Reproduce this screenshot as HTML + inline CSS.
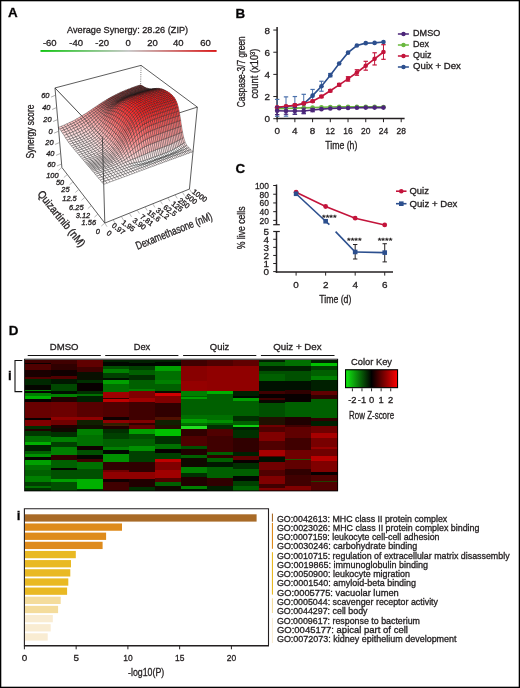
<!DOCTYPE html>
<html><head><meta charset="utf-8"><style>
html,body{margin:0;padding:0;background:#fff;}
svg{display:block;font-family:"Liberation Sans", sans-serif;will-change:transform;}
text{stroke:#231f20;stroke-width:0.32px;}
</style></head><body>
<svg width="520" height="688" viewBox="0 0 520 688" font-family='"Liberation Sans", sans-serif' fill="#231f20">
<rect x="0.65" y="0.65" width="518.7" height="686.7" fill="none" stroke="#000" stroke-width="1.3"/>
<text x="8.00" y="17.40" font-size="13.4" font-weight="bold" fill="#000">A</text>
<text x="235.40" y="17.50" font-size="13.4" font-weight="bold" fill="#000">B</text>
<text x="235.60" y="173.20" font-size="13.4" font-weight="bold" fill="#000">C</text>
<text x="8.80" y="334.50" font-size="13.4" font-weight="bold" fill="#000">D</text>
<text x="67.10" y="33.00" font-size="9.8" textLength="121" lengthAdjust="spacingAndGlyphs">Average Synergy: 28.26 (ZIP)</text>
<text x="49.80" y="46.40" font-size="9.5" text-anchor="middle">-60</text>
<text x="76.10" y="46.40" font-size="9.5" text-anchor="middle">-40</text>
<text x="102.10" y="46.40" font-size="9.5" text-anchor="middle">-20</text>
<text x="128.10" y="46.40" font-size="9.5" text-anchor="middle">0</text>
<text x="152.60" y="46.40" font-size="9.5" text-anchor="middle">20</text>
<text x="178.20" y="46.40" font-size="9.5" text-anchor="middle">40</text>
<text x="205.60" y="46.40" font-size="9.5" text-anchor="middle">60</text>
<defs><linearGradient id="cbar" x1="0" x2="1" y1="0" y2="0"><stop offset="0" stop-color="#12c412"/><stop offset="0.5" stop-color="#c8c8c8"/><stop offset="1" stop-color="#d81818"/></linearGradient><linearGradient id="ckey" x1="0" x2="1" y1="0" y2="0"><stop offset="0" stop-color="#11ee11"/><stop offset="0.5" stop-color="#000"/><stop offset="1" stop-color="#ff0000"/></linearGradient></defs>
<rect x="40.5" y="50" width="176.1" height="1.9" fill="url(#cbar)"/>
<line x1="54.99" y1="87.94" x2="141.06" y2="65.36" stroke="#333" stroke-width="0.8"/>
<line x1="141.06" y1="65.36" x2="197.33" y2="107.09" stroke="#333" stroke-width="0.8"/>
<line x1="141.06" y1="65.36" x2="139.39" y2="141.43" stroke="#444" stroke-width="0.7" stroke-dasharray="1 1.2"/>
<line x1="54.99" y1="87.94" x2="102.40" y2="137.53" stroke="#333" stroke-width="0.8"/>
<line x1="102.40" y1="137.53" x2="197.33" y2="107.09" stroke="#333" stroke-width="0.8"/>
<g stroke="#1a1a1a" stroke-width="0.4" stroke-opacity="0.88" stroke-linejoin="round">
<polygon points="140.9,86.3 142.3,85.8 140.6,84.8 139.2,85.3" fill="#7f2a2a"/>
<polygon points="139.4,86.8 140.9,86.3 139.2,85.3 137.8,85.7" fill="#7f2a2a"/>
<polygon points="137.9,87.3 139.4,86.8 137.8,85.7 136.3,86.2" fill="#7f2a2a"/>
<polygon points="136.5,87.8 137.9,87.3 136.3,86.2 134.8,86.7" fill="#7f2b2b"/>
<polygon points="142.5,87.2 144.0,86.7 142.3,85.8 140.9,86.3" fill="#7f2929"/>
<polygon points="135.0,88.3 136.5,87.8 134.8,86.7 133.3,87.3" fill="#7f2b2b"/>
<polygon points="141.1,87.7 142.5,87.2 140.9,86.3 139.4,86.8" fill="#7f2929"/>
<polygon points="133.4,88.9 135.0,88.3 133.3,87.3 131.8,87.8" fill="#7f2b2b"/>
<polygon points="139.6,88.2 141.1,87.7 139.4,86.8 137.9,87.3" fill="#7f2929"/>
<polygon points="131.9,89.4 133.4,88.9 131.8,87.8 130.3,88.4" fill="#7f2c2c"/>
<polygon points="138.1,88.7 139.6,88.2 137.9,87.3 136.5,87.8" fill="#7f2a2a"/>
<polygon points="130.3,90.0 131.9,89.4 130.3,88.4 128.7,89.0" fill="#7f2c2c"/>
<polygon points="144.2,88.0 145.7,87.6 144.0,86.7 142.5,87.2" fill="#7f2828"/>
<polygon points="136.6,89.2 138.1,88.7 136.5,87.8 135.0,88.3" fill="#7f2a2a"/>
<polygon points="128.8,90.6 130.3,90.0 128.7,89.0 127.2,89.6" fill="#7f2d2d"/>
<polygon points="142.8,88.5 144.2,88.0 142.5,87.2 141.1,87.7" fill="#7f2828"/>
<polygon points="135.1,89.8 136.6,89.2 135.0,88.3 133.4,88.9" fill="#7f2a2a"/>
<polygon points="127.2,91.3 128.8,90.6 127.2,89.6 125.6,90.2" fill="#802d2d"/>
<polygon points="141.3,89.0 142.8,88.5 141.1,87.7 139.6,88.2" fill="#7f2828"/>
<polygon points="133.5,90.3 135.1,89.8 133.4,88.9 131.9,89.4" fill="#7f2b2b"/>
<polygon points="125.6,91.9 127.2,91.3 125.6,90.2 123.9,90.9" fill="#802e2e"/>
<polygon points="139.8,89.5 141.3,89.0 139.6,88.2 138.1,88.7" fill="#7f2828"/>
<polygon points="132.0,90.9 133.5,90.3 131.9,89.4 130.3,90.0" fill="#7f2b2b"/>
<polygon points="123.9,92.6 125.6,91.9 123.9,90.9 122.3,91.6" fill="#802f2f"/>
<polygon points="146.0,88.7 147.4,88.2 145.7,87.6 144.2,88.0" fill="#7f2626"/>
<polygon points="138.3,90.0 139.8,89.5 138.1,88.7 136.6,89.2" fill="#7f2929"/>
<polygon points="130.4,91.5 132.0,90.9 130.3,90.0 128.8,90.6" fill="#802c2c"/>
<polygon points="122.3,93.4 123.9,92.6 122.3,91.6 120.7,92.3" fill="#813030"/>
<polygon points="144.5,89.1 146.0,88.7 144.2,88.0 142.8,88.5" fill="#7f2626"/>
<polygon points="136.8,90.5 138.3,90.0 136.6,89.2 135.1,89.8" fill="#7f2929"/>
<polygon points="128.8,92.2 130.4,91.5 128.8,90.6 127.2,91.3" fill="#802c2c"/>
<polygon points="120.6,94.2 122.3,93.4 120.7,92.3 119.0,93.1" fill="#813131"/>
<polygon points="143.0,89.6 144.5,89.1 142.8,88.5 141.3,89.0" fill="#7f2626"/>
<polygon points="135.2,91.1 136.8,90.5 135.1,89.8 133.5,90.3" fill="#7f2929"/>
<polygon points="118.9,95.0 120.6,94.2 119.0,93.1 117.3,93.9" fill="#823232"/>
<polygon points="127.2,92.8 128.8,92.2 127.2,91.3 125.6,91.9" fill="#802d2d"/>
<polygon points="117.1,95.8 118.9,95.0 117.3,93.9 115.6,94.8" fill="#843434"/>
<polygon points="141.5,90.1 143.0,89.6 141.3,89.0 139.8,89.5" fill="#7f2727"/>
<polygon points="125.5,93.6 127.2,92.8 125.6,91.9 123.9,92.6" fill="#802e2e"/>
<polygon points="133.6,91.7 135.2,91.1 133.5,90.3 132.0,90.9" fill="#7f2a2a"/>
<polygon points="115.4,96.8 117.1,95.8 115.6,94.8 113.8,95.7" fill="#863636"/>
<polygon points="123.9,94.3 125.5,93.6 123.9,92.6 122.3,93.4" fill="#812f2f"/>
<polygon points="132.1,92.3 133.6,91.7 132.0,90.9 130.4,91.5" fill="#802a2a"/>
<polygon points="140.0,90.6 141.5,90.1 139.8,89.5 138.3,90.0" fill="#7f2727"/>
<polygon points="147.7,89.1 149.2,88.7 147.4,88.2 146.0,88.7" fill="#7f2424"/>
<polygon points="113.6,97.7 115.4,96.8 113.8,95.7 112.0,96.6" fill="#893838"/>
<polygon points="122.2,95.1 123.9,94.3 122.3,93.4 120.6,94.2" fill="#823030"/>
<polygon points="130.4,92.9 132.1,92.3 130.4,91.5 128.8,92.2" fill="#802b2b"/>
<polygon points="138.5,91.1 140.0,90.6 138.3,90.0 136.8,90.5" fill="#7f2727"/>
<polygon points="146.2,89.6 147.7,89.1 146.0,88.7 144.5,89.1" fill="#7f2424"/>
<polygon points="111.8,98.7 113.6,97.7 112.0,96.6 110.2,97.6" fill="#8c3b3b"/>
<polygon points="120.5,95.9 122.2,95.1 120.6,94.2 118.9,95.0" fill="#833131"/>
<polygon points="128.8,93.6 130.4,92.9 128.8,92.2 127.2,92.8" fill="#802b2b"/>
<polygon points="136.9,91.6 138.5,91.1 136.8,90.5 135.2,91.1" fill="#802727"/>
<polygon points="144.7,90.0 146.2,89.6 144.5,89.1 143.0,89.6" fill="#802424"/>
<polygon points="110.0,99.8 111.8,98.7 110.2,97.6 108.4,98.6" fill="#913f3f"/>
<polygon points="118.7,96.8 120.5,95.9 118.9,95.0 117.1,95.8" fill="#843232"/>
<polygon points="127.2,94.3 128.8,93.6 127.2,92.8 125.5,93.6" fill="#802c2c"/>
<polygon points="108.1,100.9 110.0,99.8 108.4,98.6 106.6,99.7" fill="#984444"/>
<polygon points="135.3,92.2 136.9,91.6 135.2,91.1 133.6,91.7" fill="#802828"/>
<polygon points="143.2,90.5 144.7,90.0 143.0,89.6 141.5,90.1" fill="#802424"/>
<polygon points="117.0,97.7 118.7,96.8 117.1,95.8 115.4,96.8" fill="#863434"/>
<polygon points="106.2,102.1 108.1,100.9 106.6,99.7 104.7,100.9" fill="#a14a4a"/>
<polygon points="125.5,95.0 127.2,94.3 125.5,93.6 123.9,94.3" fill="#812d2d"/>
<polygon points="133.7,92.8 135.3,92.2 133.6,91.7 132.1,92.3" fill="#802828"/>
<polygon points="141.7,91.0 143.2,90.5 141.5,90.1 140.0,90.6" fill="#802424"/>
<polygon points="115.2,98.7 117.0,97.7 115.4,96.8 113.6,97.7" fill="#893737"/>
<polygon points="149.5,89.3 150.9,88.9 149.2,88.7 147.7,89.1" fill="#802121"/>
<polygon points="104.3,103.3 106.2,102.1 104.7,100.9 102.8,102.1" fill="#ab5151"/>
<polygon points="123.8,95.8 125.5,95.0 123.9,94.3 122.2,95.1" fill="#822e2e"/>
<polygon points="132.1,93.4 133.7,92.8 132.1,92.3 130.4,92.9" fill="#802929"/>
<polygon points="102.4,104.6 104.3,103.3 102.8,102.1 100.9,103.3" fill="#b75a5a"/>
<polygon points="113.4,99.7 115.2,98.7 113.6,97.7 111.8,98.7" fill="#8c3a3a"/>
<polygon points="140.2,91.5 141.7,91.0 140.0,90.6 138.5,91.1" fill="#802525"/>
<polygon points="148.0,89.7 149.5,89.3 147.7,89.1 146.2,89.6" fill="#802121"/>
<polygon points="122.1,96.6 123.8,95.8 122.2,95.1 120.5,95.9" fill="#832f2f"/>
<polygon points="100.4,105.9 102.4,104.6 100.9,103.3 98.9,104.6" fill="#c36464"/>
<polygon points="111.5,100.8 113.4,99.7 111.8,98.7 110.0,99.8" fill="#913e3e"/>
<polygon points="130.5,94.0 132.1,93.4 130.4,92.9 128.8,93.6" fill="#802929"/>
<polygon points="138.6,92.0 140.2,91.5 138.5,91.1 136.9,91.6" fill="#802525"/>
<polygon points="98.4,107.3 100.4,105.9 98.9,104.6 96.9,106.0" fill="#d06e6e"/>
<polygon points="146.5,90.2 148.0,89.7 146.2,89.6 144.7,90.0" fill="#802121"/>
<polygon points="120.3,97.5 122.1,96.6 120.5,95.9 118.7,96.8" fill="#843131"/>
<polygon points="109.7,102.0 111.5,100.8 110.0,99.8 108.1,100.9" fill="#984343"/>
<polygon points="128.8,94.7 130.5,94.0 128.8,93.6 127.2,94.3" fill="#812a2a"/>
<polygon points="96.4,108.7 98.4,107.3 96.9,106.0 94.9,107.3" fill="#db7878"/>
<polygon points="137.0,92.5 138.6,92.0 136.9,91.6 135.3,92.2" fill="#802525"/>
<polygon points="107.8,103.2 109.7,102.0 108.1,100.9 106.2,102.1" fill="#a14949"/>
<polygon points="118.6,98.4 120.3,97.5 118.7,96.8 117.0,97.7" fill="#863333"/>
<polygon points="145.0,90.6 146.5,90.2 144.7,90.0 143.2,90.5" fill="#802121"/>
<polygon points="94.3,110.1 96.4,108.7 94.9,107.3 92.8,108.7" fill="#e58282"/>
<polygon points="127.1,95.4 128.8,94.7 127.2,94.3 125.5,95.0" fill="#812b2b"/>
<polygon points="105.9,104.4 107.8,103.2 106.2,102.1 104.3,103.3" fill="#ab5050"/>
<polygon points="116.8,99.4 118.6,98.4 117.0,97.7 115.2,98.7" fill="#893535"/>
<polygon points="135.4,93.1 137.0,92.5 135.3,92.2 133.7,92.8" fill="#802525"/>
<polygon points="92.2,111.6 94.3,110.1 92.8,108.7 90.7,110.1" fill="#ec8b8b"/>
<polygon points="143.5,91.1 145.0,90.6 143.2,90.5 141.7,91.0" fill="#802222"/>
<polygon points="103.9,105.8 105.9,104.4 104.3,103.3 102.4,104.6" fill="#b75959"/>
<polygon points="125.4,96.2 127.1,95.4 125.5,95.0 123.8,95.8" fill="#822c2c"/>
<polygon points="151.3,89.3 152.8,88.8 150.9,88.9 149.5,89.3" fill="#811e1e"/>
<polygon points="114.9,100.5 116.8,99.4 115.2,98.7 113.4,99.7" fill="#8d3838"/>
<polygon points="90.0,113.1 92.2,111.6 90.7,110.1 88.6,111.6" fill="#f29494"/>
<polygon points="101.9,107.2 103.9,105.8 102.4,104.6 100.4,105.9" fill="#c36363"/>
<polygon points="133.8,93.6 135.4,93.1 133.7,92.8 132.1,93.4" fill="#812626"/>
<polygon points="141.9,91.6 143.5,91.1 141.7,91.0 140.2,91.5" fill="#812222"/>
<polygon points="113.1,101.6 114.9,100.5 113.4,99.7 111.5,100.8" fill="#923c3c"/>
<polygon points="123.7,97.0 125.4,96.2 123.8,95.8 122.1,96.6" fill="#832d2d"/>
<polygon points="87.8,114.5 90.0,113.1 88.6,111.6 86.4,113.0" fill="#f69b9b"/>
<polygon points="99.9,108.6 101.9,107.2 100.4,105.9 98.4,107.3" fill="#d06d6d"/>
<polygon points="149.8,89.7 151.3,89.3 149.5,89.3 148.0,89.7" fill="#811e1e"/>
<polygon points="132.2,94.2 133.8,93.6 132.1,93.4 130.5,94.0" fill="#812626"/>
<polygon points="111.2,102.8 113.1,101.6 111.5,100.8 109.7,102.0" fill="#984141"/>
<polygon points="97.9,110.1 99.9,108.6 98.4,107.3 96.4,108.7" fill="#db7777"/>
<polygon points="85.6,116.0 87.8,114.5 86.4,113.0 84.1,114.4" fill="#f9a3a3"/>
<polygon points="140.3,92.1 141.9,91.6 140.2,91.5 138.6,92.0" fill="#812222"/>
<polygon points="121.9,97.9 123.7,97.0 122.1,96.6 120.3,97.5" fill="#852e2e"/>
<polygon points="148.3,90.1 149.8,89.7 148.0,89.7 146.5,90.2" fill="#821e1e"/>
<polygon points="109.3,104.1 111.2,102.8 109.7,102.0 107.8,103.2" fill="#a14747"/>
<polygon points="95.8,111.6 97.9,110.1 96.4,108.7 94.3,110.1" fill="#e58282"/>
<polygon points="130.5,94.9 132.2,94.2 130.5,94.0 128.8,94.7" fill="#812727"/>
<polygon points="83.3,117.5 85.6,116.0 84.1,114.4 81.9,115.8" fill="#fba9a9"/>
<polygon points="120.2,98.8 121.9,97.9 120.3,97.5 118.6,98.4" fill="#873030"/>
<polygon points="138.8,92.6 140.3,92.1 138.6,92.0 137.0,92.5" fill="#812222"/>
<polygon points="107.4,105.4 109.3,104.1 107.8,103.2 105.9,104.4" fill="#ab4f4f"/>
<polygon points="93.7,113.1 95.8,111.6 94.3,110.1 92.2,111.6" fill="#ec8b8b"/>
<polygon points="146.8,90.6 148.3,90.1 146.5,90.2 145.0,90.6" fill="#821e1e"/>
<polygon points="81.0,118.9 83.3,117.5 81.9,115.8 79.5,117.2" fill="#fcafaf"/>
<polygon points="128.8,95.6 130.5,94.9 128.8,94.7 127.1,95.4" fill="#822828"/>
<polygon points="118.4,99.8 120.2,98.8 118.6,98.4 116.8,99.4" fill="#893333"/>
<polygon points="105.4,106.9 107.4,105.4 105.9,104.4 103.9,105.8" fill="#b75858"/>
<polygon points="91.5,114.7 93.7,113.1 92.2,111.6 90.0,113.1" fill="#f29494"/>
<polygon points="137.1,93.1 138.8,92.6 137.0,92.5 135.4,93.1" fill="#822222"/>
<polygon points="103.5,108.3 105.4,106.9 103.9,105.8 101.9,107.2" fill="#c46161"/>
<polygon points="116.5,100.9 118.4,99.8 116.8,99.4 114.9,100.5" fill="#8d3636"/>
<polygon points="89.3,116.2 91.5,114.7 90.0,113.1 87.8,114.5" fill="#f69c9c"/>
<polygon points="145.2,91.0 146.8,90.6 145.0,90.6 143.5,91.1" fill="#821e1e"/>
<polygon points="78.6,120.3 81.0,118.9 79.5,117.2 77.1,118.6" fill="#fdb5b5"/>
<polygon points="127.1,96.3 128.8,95.6 127.1,95.4 125.4,96.2" fill="#832929"/>
<polygon points="101.4,109.9 103.5,108.3 101.9,107.2 99.9,108.6" fill="#d06c6c"/>
<polygon points="153.1,89.1 154.6,88.6 152.8,88.8 151.3,89.3" fill="#841a1a"/>
<polygon points="135.5,93.7 137.1,93.1 135.4,93.1 133.8,93.6" fill="#822323"/>
<polygon points="114.7,102.1 116.5,100.9 114.9,100.5 113.1,101.6" fill="#923a3a"/>
<polygon points="87.1,117.7 89.3,116.2 87.8,114.5 85.6,116.0" fill="#f9a3a3"/>
<polygon points="99.4,111.5 101.4,109.9 99.9,108.6 97.9,110.1" fill="#db7777"/>
<polygon points="143.7,91.5 145.2,91.0 143.5,91.1 141.9,91.6" fill="#831f1f"/>
<polygon points="125.3,97.1 127.1,96.3 125.4,96.2 123.7,97.0" fill="#842a2a"/>
<polygon points="76.1,121.6 78.6,120.3 77.1,118.6 74.7,120.0" fill="#febaba"/>
<polygon points="112.8,103.3 114.7,102.1 113.1,101.6 111.2,102.8" fill="#993f3f"/>
<polygon points="97.3,113.1 99.4,111.5 97.9,110.1 95.8,111.6" fill="#e58181"/>
<polygon points="84.8,119.2 87.1,117.7 85.6,116.0 83.3,117.5" fill="#fbaaaa"/>
<polygon points="151.6,89.5 153.1,89.1 151.3,89.3 149.8,89.7" fill="#851b1b"/>
<polygon points="133.9,94.3 135.5,93.7 133.8,93.6 132.2,94.2" fill="#822323"/>
<polygon points="95.2,114.7 97.3,113.1 95.8,111.6 93.7,113.1" fill="#ec8b8b"/>
<polygon points="123.6,97.9 125.3,97.1 123.7,97.0 121.9,97.9" fill="#862b2b"/>
<polygon points="110.9,104.7 112.8,103.3 111.2,102.8 109.3,104.1" fill="#a24545"/>
<polygon points="142.1,92.0 143.7,91.5 141.9,91.6 140.3,92.1" fill="#831f1f"/>
<polygon points="73.6,123.0 76.1,121.6 74.7,120.0 72.2,121.3" fill="#febebe"/>
<polygon points="82.4,120.7 84.8,119.2 83.3,117.5 81.0,118.9" fill="#fcb0b0"/>
<polygon points="93.0,116.4 95.2,114.7 93.7,113.1 91.5,114.7" fill="#f29595"/>
<polygon points="109.0,106.2 110.9,104.7 109.3,104.1 107.4,105.4" fill="#ac4c4c"/>
<polygon points="150.1,89.9 151.6,89.5 149.8,89.7 148.3,90.1" fill="#851b1b"/>
<polygon points="132.2,94.9 133.9,94.3 132.2,94.2 130.5,94.9" fill="#832424"/>
<polygon points="121.8,98.9 123.6,97.9 121.9,97.9 120.2,98.8" fill="#882d2d"/>
<polygon points="107.0,107.7 109.0,106.2 107.4,105.4 105.4,106.9" fill="#b85555"/>
<polygon points="90.8,118.0 93.0,116.4 91.5,114.7 89.3,116.2" fill="#f69d9d"/>
<polygon points="140.5,92.5 142.1,92.0 140.3,92.1 138.8,92.6" fill="#841f1f"/>
<polygon points="80.0,122.1 82.4,120.7 81.0,118.9 78.6,120.3" fill="#fdb6b6"/>
<polygon points="71.0,124.3 73.6,123.0 72.2,121.3 69.6,122.5" fill="#fec3c3"/>
<polygon points="105.0,109.3 107.0,107.7 105.4,106.9 103.5,108.3" fill="#c46060"/>
<polygon points="120.0,99.9 121.8,98.9 120.2,98.8 118.4,99.8" fill="#8b2f2f"/>
<polygon points="148.6,90.4 150.1,89.9 148.3,90.1 146.8,90.6" fill="#861b1b"/>
<polygon points="130.5,95.5 132.2,94.9 130.5,94.9 128.8,95.6" fill="#842424"/>
<polygon points="88.6,119.6 90.8,118.0 89.3,116.2 87.1,117.7" fill="#f9a5a5"/>
<polygon points="103.0,111.0 105.0,109.3 103.5,108.3 101.4,109.9" fill="#d16b6b"/>
<polygon points="77.6,123.5 80.0,122.1 78.6,120.3 76.1,121.6" fill="#febbbb"/>
<polygon points="138.9,93.0 140.5,92.5 138.8,92.6 137.1,93.1" fill="#841f1f"/>
<polygon points="100.9,112.8 103.0,111.0 101.4,109.9 99.4,111.5" fill="#dc7676"/>
<polygon points="118.1,101.0 120.0,99.9 118.4,99.8 116.5,100.9" fill="#8f3232"/>
<polygon points="86.3,121.2 88.6,119.6 87.1,117.7 84.8,119.2" fill="#fbacac"/>
<polygon points="68.3,125.5 71.0,124.3 69.6,122.5 66.9,123.8" fill="#fec7c7"/>
<polygon points="147.0,90.8 148.6,90.4 146.8,90.6 145.2,91.0" fill="#861b1b"/>
<polygon points="128.8,96.2 130.5,95.5 128.8,95.6 127.1,96.3" fill="#852525"/>
<polygon points="98.8,114.6 100.9,112.8 99.4,111.5 97.3,113.1" fill="#e58181"/>
<polygon points="116.3,102.2 118.1,101.0 116.5,100.9 114.7,102.1" fill="#943636"/>
<polygon points="96.7,116.4 98.8,114.6 97.3,113.1 95.2,114.7" fill="#ed8c8c"/>
<polygon points="155.0,88.9 156.5,88.4 154.6,88.6 153.1,89.1" fill="#8a1717"/>
<polygon points="83.9,122.7 86.3,121.2 84.8,119.2 82.4,120.7" fill="#fcb3b3"/>
<polygon points="75.0,124.9 77.6,123.5 76.1,121.6 73.6,123.0" fill="#fec0c0"/>
<polygon points="137.3,93.5 138.9,93.0 137.1,93.1 135.5,93.7" fill="#852020"/>
<polygon points="94.5,118.2 96.7,116.4 95.2,114.7 93.0,116.4" fill="#f29696"/>
<polygon points="127.0,96.9 128.8,96.2 127.1,96.3 125.3,97.1" fill="#862626"/>
<polygon points="114.4,103.5 116.3,102.2 114.7,102.1 112.8,103.3" fill="#9b3b3b"/>
<polygon points="145.5,91.3 147.0,90.8 145.2,91.0 143.7,91.5" fill="#871b1b"/>
<polygon points="65.6,126.8 68.3,125.5 66.9,123.8 64.2,125.0" fill="#fecaca"/>
<polygon points="92.3,120.0 94.5,118.2 93.0,116.4 90.8,118.0" fill="#f69f9f"/>
<polygon points="81.5,124.2 83.9,122.7 82.4,120.7 80.0,122.1" fill="#fdb9b9"/>
<polygon points="112.5,104.9 114.4,103.5 112.8,103.3 110.9,104.7" fill="#a34242"/>
<polygon points="153.5,89.3 155.0,88.9 153.1,89.1 151.6,89.5" fill="#8b1717"/>
<polygon points="135.6,94.1 137.3,93.5 135.5,93.7 133.9,94.3" fill="#862020"/>
<polygon points="72.4,126.2 75.0,124.9 73.6,123.0 71.0,124.3" fill="#fec5c5"/>
<polygon points="125.2,97.7 127.0,96.9 125.3,97.1 123.6,97.9" fill="#882828"/>
<polygon points="90.1,121.8 92.3,120.0 90.8,118.0 88.6,119.6" fill="#f9a8a8"/>
<polygon points="110.5,106.5 112.5,104.9 110.9,104.7 109.0,106.2" fill="#ae4949"/>
<polygon points="143.9,91.8 145.5,91.3 143.7,91.5 142.1,92.0" fill="#881b1b"/>
<polygon points="79.0,125.6 81.5,124.2 80.0,122.1 77.6,123.5" fill="#febfbf"/>
<polygon points="108.6,108.2 110.5,106.5 109.0,106.2 107.0,107.7" fill="#b95252"/>
<polygon points="87.8,123.4 90.1,121.8 88.6,119.6 86.3,121.2" fill="#fbb0b0"/>
<polygon points="152.0,89.7 153.5,89.3 151.6,89.5 150.1,89.9" fill="#8d1818"/>
<polygon points="133.9,94.7 135.6,94.1 133.9,94.3 132.2,94.9" fill="#872020"/>
<polygon points="62.7,128.0 65.6,126.8 64.2,125.0 61.3,126.2" fill="#fecdcd"/>
<polygon points="106.6,110.1 108.6,108.2 107.0,107.7 105.0,109.3" fill="#c65d5d"/>
<polygon points="123.5,98.6 125.2,97.7 123.6,97.9 121.8,98.9" fill="#8b2929"/>
<polygon points="69.7,127.5 72.4,126.2 71.0,124.3 68.3,125.5" fill="#fec9c9"/>
<polygon points="104.5,112.0 106.6,110.1 105.0,109.3 103.0,111.0" fill="#d26969"/>
<polygon points="142.3,92.3 143.9,91.8 142.1,92.0 140.5,92.5" fill="#891c1c"/>
<polygon points="102.5,114.0 104.5,112.0 103.0,111.0 100.9,112.8" fill="#dd7575"/>
<polygon points="85.4,125.1 87.8,123.4 86.3,121.2 83.9,122.7" fill="#fcb7b7"/>
<polygon points="76.5,127.0 79.0,125.6 77.6,123.5 75.0,124.9" fill="#fec4c4"/>
<polygon points="100.4,116.1 102.5,114.0 100.9,112.8 98.8,114.6" fill="#e68181"/>
<polygon points="121.6,99.6 123.5,98.6 121.8,98.9 120.0,99.9" fill="#8e2c2c"/>
<polygon points="150.4,90.2 152.0,89.7 150.1,89.9 148.6,90.4" fill="#8e1818"/>
<polygon points="98.3,118.2 100.4,116.1 98.8,114.6 96.7,116.4" fill="#ee8d8d"/>
<polygon points="132.2,95.3 133.9,94.7 132.2,94.9 130.5,95.5" fill="#882121"/>
<polygon points="96.1,120.2 98.3,118.2 96.7,116.4 94.5,118.2" fill="#f39898"/>
<polygon points="83.0,126.6 85.4,125.1 83.9,122.7 81.5,124.2" fill="#fdbebe"/>
<polygon points="140.7,92.8 142.3,92.3 140.5,92.5 138.9,93.0" fill="#8a1c1c"/>
<polygon points="93.9,122.2 96.1,120.2 94.5,118.2 92.3,120.0" fill="#f7a3a3"/>
<polygon points="59.8,129.2 62.7,128.0 61.3,126.2 58.4,127.4" fill="#fed0d0"/>
<polygon points="67.0,128.7 69.7,127.5 68.3,125.5 65.6,126.8" fill="#fecccc"/>
<polygon points="119.8,100.7 121.6,99.6 120.0,99.9 118.1,101.0" fill="#922f2f"/>
<polygon points="73.9,128.3 76.5,127.0 75.0,124.9 72.4,126.2" fill="#fec8c8"/>
<polygon points="91.6,124.1 93.9,122.2 92.3,120.0 90.1,121.8" fill="#faadad"/>
<polygon points="148.9,90.7 150.4,90.2 148.6,90.4 147.0,90.8" fill="#8f1818"/>
<polygon points="130.5,95.9 132.2,95.3 130.5,95.5 128.8,96.2" fill="#892222"/>
<polygon points="80.5,128.0 83.0,126.6 81.5,124.2 79.0,125.6" fill="#fec4c4"/>
<polygon points="117.9,101.9 119.8,100.7 118.1,101.0 116.3,102.2" fill="#973232"/>
<polygon points="156.9,88.8 158.3,88.4 156.5,88.4 155.0,88.9" fill="#971515"/>
<polygon points="89.3,125.9 91.6,124.1 90.1,121.8 87.8,123.4" fill="#fbb6b6"/>
<polygon points="139.0,93.3 140.7,92.8 138.9,93.0 137.3,93.5" fill="#8c1d1d"/>
<polygon points="116.0,103.3 117.9,101.9 116.3,102.2 114.4,103.5" fill="#9e3737"/>
<polygon points="128.7,96.6 130.5,95.9 128.8,96.2 127.0,96.9" fill="#8b2323"/>
<polygon points="147.3,91.1 148.9,90.7 147.0,90.8 145.5,91.3" fill="#911818"/>
<polygon points="64.1,129.9 67.0,128.7 65.6,126.8 62.7,128.0" fill="#fed0d0"/>
<polygon points="87.0,127.6 89.3,125.9 87.8,123.4 85.4,125.1" fill="#fdbebe"/>
<polygon points="71.2,129.6 73.9,128.3 72.4,126.2 69.7,127.5" fill="#fecccc"/>
<polygon points="78.0,129.4 80.5,128.0 79.0,125.6 76.5,127.0" fill="#fec9c9"/>
<polygon points="114.1,104.8 116.0,103.3 114.4,103.5 112.5,104.9" fill="#a73e3e"/>
<polygon points="155.3,89.3 156.9,88.8 155.0,88.9 153.5,89.3" fill="#991515"/>
<polygon points="137.4,93.8 139.0,93.3 137.3,93.5 135.6,94.1" fill="#8d1d1d"/>
<polygon points="112.1,106.5 114.1,104.8 112.5,104.9 110.5,106.5" fill="#b14545"/>
<polygon points="84.6,129.2 87.0,127.6 85.4,125.1 83.0,126.6" fill="#fdc5c5"/>
<polygon points="126.9,97.4 128.7,96.6 127.0,96.9 125.2,97.7" fill="#8e2424"/>
<polygon points="145.7,91.6 147.3,91.1 145.5,91.3 143.9,91.8" fill="#931919"/>
<polygon points="110.1,108.4 112.1,106.5 110.5,106.5 108.6,108.2" fill="#bd4f4f"/>
<polygon points="99.8,119.8 101.9,117.4 100.4,116.1 98.3,118.2" fill="#ef8e8e"/>
<polygon points="97.6,122.2 99.8,119.8 98.3,118.2 96.1,120.2" fill="#f49b9b"/>
<polygon points="108.1,110.5 110.1,108.4 108.6,108.2 106.6,110.1" fill="#c95a5a"/>
<polygon points="101.9,117.4 104.0,115.0 102.5,114.0 100.4,116.1" fill="#e88181"/>
<polygon points="104.0,115.0 106.1,112.7 104.5,112.0 102.5,114.0" fill="#df7373"/>
<polygon points="106.1,112.7 108.1,110.5 106.6,110.1 104.5,112.0" fill="#d56666"/>
<polygon points="95.4,124.4 97.6,122.2 96.1,120.2 93.9,122.2" fill="#f8a7a7"/>
<polygon points="68.4,130.8 71.2,129.6 69.7,127.5 67.0,128.7" fill="#fed0d0"/>
<polygon points="153.8,89.7 155.3,89.3 153.5,89.3 152.0,89.7" fill="#9b1515"/>
<polygon points="75.4,130.7 78.0,129.4 76.5,127.0 73.9,128.3" fill="#fecece"/>
<polygon points="93.2,126.5 95.4,124.4 93.9,122.2 91.6,124.1" fill="#fab2b2"/>
<polygon points="61.2,131.1 64.1,129.9 62.7,128.0 59.8,129.2" fill="#fed2d2"/>
<polygon points="135.7,94.4 137.4,93.8 135.6,94.1 133.9,94.7" fill="#8f1e1e"/>
<polygon points="82.1,130.6 84.6,129.2 83.0,126.6 80.5,128.0" fill="#fecbcb"/>
<polygon points="125.1,98.3 126.9,97.4 125.2,97.7 123.5,98.6" fill="#902626"/>
<polygon points="90.9,128.4 93.2,126.5 91.6,124.1 89.3,125.9" fill="#fcbcbc"/>
<polygon points="144.1,92.1 145.7,91.6 143.9,91.8 142.3,92.3" fill="#941919"/>
<polygon points="88.5,130.1 90.9,128.4 89.3,125.9 87.0,127.6" fill="#fdc5c5"/>
<polygon points="152.3,90.2 153.8,89.7 152.0,89.7 150.4,90.2" fill="#9d1616"/>
<polygon points="123.3,99.2 125.1,98.3 123.5,98.6 121.6,99.6" fill="#942828"/>
<polygon points="133.9,95.0 135.7,94.4 133.9,94.7 132.2,95.3" fill="#911e1e"/>
<polygon points="72.7,132.0 75.4,130.7 73.9,128.3 71.2,129.6" fill="#fed2d2"/>
<polygon points="79.5,132.0 82.1,130.6 80.5,128.0 78.0,129.4" fill="#fed1d1"/>
<polygon points="65.6,132.1 68.4,130.8 67.0,128.7 64.1,129.9" fill="#fed3d3"/>
<polygon points="142.5,92.6 144.1,92.1 142.3,92.3 140.7,92.8" fill="#971a1a"/>
<polygon points="86.1,131.7 88.5,130.1 87.0,127.6 84.6,129.2" fill="#fecdcd"/>
<polygon points="121.4,100.3 123.3,99.2 121.6,99.6 119.8,100.7" fill="#992b2b"/>
<polygon points="150.7,90.6 152.3,90.2 150.4,90.2 148.9,90.7" fill="#a01616"/>
<polygon points="132.2,95.6 133.9,95.0 132.2,95.3 130.5,95.9" fill="#931f1f"/>
<polygon points="158.7,89.0 160.2,88.6 158.3,88.4 156.9,88.8" fill="#ac1313"/>
<polygon points="76.9,133.3 79.5,132.0 78.0,129.4 75.4,130.7" fill="#fed6d6"/>
<polygon points="69.9,133.2 72.7,132.0 71.2,129.6 68.4,130.8" fill="#fed6d6"/>
<polygon points="83.6,133.2 86.1,131.7 84.6,129.2 82.1,130.6" fill="#fed3d3"/>
<polygon points="119.5,101.5 121.4,100.3 119.8,100.7 117.9,101.9" fill="#9f2f2f"/>
<polygon points="97.0,126.4 99.2,124.0 97.6,122.2 95.4,124.4" fill="#f9abab"/>
<polygon points="94.7,128.7 97.0,126.4 95.4,124.4 93.2,126.5" fill="#fbb7b7"/>
<polygon points="140.8,93.1 142.5,92.6 140.7,92.8 139.0,93.3" fill="#991a1a"/>
<polygon points="99.2,124.0 101.4,121.3 99.8,119.8 97.6,122.2" fill="#f69d9d"/>
<polygon points="62.6,133.2 65.6,132.1 64.1,129.9 61.2,131.1" fill="#fed6d6"/>
<polygon points="92.4,130.7 94.7,128.7 93.2,126.5 90.9,128.4" fill="#fdc2c2"/>
<polygon points="101.4,121.3 103.5,118.6 101.9,117.4 99.8,119.8" fill="#f28f8f"/>
<polygon points="149.1,91.1 150.7,90.6 148.9,90.7 147.3,91.1" fill="#a21717"/>
<polygon points="117.6,102.9 119.5,101.5 117.9,101.9 116.0,103.3" fill="#a63434"/>
<polygon points="130.4,96.3 132.2,95.6 130.5,95.9 128.7,96.6" fill="#962020"/>
<polygon points="157.2,89.5 158.7,89.0 156.9,88.8 155.3,89.3" fill="#af1414"/>
<polygon points="103.5,118.6 105.6,115.9 104.0,115.0 101.9,117.4" fill="#ec8080"/>
<polygon points="90.1,132.5 92.4,130.7 90.9,128.4 88.5,130.1" fill="#fdcccc"/>
<polygon points="81.0,134.5 83.6,133.2 82.1,130.6 79.5,132.0" fill="#fed9d9"/>
<polygon points="115.7,104.5 117.6,102.9 116.0,103.3 114.1,104.8" fill="#af3a3a"/>
<polygon points="74.2,134.5 76.9,133.3 75.4,130.7 72.7,132.0" fill="#fedada"/>
<polygon points="105.6,115.9 107.7,113.2 106.1,112.7 104.0,115.0" fill="#e47171"/>
<polygon points="139.1,93.6 140.8,93.1 139.0,93.3 137.4,93.8" fill="#9b1b1b"/>
<polygon points="107.7,113.2 109.7,110.7 108.1,110.5 106.1,112.7" fill="#db6363"/>
<polygon points="113.7,106.3 115.7,104.5 114.1,104.8 112.1,106.5" fill="#b94141"/>
<polygon points="67.0,134.4 69.9,133.2 68.4,130.8 65.6,132.1" fill="#fed9d9"/>
<polygon points="147.5,91.6 149.1,91.1 147.3,91.1 145.7,91.6" fill="#a51717"/>
<polygon points="109.7,110.7 111.7,108.4 110.1,108.4 108.1,110.5" fill="#d05656"/>
<polygon points="111.7,108.4 113.7,106.3 112.1,106.5 110.1,108.4" fill="#c44b4b"/>
<polygon points="87.6,134.0 90.1,132.5 88.5,130.1 86.1,131.7" fill="#fed4d4"/>
<polygon points="128.6,97.1 130.4,96.3 128.7,96.6 126.9,97.4" fill="#992222"/>
<polygon points="155.7,89.9 157.2,89.5 155.3,89.3 153.8,89.7" fill="#b21414"/>
<polygon points="78.4,135.7 81.0,134.5 79.5,132.0 76.9,133.3" fill="#fedede"/>
<polygon points="137.4,94.2 139.1,93.6 137.4,93.8 135.7,94.4" fill="#9e1b1b"/>
<polygon points="71.4,135.7 74.2,134.5 72.7,132.0 69.9,133.2" fill="#fedddd"/>
<polygon points="85.1,135.4 87.6,134.0 86.1,131.7 83.6,133.2" fill="#fedbdb"/>
<polygon points="126.8,97.9 128.6,97.1 126.9,97.4 125.1,98.3" fill="#9d2323"/>
<polygon points="145.9,92.1 147.5,91.6 145.7,91.6 144.1,92.1" fill="#a81717"/>
<polygon points="154.2,90.4 155.7,89.9 153.8,89.7 152.3,90.2" fill="#b51414"/>
<polygon points="96.3,130.6 98.6,128.2 97.0,126.4 94.7,128.7" fill="#fcbbbb"/>
<polygon points="64.1,135.5 67.0,134.4 65.6,132.1 62.6,133.2" fill="#fedbdb"/>
<polygon points="98.6,128.2 100.8,125.6 99.2,124.0 97.0,126.4" fill="#fbaeae"/>
<polygon points="94.0,132.7 96.3,130.6 94.7,128.7 92.4,130.7" fill="#fdc7c7"/>
<polygon points="135.7,94.8 137.4,94.2 135.7,94.4 133.9,95.0" fill="#a11c1c"/>
<polygon points="100.8,125.6 103.0,122.7 101.4,121.3 99.2,124.0" fill="#f99f9f"/>
<polygon points="125.0,98.8 126.8,97.9 125.1,98.3 123.3,99.2" fill="#a12525"/>
<polygon points="75.7,136.9 78.4,135.7 76.9,133.3 74.2,134.5" fill="#fee1e1"/>
<polygon points="82.6,136.7 85.1,135.4 83.6,133.2 81.0,134.5" fill="#fee0e0"/>
<polygon points="91.6,134.5 94.0,132.7 92.4,130.7 90.1,132.5" fill="#fed1d1"/>
<polygon points="144.3,92.6 145.9,92.1 144.1,92.1 142.5,92.6" fill="#ab1818"/>
<polygon points="152.6,90.8 154.2,90.4 152.3,90.2 150.7,90.6" fill="#b91515"/>
<polygon points="160.6,89.5 162.1,89.0 160.2,88.6 158.7,89.0" fill="#c71212"/>
<polygon points="103.0,122.7 105.1,119.7 103.5,118.6 101.4,121.3" fill="#f68f8f"/>
<polygon points="68.5,136.8 71.4,135.7 69.9,133.2 67.0,134.4" fill="#fee0e0"/>
<polygon points="123.1,99.9 125.0,98.8 123.3,99.2 121.4,100.3" fill="#a62828"/>
<polygon points="89.2,136.1 91.6,134.5 90.1,132.5 87.6,134.0" fill="#fed9d9"/>
<polygon points="134.0,95.4 135.7,94.8 133.9,95.0 132.2,95.6" fill="#a41d1d"/>
<polygon points="105.1,119.7 107.2,116.6 105.6,115.9 103.5,118.6" fill="#f17f7f"/>
<polygon points="142.6,93.1 144.3,92.6 142.5,92.6 140.8,93.1" fill="#af1919"/>
<polygon points="79.9,137.9 82.6,136.7 81.0,134.5 78.4,135.7" fill="#fee5e5"/>
<polygon points="151.0,91.3 152.6,90.8 150.7,90.6 149.1,91.1" fill="#bc1515"/>
<polygon points="159.1,89.9 160.6,89.5 158.7,89.0 157.2,89.5" fill="#ca1212"/>
<polygon points="121.2,101.1 123.1,99.9 121.4,100.3 119.5,101.5" fill="#ad2c2c"/>
<polygon points="72.9,138.0 75.7,136.9 74.2,134.5 71.4,135.7" fill="#fee4e4"/>
<polygon points="107.2,116.6 109.3,113.6 107.7,113.2 105.6,115.9" fill="#eb7070"/>
<polygon points="86.7,137.5 89.2,136.1 87.6,134.0 85.1,135.4" fill="#fee0e0"/>
<polygon points="132.2,96.1 134.0,95.4 132.2,95.6 130.4,96.3" fill="#a81e1e"/>
<polygon points="119.3,102.5 121.2,101.1 119.5,101.5 117.6,102.9" fill="#b43131"/>
<polygon points="65.5,137.9 68.5,136.8 67.0,134.4 64.1,135.5" fill="#fee2e2"/>
<polygon points="109.3,113.6 111.3,110.8 109.7,110.7 107.7,113.2" fill="#e36161"/>
<polygon points="140.9,93.6 142.6,93.1 140.8,93.1 139.1,93.6" fill="#b21919"/>
<polygon points="149.4,91.8 151.0,91.3 149.1,91.1 147.5,91.6" fill="#bf1616"/>
<polygon points="117.3,104.2 119.3,102.5 117.6,102.9 115.7,104.5" fill="#bd3737"/>
<polygon points="157.6,90.4 159.1,89.9 157.2,89.5 155.7,89.9" fill="#cd1313"/>
<polygon points="111.3,110.8 113.3,108.3 111.7,108.4 109.7,110.7" fill="#da5454"/>
<polygon points="97.9,132.4 100.1,129.9 98.6,128.2 96.3,130.6" fill="#fdbdbd"/>
<polygon points="95.5,134.5 97.9,132.4 96.3,130.6 94.0,132.7" fill="#fec9c9"/>
<polygon points="115.3,106.1 117.3,104.2 115.7,104.5 113.7,106.3" fill="#c63f3f"/>
<polygon points="113.3,108.3 115.3,106.1 113.7,106.3 111.7,108.4" fill="#d04848"/>
<polygon points="77.2,139.0 79.9,137.9 78.4,135.7 75.7,136.9" fill="#fee8e8"/>
<polygon points="100.1,129.9 102.4,127.1 100.8,125.6 98.6,128.2" fill="#fdafaf"/>
<polygon points="130.4,96.8 132.2,96.1 130.4,96.3 128.6,97.1" fill="#ac2020"/>
<polygon points="84.1,138.7 86.7,137.5 85.1,135.4 82.6,136.7" fill="#fee5e5"/>
<polygon points="93.2,136.4 95.5,134.5 94.0,132.7 91.6,134.5" fill="#fed4d4"/>
<polygon points="70.0,139.1 72.9,138.0 71.4,135.7 68.5,136.8" fill="#fee7e7"/>
<polygon points="102.4,127.1 104.5,123.9 103.0,122.7 100.8,125.6" fill="#fb9f9f"/>
<polygon points="139.2,94.2 140.9,93.6 139.1,93.6 137.4,94.2" fill="#b61a1a"/>
<polygon points="156.0,90.8 157.6,90.4 155.7,89.9 154.2,90.4" fill="#d01313"/>
<polygon points="147.8,92.3 149.4,91.8 147.5,91.6 145.9,92.1" fill="#c31616"/>
<polygon points="90.7,138.0 93.2,136.4 91.6,134.5 89.2,136.1" fill="#fedcdc"/>
<polygon points="128.5,97.7 130.4,96.8 128.6,97.1 126.8,97.9" fill="#b12222"/>
<polygon points="104.5,123.9 106.7,120.6 105.1,119.7 103.0,122.7" fill="#f98f8f"/>
<polygon points="81.4,139.9 84.1,138.7 82.6,136.7 79.9,137.9" fill="#fee9e9"/>
<polygon points="74.4,140.1 77.2,139.0 75.7,136.9 72.9,138.0" fill="#feebeb"/>
<polygon points="162.6,90.2 164.1,89.8 162.1,89.0 160.6,89.5" fill="#df1111"/>
<polygon points="137.5,94.8 139.2,94.2 137.4,94.2 135.7,94.8" fill="#ba1b1b"/>
<polygon points="154.5,91.3 156.0,90.8 154.2,90.4 152.6,90.8" fill="#d31313"/>
<polygon points="146.1,92.8 147.8,92.3 145.9,92.1 144.3,92.6" fill="#c61717"/>
<polygon points="126.7,98.6 128.5,97.7 126.8,97.9 125.0,98.8" fill="#b62424"/>
<polygon points="88.2,139.3 90.7,138.0 89.2,136.1 86.7,137.5" fill="#fee3e3"/>
<polygon points="67.0,140.1 70.0,139.1 68.5,136.8 65.5,137.9" fill="#fee9e9"/>
<polygon points="106.7,120.6 108.8,117.3 107.2,116.6 105.1,119.7" fill="#f67e7e"/>
<polygon points="161.0,90.6 162.6,90.2 160.6,89.5 159.1,89.9" fill="#e11111"/>
<polygon points="135.7,95.4 137.5,94.8 135.7,94.8 134.0,95.4" fill="#be1c1c"/>
<polygon points="124.8,99.6 126.7,98.6 125.0,98.8 123.1,99.9" fill="#bb2727"/>
<polygon points="152.9,91.8 154.5,91.3 152.6,90.8 151.0,91.3" fill="#d61414"/>
<polygon points="78.7,141.0 81.4,139.9 79.9,137.9 77.2,139.0" fill="#feecec"/>
<polygon points="144.4,93.3 146.1,92.8 144.3,92.6 142.6,93.1" fill="#ca1717"/>
<polygon points="108.8,117.3 110.9,114.1 109.3,113.6 107.2,116.6" fill="#f26e6e"/>
<polygon points="99.4,134.0 101.7,131.4 100.1,129.9 97.9,132.4" fill="#febebe"/>
<polygon points="97.1,136.2 99.4,134.0 97.9,132.4 95.5,134.5" fill="#fecaca"/>
<polygon points="71.4,141.1 74.4,140.1 72.9,138.0 70.0,139.1" fill="#feeded"/>
<polygon points="85.6,140.6 88.2,139.3 86.7,137.5 84.1,138.7" fill="#fee8e8"/>
<polygon points="101.7,131.4 104.0,128.5 102.4,127.1 100.1,129.9" fill="#feafaf"/>
<polygon points="94.7,138.1 97.1,136.2 95.5,134.5 93.2,136.4" fill="#fed5d5"/>
<polygon points="122.9,100.9 124.8,99.6 123.1,99.9 121.2,101.1" fill="#c22a2a"/>
<polygon points="159.5,91.1 161.0,90.6 159.1,89.9 157.6,90.4" fill="#e41111"/>
<polygon points="133.9,96.1 135.7,95.4 134.0,95.4 132.2,96.1" fill="#c21d1d"/>
<polygon points="110.9,114.1 112.9,111.1 111.3,110.8 109.3,113.6" fill="#ed5f5f"/>
<polygon points="151.3,92.3 152.9,91.8 151.0,91.3 149.4,91.8" fill="#d91414"/>
<polygon points="142.8,93.8 144.4,93.3 142.6,93.1 140.9,93.6" fill="#cd1818"/>
<polygon points="104.0,128.5 106.1,125.2 104.5,123.9 102.4,127.1" fill="#fd9e9e"/>
<polygon points="121.0,102.3 122.9,100.9 121.2,101.1 119.3,102.5" fill="#c82f2f"/>
<polygon points="92.3,139.7 94.7,138.1 93.2,136.4 90.7,138.0" fill="#fedddd"/>
<polygon points="112.9,111.1 115.0,108.4 113.3,108.3 111.3,110.8" fill="#e75151"/>
<polygon points="75.8,142.0 78.7,141.0 77.2,139.0 74.4,140.1" fill="#feefef"/>
<polygon points="82.9,141.7 85.6,140.6 84.1,138.7 81.4,139.9" fill="#feecec"/>
<polygon points="119.0,104.0 121.0,102.3 119.3,102.5 117.3,104.2" fill="#d03535"/>
<polygon points="115.0,108.4 117.0,106.0 115.3,106.1 113.3,108.3" fill="#df4646"/>
<polygon points="117.0,106.0 119.0,104.0 117.3,104.2 115.3,106.1" fill="#d83c3c"/>
<polygon points="157.9,91.6 159.5,91.1 157.6,90.4 156.0,90.8" fill="#e61111"/>
<polygon points="132.1,96.8 133.9,96.1 132.2,96.1 130.4,96.8" fill="#c61e1e"/>
<polygon points="68.4,142.2 71.4,141.1 70.0,139.1 67.0,140.1" fill="#feeeee"/>
<polygon points="149.6,92.8 151.3,92.3 149.4,91.8 147.8,92.3" fill="#dc1414"/>
<polygon points="106.1,125.2 108.3,121.7 106.7,120.6 104.5,123.9" fill="#fc8d8d"/>
<polygon points="141.0,94.4 142.8,93.8 140.9,93.6 139.2,94.2" fill="#d11818"/>
<polygon points="89.7,141.1 92.3,139.7 90.7,138.0 88.2,139.3" fill="#fee4e4"/>
<polygon points="164.5,91.1 166.0,90.7 164.1,89.8 162.6,90.2" fill="#ef1010"/>
<polygon points="130.3,97.6 132.1,96.8 130.4,96.8 128.5,97.7" fill="#ca2020"/>
<polygon points="156.4,92.0 157.9,91.6 156.0,90.8 154.5,91.3" fill="#e81111"/>
<polygon points="80.2,142.8 82.9,141.7 81.4,139.9 78.7,141.0" fill="#feefef"/>
<polygon points="148.0,93.3 149.6,92.8 147.8,92.3 146.1,92.8" fill="#df1515"/>
<polygon points="108.3,121.7 110.4,118.1 108.8,117.3 106.7,120.6" fill="#fa7c7c"/>
<polygon points="72.9,143.0 75.8,142.0 74.4,140.1 71.4,141.1" fill="#fef1f1"/>
<polygon points="139.3,95.0 141.0,94.4 139.2,94.2 137.5,94.8" fill="#d41919"/>
<polygon points="87.1,142.4 89.7,141.1 88.2,139.3 85.6,140.6" fill="#feeaea"/>
<polygon points="98.7,137.9 101.0,135.6 99.4,134.0 97.1,136.2" fill="#fecaca"/>
<polygon points="101.0,135.6 103.3,132.9 101.7,131.4 99.4,134.0" fill="#febdbd"/>
<polygon points="162.9,91.6 164.5,91.1 162.6,90.2 161.0,90.6" fill="#f01111"/>
<polygon points="128.4,98.6 130.3,97.6 128.5,97.7 126.7,98.6" fill="#cf2222"/>
<polygon points="96.3,139.8 98.7,137.9 97.1,136.2 94.7,138.1" fill="#fed5d5"/>
<polygon points="154.8,92.5 156.4,92.0 154.5,91.3 152.9,91.8" fill="#ea1212"/>
<polygon points="103.3,132.9 105.6,129.9 104.0,128.5 101.7,131.4" fill="#feaeae"/>
<polygon points="146.3,93.8 148.0,93.3 146.1,92.8 144.4,93.3" fill="#e11515"/>
<polygon points="110.4,118.1 112.5,114.7 110.9,114.1 108.8,117.3" fill="#f86b6b"/>
<polygon points="137.5,95.6 139.3,95.0 137.5,94.8 135.7,95.4" fill="#d71a1a"/>
<polygon points="93.8,141.4 96.3,139.8 94.7,138.1 92.3,139.7" fill="#fedede"/>
<polygon points="161.4,92.1 162.9,91.6 161.0,90.6 159.5,91.1" fill="#f21111"/>
<polygon points="126.5,99.6 128.4,98.6 126.7,98.6 124.8,99.6" fill="#d42525"/>
<polygon points="77.3,143.9 80.2,142.8 78.7,141.0 75.8,142.0" fill="#fef1f1"/>
<polygon points="84.4,143.5 87.1,142.4 85.6,140.6 82.9,141.7" fill="#feeeee"/>
<polygon points="105.6,129.9 107.8,126.4 106.1,125.2 104.0,128.5" fill="#fe9d9d"/>
<polygon points="69.9,144.1 72.9,143.0 71.4,141.1 68.4,142.2" fill="#fef2f2"/>
<polygon points="153.1,93.0 154.8,92.5 152.9,91.8 151.3,92.3" fill="#ec1212"/>
<polygon points="112.5,114.7 114.6,111.5 112.9,111.1 110.9,114.1" fill="#f55c5c"/>
<polygon points="144.6,94.3 146.3,93.8 144.4,93.3 142.8,93.8" fill="#e41515"/>
<polygon points="124.6,100.9 126.5,99.6 124.8,99.6 122.9,100.9" fill="#d92828"/>
<polygon points="135.7,96.3 137.5,95.6 135.7,95.4 133.9,96.1" fill="#db1b1b"/>
<polygon points="91.3,142.9 93.8,141.4 92.3,139.7 89.7,141.1" fill="#fee5e5"/>
<polygon points="159.8,92.5 161.4,92.1 159.5,91.1 157.9,91.6" fill="#f31111"/>
<polygon points="107.8,126.4 109.9,122.8 108.3,121.7 106.1,125.2" fill="#fd8b8b"/>
<polygon points="114.6,111.5 116.6,108.6 115.0,108.4 112.9,111.1" fill="#f14e4e"/>
<polygon points="122.7,102.4 124.6,100.9 122.9,100.9 121.0,102.3" fill="#de2d2d"/>
<polygon points="151.5,93.5 153.1,93.0 151.3,92.3 149.6,92.8" fill="#ed1212"/>
<polygon points="166.4,92.3 167.9,91.8 166.0,90.7 164.5,91.1" fill="#f71111"/>
<polygon points="81.7,144.6 84.4,143.5 82.9,141.7 80.2,142.8" fill="#fef1f1"/>
<polygon points="120.7,104.1 122.7,102.4 121.0,102.3 119.0,104.0" fill="#e33232"/>
<polygon points="116.6,108.6 118.7,106.2 117.0,106.0 115.0,108.4" fill="#ed4343"/>
<polygon points="74.4,144.9 77.3,143.9 75.8,142.0 72.9,143.0" fill="#fef3f3"/>
<polygon points="133.9,97.1 135.7,96.3 133.9,96.1 132.1,96.8" fill="#de1c1c"/>
<polygon points="142.9,94.9 144.6,94.3 142.8,93.8 141.0,94.4" fill="#e61616"/>
<polygon points="118.7,106.2 120.7,104.1 119.0,104.0 117.0,106.0" fill="#e83a3a"/>
<polygon points="88.7,144.1 91.3,142.9 89.7,141.1 87.1,142.4" fill="#feeaea"/>
<polygon points="158.2,93.0 159.8,92.5 157.9,91.6 156.4,92.0" fill="#f41111"/>
<polygon points="100.3,139.5 102.6,137.2 101.0,135.6 98.7,137.9" fill="#fecaca"/>
<polygon points="102.6,137.2 104.9,134.5 103.3,132.9 101.0,135.6" fill="#febcbc"/>
<polygon points="109.9,122.8 112.1,119.1 110.4,118.1 108.3,121.7" fill="#fd7979"/>
<polygon points="97.9,141.5 100.3,139.5 98.7,137.9 96.3,139.8" fill="#fed5d5"/>
<polygon points="149.8,94.0 151.5,93.5 149.6,92.8 148.0,93.3" fill="#ef1212"/>
<polygon points="164.9,92.7 166.4,92.3 164.5,91.1 162.9,91.6" fill="#f81111"/>
<polygon points="132.1,97.9 133.9,97.1 132.1,96.8 130.3,97.6" fill="#e11e1e"/>
<polygon points="104.9,134.5 107.2,131.3 105.6,129.9 103.3,132.9" fill="#feadad"/>
<polygon points="141.1,95.5 142.9,94.9 141.0,94.4 139.3,95.0" fill="#e81616"/>
<polygon points="156.6,93.5 158.2,93.0 156.4,92.0 154.8,92.5" fill="#f51111"/>
<polygon points="95.4,143.1 97.9,141.5 96.3,139.8 93.8,141.4" fill="#fedede"/>
<polygon points="78.8,145.6 81.7,144.6 80.2,142.8 77.3,143.9" fill="#fef3f3"/>
<polygon points="86.0,145.3 88.7,144.1 87.1,142.4 84.4,143.5" fill="#feeeee"/>
<polygon points="71.4,145.9 74.4,144.9 72.9,143.0 69.9,144.1" fill="#fef4f4"/>
<polygon points="163.3,93.2 164.9,92.7 162.9,91.6 161.4,92.1" fill="#f91111"/>
<polygon points="148.1,94.6 149.8,94.0 148.0,93.3 146.3,93.8" fill="#f01313"/>
<polygon points="130.2,98.8 132.1,97.9 130.3,97.6 128.4,98.6" fill="#e42020"/>
<polygon points="112.1,119.1 114.2,115.5 112.5,114.7 110.4,118.1" fill="#fc6868"/>
<polygon points="107.2,131.3 109.4,127.8 107.8,126.4 105.6,129.9" fill="#fe9b9b"/>
<polygon points="139.3,96.1 141.1,95.5 139.3,95.0 137.5,95.6" fill="#ea1717"/>
<polygon points="92.8,144.6 95.4,143.1 93.8,141.4 91.3,142.9" fill="#fee5e5"/>
<polygon points="155.0,94.0 156.6,93.5 154.8,92.5 153.1,93.0" fill="#f61111"/>
<polygon points="128.3,99.9 130.2,98.8 128.4,98.6 126.5,99.6" fill="#e72222"/>
<polygon points="161.7,93.7 163.3,93.2 161.4,92.1 159.8,92.5" fill="#f91111"/>
<polygon points="146.4,95.1 148.1,94.6 146.3,93.8 144.6,94.3" fill="#f21313"/>
<polygon points="114.2,115.5 116.3,112.1 114.6,111.5 112.5,114.7" fill="#fa5858"/>
<polygon points="109.4,127.8 111.6,124.0 109.9,122.8 107.8,126.4" fill="#fe8989"/>
<polygon points="83.2,146.4 86.0,145.3 84.4,143.5 81.7,144.6" fill="#fef1f1"/>
<polygon points="168.2,93.6 169.8,93.1 167.9,91.8 166.4,92.3" fill="#fb1111"/>
<polygon points="75.9,146.7 78.8,145.6 77.3,143.9 74.4,144.9" fill="#fef4f4"/>
<polygon points="137.5,96.8 139.3,96.1 137.5,95.6 135.7,96.3" fill="#ec1818"/>
<polygon points="183.7,143.3 185.2,142.4 183.7,137.6 182.2,138.4" fill="#fecfcf"/>
<polygon points="126.3,101.2 128.3,99.9 126.5,99.6 124.6,100.9" fill="#eb2525"/>
<polygon points="153.4,94.5 155.0,94.0 153.1,93.0 151.5,93.5" fill="#f71111"/>
<polygon points="90.2,145.9 92.8,144.6 91.3,142.9 88.7,144.1" fill="#feeaea"/>
<polygon points="116.3,112.1 118.3,109.2 116.6,108.6 114.6,111.5" fill="#f84b4b"/>
<polygon points="101.9,141.2 104.3,138.8 102.6,137.2 100.3,139.5" fill="#fec9c9"/>
<polygon points="104.3,138.8 106.6,136.0 104.9,134.5 102.6,137.2" fill="#febcbc"/>
<polygon points="160.1,94.1 161.7,93.7 159.8,92.5 158.2,93.0" fill="#fa1111"/>
<polygon points="124.4,102.7 126.3,101.2 124.6,100.9 122.7,102.4" fill="#ee2a2a"/>
<polygon points="144.7,95.7 146.4,95.1 144.6,94.3 142.9,94.9" fill="#f31313"/>
<polygon points="99.5,143.2 101.9,141.2 100.3,139.5 97.9,141.5" fill="#fed5d5"/>
<polygon points="182.1,144.2 183.7,143.3 182.2,138.4 180.6,139.2" fill="#fed2d2"/>
<polygon points="166.7,94.0 168.2,93.6 166.4,92.3 164.9,92.7" fill="#fc1111"/>
<polygon points="185.4,146.3 187.0,145.5 185.2,142.4 183.7,143.3" fill="#fee5e5"/>
<polygon points="182.2,138.4 183.7,137.6 182.5,132.0 181.0,132.5" fill="#feb2b2"/>
<polygon points="135.7,97.6 137.5,96.8 135.7,96.3 133.9,97.1" fill="#ee1919"/>
<polygon points="118.3,109.2 120.4,106.6 118.7,106.2 116.6,108.6" fill="#f63f3f"/>
<polygon points="122.4,104.5 124.4,102.7 122.7,102.4 120.7,104.1" fill="#f12f2f"/>
<polygon points="111.6,124.0 113.7,120.2 112.1,119.1 109.9,122.8" fill="#fe7777"/>
<polygon points="120.4,106.6 122.4,104.5 120.7,104.1 118.7,106.2" fill="#f33636"/>
<polygon points="106.6,136.0 108.8,132.8 107.2,131.3 104.9,134.5" fill="#feacac"/>
<polygon points="151.7,95.0 153.4,94.5 151.5,93.5 149.8,94.0" fill="#f71111"/>
<polygon points="80.3,147.4 83.2,146.4 81.7,144.6 78.8,145.6" fill="#fef3f3"/>
<polygon points="97.0,144.9 99.5,143.2 97.9,141.5 95.4,143.1" fill="#fedede"/>
<polygon points="180.5,145.2 182.1,144.2 180.6,139.2 179.1,140.0" fill="#fed5d5"/>
<polygon points="87.5,147.0 90.2,145.9 88.7,144.1 86.0,145.3" fill="#feeeee"/>
<polygon points="183.9,147.2 185.4,146.3 183.7,143.3 182.1,144.2" fill="#fee9e9"/>
<polygon points="72.9,147.7 75.9,146.7 74.4,144.9 71.4,145.9" fill="#fef5f5"/>
<polygon points="158.5,94.6 160.1,94.1 158.2,93.0 156.6,93.5" fill="#fa1111"/>
<polygon points="180.6,139.2 182.2,138.4 181.0,132.5 179.5,133.2" fill="#feb3b3"/>
<polygon points="142.9,96.3 144.7,95.7 142.9,94.9 141.1,95.5" fill="#f41414"/>
<polygon points="165.1,94.5 166.7,94.0 164.9,92.7 163.3,93.2" fill="#fc1111"/>
<polygon points="133.8,98.4 135.7,97.6 133.9,97.1 132.1,97.9" fill="#f01a1a"/>
<polygon points="108.8,132.8 111.1,129.2 109.4,127.8 107.2,131.3" fill="#fe9a9a"/>
<polygon points="179.0,146.2 180.5,145.2 179.1,140.0 177.5,140.8" fill="#fed8d8"/>
<polygon points="182.3,148.1 183.9,147.2 182.1,144.2 180.5,145.2" fill="#feeded"/>
<polygon points="94.4,146.3 97.0,144.9 95.4,143.1 92.8,144.6" fill="#fee5e5"/>
<polygon points="150.0,95.5 151.7,95.0 149.8,94.0 148.1,94.6" fill="#f81111"/>
<polygon points="113.7,120.2 115.9,116.4 114.2,115.5 112.1,119.1" fill="#fd6565"/>
<polygon points="179.1,140.0 180.6,139.2 179.5,133.2 177.9,133.8" fill="#feb4b4"/>
<polygon points="181.0,132.5 182.5,132.0 181.5,126.0 180.0,126.6" fill="#fe9393"/>
<polygon points="156.9,95.1 158.5,94.6 156.6,93.5 155.0,94.0" fill="#fb1111"/>
<polygon points="132.0,99.4 133.8,98.4 132.1,97.9 130.2,98.8" fill="#f21c1c"/>
<polygon points="170.0,95.0 171.5,94.5 169.8,93.1 168.2,93.6" fill="#fd1111"/>
<polygon points="141.2,96.9 142.9,96.3 141.1,95.5 139.3,96.1" fill="#f51414"/>
<polygon points="180.8,149.0 182.3,148.1 180.5,145.2 179.0,146.2" fill="#fef2f2"/>
<polygon points="163.6,95.0 165.1,94.5 163.3,93.2 161.7,93.7" fill="#fc1111"/>
<polygon points="177.4,147.2 179.0,146.2 177.5,140.8 175.9,141.6" fill="#fedcdc"/>
<polygon points="84.7,148.1 87.5,147.0 86.0,145.3 83.2,146.4" fill="#fef2f2"/>
<polygon points="77.4,148.5 80.3,147.4 78.8,145.6 75.9,146.7" fill="#fef5f5"/>
<polygon points="187.4,148.3 188.9,147.7 187.0,145.5 185.4,146.3" fill="#feefef"/>
<polygon points="111.1,129.2 113.3,125.3 111.6,124.0 109.4,127.8" fill="#fe8787"/>
<polygon points="148.3,96.1 150.0,95.5 148.1,94.6 146.4,95.1" fill="#f91111"/>
<polygon points="91.8,147.6 94.4,146.3 92.8,144.6 90.2,145.9" fill="#feeaea"/>
<polygon points="177.5,140.8 179.1,140.0 177.9,133.8 176.3,134.4" fill="#feb6b6"/>
<polygon points="115.9,116.4 118.0,113.0 116.3,112.1 114.2,115.5" fill="#fd5555"/>
<polygon points="179.2,149.9 180.8,149.0 179.0,146.2 177.4,147.2" fill="#fef9f9"/>
<polygon points="130.0,100.5 132.0,99.4 130.2,98.8 128.3,99.9" fill="#f41f1f"/>
<polygon points="175.7,148.2 177.4,147.2 175.9,141.6 174.3,142.4" fill="#fedfdf"/>
<polygon points="179.5,133.2 181.0,132.5 180.0,126.6 178.5,127.1" fill="#fe9393"/>
<polygon points="155.2,95.6 156.9,95.1 155.0,94.0 153.4,94.5" fill="#fb1111"/>
<polygon points="103.5,142.9 105.9,140.5 104.3,138.8 101.9,141.2" fill="#fec9c9"/>
<polygon points="168.4,95.4 170.0,95.0 168.2,93.6 166.7,94.0" fill="#fd1111"/>
<polygon points="139.4,97.6 141.2,96.9 139.3,96.1 137.5,96.8" fill="#f61515"/>
<polygon points="105.9,140.5 108.2,137.6 106.6,136.0 104.3,138.8" fill="#febbbb"/>
<polygon points="162.0,95.4 163.6,95.0 161.7,93.7 160.1,94.1" fill="#fc1111"/>
<polygon points="185.9,148.9 187.4,148.3 185.4,146.3 183.9,147.2" fill="#fef2f2"/>
<polygon points="101.1,144.9 103.5,142.9 101.9,141.2 99.5,143.2" fill="#fed4d4"/>
<polygon points="177.6,150.8 179.2,149.9 177.4,147.2 175.7,148.2" fill="#f9f9f9"/>
<polygon points="128.1,101.8 130.0,100.5 128.3,99.9 126.3,101.2" fill="#f52222"/>
<polygon points="175.9,141.6 177.5,140.8 176.3,134.4 174.8,135.1" fill="#feb7b7"/>
<polygon points="174.1,149.1 175.7,148.2 174.3,142.4 172.7,143.2" fill="#fee2e2"/>
<polygon points="118.0,113.0 120.0,110.0 118.3,109.2 116.3,112.1" fill="#fc4747"/>
<polygon points="146.6,96.7 148.3,96.1 146.4,95.1 144.7,95.7" fill="#f91111"/>
<polygon points="108.2,137.6 110.5,134.4 108.8,132.8 106.6,136.0" fill="#feabab"/>
<polygon points="81.9,149.2 84.7,148.1 83.2,146.4 80.3,147.4" fill="#fef4f4"/>
<polygon points="177.9,133.8 179.5,133.2 178.5,127.1 176.9,127.6" fill="#fe9494"/>
<polygon points="98.6,146.6 101.1,144.9 99.5,143.2 97.0,144.9" fill="#fedede"/>
<polygon points="113.3,125.3 115.4,121.4 113.7,120.2 111.6,124.0" fill="#fe7474"/>
<polygon points="89.1,148.8 91.8,147.6 90.2,145.9 87.5,147.0" fill="#feefef"/>
<polygon points="74.3,149.5 77.4,148.5 75.9,146.7 72.9,147.7" fill="#fef6f6"/>
<polygon points="126.1,103.3 128.1,101.8 126.3,101.2 124.4,102.7" fill="#f72626"/>
<polygon points="180.0,126.6 181.5,126.0 180.7,120.4 179.1,120.9" fill="#fe7676"/>
<polygon points="184.4,149.6 185.9,148.9 183.9,147.2 182.3,148.1" fill="#fef5f5"/>
<polygon points="153.6,96.2 155.2,95.6 153.4,94.5 151.7,95.0" fill="#fb1111"/>
<polygon points="166.9,95.9 168.4,95.4 166.7,94.0 165.1,94.5" fill="#fd1111"/>
<polygon points="137.5,98.4 139.4,97.6 137.5,96.8 135.7,97.6" fill="#f71616"/>
<polygon points="160.4,95.9 162.0,95.4 160.1,94.1 158.5,94.6" fill="#fd1111"/>
<polygon points="120.0,110.0 122.1,107.3 120.4,106.6 118.3,109.2" fill="#fb3c3c"/>
<polygon points="175.9,151.6 177.6,150.8 175.7,148.2 174.1,149.1" fill="#f9f9f9"/>
<polygon points="124.1,105.1 126.1,103.3 124.4,102.7 122.4,104.5" fill="#f82b2b"/>
<polygon points="122.1,107.3 124.1,105.1 122.4,104.5 120.4,106.6" fill="#f93333"/>
<polygon points="174.3,142.4 175.9,141.6 174.8,135.1 173.2,135.7" fill="#feb8b8"/>
<polygon points="172.5,150.0 174.1,149.1 172.7,143.2 171.1,144.0" fill="#fee5e5"/>
<polygon points="171.5,96.4 173.0,96.0 171.5,94.5 170.0,95.0" fill="#fe1111"/>
<polygon points="110.5,134.4 112.7,130.7 111.1,129.2 108.8,132.8" fill="#fe9999"/>
<polygon points="144.8,97.3 146.6,96.7 144.7,95.7 142.9,96.3" fill="#fa1111"/>
<polygon points="96.0,148.1 98.6,146.6 97.0,144.9 94.4,146.3" fill="#fee5e5"/>
<polygon points="176.3,134.4 177.9,133.8 176.9,127.6 175.4,128.2" fill="#fe9494"/>
<polygon points="182.8,150.2 184.4,149.6 182.3,148.1 180.8,149.0" fill="#fef9f9"/>
<polygon points="178.5,127.1 180.0,126.6 179.1,120.9 177.6,121.4" fill="#fe7676"/>
<polygon points="135.7,99.2 137.5,98.4 135.7,97.6 133.8,98.4" fill="#f81717"/>
<polygon points="174.3,152.4 175.9,151.6 174.1,149.1 172.5,150.0" fill="#f9f9f9"/>
<polygon points="165.3,96.4 166.9,95.9 165.1,94.5 163.6,95.0" fill="#fd1111"/>
<polygon points="151.9,96.7 153.6,96.2 151.7,95.0 150.0,95.5" fill="#fc1111"/>
<polygon points="158.7,96.4 160.4,95.9 158.5,94.6 156.9,95.1" fill="#fd1111"/>
<polygon points="115.4,121.4 117.6,117.6 115.9,116.4 113.7,120.2" fill="#fe6363"/>
<polygon points="189.5,150.2 191.0,149.6 188.9,147.7 187.4,148.3" fill="#fef3f3"/>
<polygon points="170.8,150.8 172.5,150.0 171.1,144.0 169.4,144.7" fill="#fee7e7"/>
<polygon points="172.7,143.2 174.3,142.4 173.2,135.7 171.5,136.3" fill="#febaba"/>
<polygon points="86.3,149.9 89.1,148.8 87.5,147.0 84.7,148.1" fill="#fef2f2"/>
<polygon points="78.9,150.2 81.9,149.2 80.3,147.4 77.4,148.5" fill="#fef5f5"/>
<polygon points="169.9,96.9 171.5,96.4 170.0,95.0 168.4,95.4" fill="#fe1111"/>
<polygon points="181.2,150.9 182.8,150.2 180.8,149.0 179.2,149.9" fill="#f9f9f9"/>
<polygon points="143.0,97.9 144.8,97.3 142.9,96.3 141.2,96.9" fill="#fa1212"/>
<polygon points="174.8,135.1 176.3,134.4 175.4,128.2 173.8,128.8" fill="#fe9595"/>
<polygon points="93.4,149.4 96.0,148.1 94.4,146.3 91.8,147.6" fill="#feeaea"/>
<polygon points="133.8,100.2 135.7,99.2 133.8,98.4 132.0,99.4" fill="#f91919"/>
<polygon points="172.6,153.2 174.3,152.4 172.5,150.0 170.8,150.8" fill="#f9f9f9"/>
<polygon points="112.7,130.7 114.9,126.8 113.3,125.3 111.1,129.2" fill="#fe8686"/>
<polygon points="176.9,127.6 178.5,127.1 177.6,121.4 176.1,121.9" fill="#fe7676"/>
<polygon points="179.1,120.9 180.7,120.4 179.9,115.3 178.4,115.8" fill="#fe5d5d"/>
<polygon points="163.7,96.9 165.3,96.4 163.6,95.0 162.0,95.4" fill="#fe1111"/>
<polygon points="150.1,97.3 151.9,96.7 150.0,95.5 148.3,96.1" fill="#fc1111"/>
<polygon points="105.1,144.6 107.5,142.1 105.9,140.5 103.5,142.9" fill="#fec9c9"/>
<polygon points="157.1,97.0 158.7,96.4 156.9,95.1 155.2,95.6" fill="#fd1111"/>
<polygon points="187.9,150.8 189.5,150.2 187.4,148.3 185.9,148.9" fill="#fef3f3"/>
<polygon points="169.1,151.6 170.8,150.8 169.4,144.7 167.7,145.3" fill="#fee8e8"/>
<polygon points="171.1,144.0 172.7,143.2 171.5,136.3 169.9,136.9" fill="#febbbb"/>
<polygon points="107.5,142.1 109.9,139.3 108.2,137.6 105.9,140.5" fill="#febbbb"/>
<polygon points="102.7,146.6 105.1,144.6 103.5,142.9 101.1,144.9" fill="#fed4d4"/>
<polygon points="117.6,117.6 119.7,114.1 118.0,113.0 115.9,116.4" fill="#fe5252"/>
<polygon points="179.6,151.6 181.2,150.9 179.2,149.9 177.6,150.8" fill="#f9f9f9"/>
<polygon points="172.8,98.1 174.3,97.6 173.0,96.0 171.5,96.4" fill="#fe1111"/>
<polygon points="168.4,97.4 169.9,96.9 168.4,95.4 166.9,95.9" fill="#fe1111"/>
<polygon points="131.8,101.3 133.8,100.2 132.0,99.4 130.0,100.5" fill="#fa1b1b"/>
<polygon points="173.2,135.7 174.8,135.1 173.8,128.8 172.2,129.3" fill="#fe9595"/>
<polygon points="141.2,98.6 143.0,97.9 141.2,96.9 139.4,97.6" fill="#fb1313"/>
<polygon points="171.0,153.9 172.6,153.2 170.8,150.8 169.1,151.6" fill="#f9f9f9"/>
<polygon points="109.9,139.3 112.2,136.0 110.5,134.4 108.2,137.6" fill="#feaaaa"/>
<polygon points="83.4,151.0 86.3,149.9 84.7,148.1 81.9,149.2" fill="#fef4f4"/>
<polygon points="175.4,128.2 176.9,127.6 176.1,121.9 174.5,122.4" fill="#fe7676"/>
<polygon points="177.6,121.4 179.1,120.9 178.4,115.8 176.8,116.3" fill="#fe5d5d"/>
<polygon points="100.2,148.3 102.7,146.6 101.1,144.9 98.6,146.6" fill="#fedede"/>
<polygon points="162.1,97.4 163.7,96.9 162.0,95.4 160.4,95.9" fill="#fe1111"/>
<polygon points="90.7,150.6 93.4,149.4 91.8,147.6 89.1,148.8" fill="#feefef"/>
<polygon points="148.4,97.9 150.1,97.3 148.3,96.1 146.6,96.7" fill="#fc1111"/>
<polygon points="75.8,151.3 78.9,150.2 77.4,148.5 74.3,149.5" fill="#fef6f6"/>
<polygon points="186.4,151.3 187.9,150.8 185.9,148.9 184.4,149.6" fill="#fef4f4"/>
<polygon points="169.4,144.7 171.1,144.0 169.9,136.9 168.2,137.6" fill="#febbbb"/>
<polygon points="167.5,152.3 169.1,151.6 167.7,145.3 166.0,146.0" fill="#fee9e9"/>
<polygon points="155.4,97.5 157.1,97.0 155.2,95.6 153.6,96.2" fill="#fd1111"/>
<polygon points="114.9,126.8 117.1,122.8 115.4,121.4 113.3,125.3" fill="#fe7373"/>
<polygon points="129.9,102.6 131.8,101.3 130.0,100.5 128.1,101.8" fill="#fa1f1f"/>
<polygon points="119.7,114.1 121.8,111.0 120.0,110.0 118.0,113.0" fill="#fd4444"/>
<polygon points="178.0,152.2 179.6,151.6 177.6,150.8 175.9,151.6" fill="#f9f9f9"/>
<polygon points="171.3,98.6 172.8,98.1 171.5,96.4 169.9,96.9" fill="#fe1111"/>
<polygon points="166.8,97.9 168.4,97.4 166.9,95.9 165.3,96.4" fill="#fe1111"/>
<polygon points="178.4,115.8 179.9,115.3 179.1,110.9 177.6,111.4" fill="#fe4848"/>
<polygon points="171.5,136.3 173.2,135.7 172.2,129.3 170.5,129.9" fill="#fe9595"/>
<polygon points="139.3,99.4 141.2,98.6 139.4,97.6 137.5,98.4" fill="#fb1313"/>
<polygon points="169.3,154.6 171.0,153.9 169.1,151.6 167.5,152.3" fill="#f9f9f9"/>
<polygon points="127.9,104.2 129.9,102.6 128.1,101.8 126.1,103.3" fill="#fb2323"/>
<polygon points="112.2,136.0 114.4,132.3 112.7,130.7 110.5,134.4" fill="#fe9898"/>
<polygon points="97.6,149.8 100.2,148.3 98.6,146.6 96.0,148.1" fill="#fee5e5"/>
<polygon points="174.0,99.9 175.5,99.5 174.3,97.6 172.8,98.1" fill="#fe1414"/>
<polygon points="121.8,111.0 123.8,108.3 122.1,107.3 120.0,110.0" fill="#fd3939"/>
<polygon points="173.8,128.8 175.4,128.2 174.5,122.4 172.9,123.0" fill="#fe7777"/>
<polygon points="176.1,121.9 177.6,121.4 176.8,116.3 175.3,116.8" fill="#fe5d5d"/>
<polygon points="160.4,97.9 162.1,97.4 160.4,95.9 158.7,96.4" fill="#fe1111"/>
<polygon points="184.8,151.9 186.4,151.3 184.4,149.6 182.8,150.2" fill="#fef5f5"/>
<polygon points="125.9,106.0 127.9,104.2 126.1,103.3 124.1,105.1" fill="#fc2828"/>
<polygon points="146.6,98.5 148.4,97.9 146.6,96.7 144.8,97.3" fill="#fd1111"/>
<polygon points="123.8,108.3 125.9,106.0 124.1,105.1 122.1,107.3" fill="#fc2f2f"/>
<polygon points="167.7,145.3 169.4,144.7 168.2,137.6 166.6,138.2" fill="#febcbc"/>
<polygon points="176.4,152.9 178.0,152.2 175.9,151.6 174.3,152.4" fill="#f9f9f9"/>
<polygon points="165.7,152.9 167.5,152.3 166.0,146.0 164.3,146.6" fill="#feeaea"/>
<polygon points="191.5,152.1 193.0,151.6 191.0,149.6 189.5,150.2" fill="#fef5f5"/>
<polygon points="153.7,98.0 155.4,97.5 153.6,96.2 151.9,96.7" fill="#fd1111"/>
<polygon points="169.7,99.0 171.3,98.6 169.9,96.9 168.4,97.4" fill="#fe1111"/>
<polygon points="165.2,98.4 166.8,97.9 165.3,96.4 163.7,96.9" fill="#fe1111"/>
<polygon points="87.9,151.7 90.7,150.6 89.1,148.8 86.3,149.9" fill="#fef2f2"/>
<polygon points="80.4,152.0 83.4,151.0 81.9,149.2 78.9,150.2" fill="#fef5f5"/>
<polygon points="176.8,116.3 178.4,115.8 177.6,111.4 176.0,111.9" fill="#fe4848"/>
<polygon points="137.5,100.3 139.3,99.4 137.5,98.4 135.7,99.2" fill="#fc1515"/>
<polygon points="117.1,122.8 119.3,118.9 117.6,117.6 115.4,121.4" fill="#fe6161"/>
<polygon points="177.6,111.4 179.1,110.9 178.3,107.2 176.8,107.7" fill="#fe3737"/>
<polygon points="169.9,136.9 171.5,136.3 170.5,129.9 168.9,130.5" fill="#fe9696"/>
<polygon points="167.6,155.2 169.3,154.6 167.5,152.3 165.7,152.9" fill="#f9f9f9"/>
<polygon points="175.0,102.1 176.5,101.6 175.5,99.5 174.0,99.9" fill="#fe1919"/>
<polygon points="172.4,100.4 174.0,99.9 172.8,98.1 171.3,98.6" fill="#fe1414"/>
<polygon points="95.0,151.1 97.6,149.8 96.0,148.1 93.4,149.4" fill="#feeaea"/>
<polygon points="174.5,122.4 176.1,121.9 175.3,116.8 173.7,117.3" fill="#fe5d5d"/>
<polygon points="172.2,129.3 173.8,128.8 172.9,123.0 171.3,123.5" fill="#fe7777"/>
<polygon points="183.3,152.5 184.8,151.9 182.8,150.2 181.2,150.9" fill="#fef6f6"/>
<polygon points="114.4,132.3 116.6,128.3 114.9,126.8 112.7,130.7" fill="#fe8585"/>
<polygon points="158.7,98.4 160.4,97.9 158.7,96.4 157.1,97.0" fill="#fe1111"/>
<polygon points="174.7,153.5 176.4,152.9 174.3,152.4 172.6,153.2" fill="#f9f9f9"/>
<polygon points="144.8,99.1 146.6,98.5 144.8,97.3 143.0,97.9" fill="#fd1111"/>
<polygon points="106.7,146.2 109.1,143.8 107.5,142.1 105.1,144.6" fill="#fec9c9"/>
<polygon points="176.8,107.7 178.3,107.2 177.4,104.1 175.9,104.6" fill="#fe2a2a"/>
<polygon points="166.0,146.0 167.7,145.3 166.6,138.2 164.9,138.8" fill="#febcbc"/>
<polygon points="190.0,152.7 191.5,152.1 189.5,150.2 187.9,150.8" fill="#fef5f5"/>
<polygon points="175.9,104.6 177.4,104.1 176.5,101.6 175.0,102.1" fill="#fe2020"/>
<polygon points="164.0,153.6 165.7,152.9 164.3,146.6 162.6,147.3" fill="#feebeb"/>
<polygon points="151.9,98.6 153.7,98.0 151.9,96.7 150.1,97.3" fill="#fd1111"/>
<polygon points="109.1,143.8 111.5,140.9 109.9,139.3 107.5,142.1" fill="#febaba"/>
<polygon points="168.1,99.5 169.7,99.0 168.4,97.4 166.8,97.9" fill="#fe1111"/>
<polygon points="104.3,148.3 106.7,146.2 105.1,144.6 102.7,146.6" fill="#fed4d4"/>
<polygon points="135.6,101.2 137.5,100.3 135.7,99.2 133.8,100.2" fill="#fc1717"/>
<polygon points="163.6,98.9 165.2,98.4 163.7,96.9 162.1,97.4" fill="#fe1111"/>
<polygon points="175.3,116.8 176.8,116.3 176.0,111.9 174.5,112.4" fill="#fe4848"/>
<polygon points="176.0,111.9 177.6,111.4 176.8,107.7 175.2,108.2" fill="#fe3737"/>
<polygon points="168.2,137.6 169.9,136.9 168.9,130.5 167.2,131.0" fill="#fe9696"/>
<polygon points="173.4,102.5 175.0,102.1 174.0,99.9 172.4,100.4" fill="#fe1919"/>
<polygon points="165.8,155.9 167.6,155.2 165.7,152.9 164.0,153.6" fill="#f9f9f9"/>
<polygon points="170.8,100.9 172.4,100.4 171.3,98.6 169.7,99.0" fill="#fe1414"/>
<polygon points="119.3,118.9 121.4,115.3 119.7,114.1 117.6,117.6" fill="#fe5050"/>
<polygon points="172.9,123.0 174.5,122.4 173.7,117.3 172.1,117.8" fill="#fe5d5d"/>
<polygon points="111.5,140.9 113.8,137.6 112.2,136.0 109.9,139.3" fill="#feaaaa"/>
<polygon points="170.5,129.9 172.2,129.3 171.3,123.5 169.7,124.0" fill="#fe7777"/>
<polygon points="101.8,150.0 104.3,148.3 102.7,146.6 100.2,148.3" fill="#fedddd"/>
<polygon points="181.7,153.1 183.3,152.5 181.2,150.9 179.6,151.6" fill="#fef7f7"/>
<polygon points="85.0,152.8 87.9,151.7 86.3,149.9 83.4,151.0" fill="#fef4f4"/>
<polygon points="157.1,98.9 158.7,98.4 157.1,97.0 155.4,97.5" fill="#fe1111"/>
<polygon points="173.0,154.2 174.7,153.5 172.6,153.2 171.0,153.9" fill="#f9f9f9"/>
<polygon points="143.0,99.8 144.8,99.1 143.0,97.9 141.2,98.6" fill="#fd1111"/>
<polygon points="175.2,108.2 176.8,107.7 175.9,104.6 174.4,105.1" fill="#fe2a2a"/>
<polygon points="92.2,152.3 95.0,151.1 93.4,149.4 90.7,150.6" fill="#feefef"/>
<polygon points="188.5,153.3 190.0,152.7 187.9,150.8 186.4,151.3" fill="#fef5f5"/>
<polygon points="174.4,105.1 175.9,104.6 175.0,102.1 173.4,102.5" fill="#fe2020"/>
<polygon points="77.4,153.1 80.4,152.0 78.9,150.2 75.8,151.3" fill="#fef7f7"/>
<polygon points="164.3,146.6 166.0,146.0 164.9,138.8 163.1,139.4" fill="#febdbd"/>
<polygon points="133.6,102.4 135.6,101.2 133.8,100.2 131.8,101.3" fill="#fc1919"/>
<polygon points="150.2,99.2 151.9,98.6 150.1,97.3 148.4,97.9" fill="#fe1111"/>
<polygon points="162.2,154.2 164.0,153.6 162.6,147.3 160.8,147.9" fill="#feebeb"/>
<polygon points="166.5,100.0 168.1,99.5 166.8,97.9 165.2,98.4" fill="#fe1111"/>
<polygon points="161.9,99.4 163.6,98.9 162.1,97.4 160.4,97.9" fill="#fe1111"/>
<polygon points="116.6,128.3 118.8,124.2 117.1,122.8 114.9,126.8" fill="#fe7272"/>
<polygon points="173.7,117.3 175.3,116.8 174.5,112.4 172.9,112.9" fill="#fe4848"/>
<polygon points="174.5,112.4 176.0,111.9 175.2,108.2 173.7,108.7" fill="#fe3737"/>
<polygon points="166.6,138.2 168.2,137.6 167.2,131.0 165.5,131.6" fill="#fe9696"/>
<polygon points="171.9,103.0 173.4,102.5 172.4,100.4 170.8,100.9" fill="#fe1919"/>
<polygon points="121.4,115.3 123.5,112.2 121.8,111.0 119.7,114.1" fill="#fe4242"/>
<polygon points="169.3,101.4 170.8,100.9 169.7,99.0 168.1,99.5" fill="#fe1414"/>
<polygon points="99.2,151.5 101.8,150.0 100.2,148.3 97.6,149.8" fill="#fee5e5"/>
<polygon points="164.1,156.5 165.8,155.9 164.0,153.6 162.2,154.2" fill="#f9f9f9"/>
<polygon points="131.7,103.7 133.6,102.4 131.8,101.3 129.9,102.6" fill="#fd1c1c"/>
<polygon points="113.8,137.6 116.0,133.8 114.4,132.3 112.2,136.0" fill="#fe9898"/>
<polygon points="171.3,123.5 172.9,123.0 172.1,117.8 170.5,118.3" fill="#fe5d5d"/>
<polygon points="168.9,130.5 170.5,129.9 169.7,124.0 168.0,124.6" fill="#fe7777"/>
<polygon points="180.1,153.7 181.7,153.1 179.6,151.6 178.0,152.2" fill="#fef8f8"/>
<polygon points="141.2,100.6 143.0,99.8 141.2,98.6 139.3,99.4" fill="#fd1212"/>
<polygon points="171.3,154.8 173.0,154.2 171.0,153.9 169.3,154.6" fill="#f9f9f9"/>
<polygon points="155.4,99.5 157.1,98.9 155.4,97.5 153.7,98.0" fill="#fe1111"/>
<polygon points="173.7,108.7 175.2,108.2 174.4,105.1 172.8,105.6" fill="#fe2a2a"/>
<polygon points="186.9,153.8 188.5,153.3 186.4,151.3 184.8,151.9" fill="#fef5f5"/>
<polygon points="172.8,105.6 174.4,105.1 173.4,102.5 171.9,103.0" fill="#fe2020"/>
<polygon points="162.6,147.3 164.3,146.6 163.1,139.4 161.4,140.0" fill="#febdbd"/>
<polygon points="148.4,99.8 150.2,99.2 148.4,97.9 146.6,98.5" fill="#fe1111"/>
<polygon points="129.7,105.3 131.7,103.7 129.9,102.6 127.9,104.2" fill="#fd2020"/>
<polygon points="123.5,112.2 125.6,109.4 123.8,108.3 121.8,111.0" fill="#fe3636"/>
<polygon points="164.9,100.5 166.5,100.0 165.2,98.4 163.6,98.9" fill="#fe1111"/>
<polygon points="160.5,154.9 162.2,154.2 160.8,147.9 159.0,148.6" fill="#feebeb"/>
<polygon points="172.1,117.8 173.7,117.3 172.9,112.9 171.3,113.4" fill="#fe4848"/>
<polygon points="160.3,99.9 161.9,99.4 160.4,97.9 158.7,98.4" fill="#fe1111"/>
<polygon points="172.9,112.9 174.5,112.4 173.7,108.7 172.1,109.2" fill="#fe3737"/>
<polygon points="89.4,153.5 92.2,152.3 90.7,150.6 87.9,151.7" fill="#fef2f2"/>
<polygon points="82.0,153.8 85.0,152.8 83.4,151.0 80.4,152.0" fill="#fef6f6"/>
<polygon points="127.6,107.2 129.7,105.3 127.9,104.2 125.9,106.0" fill="#fd2626"/>
<polygon points="125.6,109.4 127.6,107.2 125.9,106.0 123.8,108.3" fill="#fe2d2d"/>
<polygon points="164.9,138.8 166.6,138.2 165.5,131.6 163.8,132.2" fill="#fe9696"/>
<polygon points="170.3,103.5 171.9,103.0 170.8,100.9 169.3,101.4" fill="#fe1919"/>
<polygon points="167.6,101.9 169.3,101.4 168.1,99.5 166.5,100.0" fill="#fe1414"/>
<polygon points="118.8,124.2 121.0,120.3 119.3,118.9 117.1,122.8" fill="#fe5f5f"/>
<polygon points="169.7,124.0 171.3,123.5 170.5,118.3 168.8,118.9" fill="#fe5d5d"/>
<polygon points="96.5,152.8 99.2,151.5 97.6,149.8 95.0,151.1" fill="#feeaea"/>
<polygon points="162.3,157.2 164.1,156.5 162.2,154.2 160.5,154.9" fill="#f9f9f9"/>
<polygon points="167.2,131.0 168.9,130.5 168.0,124.6 166.3,125.2" fill="#fe7777"/>
<polygon points="178.4,154.3 180.1,153.7 178.0,152.2 176.4,152.9" fill="#fef9f9"/>
<polygon points="139.3,101.5 141.2,100.6 139.3,99.4 137.5,100.3" fill="#fd1313"/>
<polygon points="108.2,147.8 110.6,145.4 109.1,143.8 106.7,146.2" fill="#fec9c9"/>
<polygon points="172.1,109.2 173.7,108.7 172.8,105.6 171.2,106.1" fill="#fe2a2a"/>
<polygon points="169.6,155.5 171.3,154.8 169.3,154.6 167.6,155.2" fill="#f9f9f9"/>
<polygon points="153.6,100.0 155.4,99.5 153.7,98.0 151.9,98.6" fill="#fe1111"/>
<polygon points="116.0,133.8 118.3,129.8 116.6,128.3 114.4,132.3" fill="#fe8585"/>
<polygon points="171.2,106.1 172.8,105.6 171.9,103.0 170.3,103.5" fill="#fe2020"/>
<polygon points="185.3,154.4 186.9,153.8 184.8,151.9 183.3,152.5" fill="#fef5f5"/>
<polygon points="110.6,145.4 113.0,142.5 111.5,140.9 109.1,143.8" fill="#febaba"/>
<polygon points="105.7,149.9 108.2,147.8 106.7,146.2 104.3,148.3" fill="#fed4d4"/>
<polygon points="146.6,100.5 148.4,99.8 146.6,98.5 144.8,99.1" fill="#fe1111"/>
<polygon points="160.8,147.9 162.6,147.3 161.4,140.0 159.6,140.7" fill="#febdbd"/>
<polygon points="163.2,101.0 164.9,100.5 163.6,98.9 161.9,99.4" fill="#fe1111"/>
<polygon points="170.5,118.3 172.1,117.8 171.3,113.4 169.7,113.9" fill="#fe4848"/>
<polygon points="158.6,155.6 160.5,154.9 159.0,148.6 157.2,149.3" fill="#feebeb"/>
<polygon points="158.6,100.4 160.3,99.9 158.7,98.4 157.1,98.9" fill="#fe1111"/>
<polygon points="171.3,113.4 172.9,112.9 172.1,109.2 170.5,109.7" fill="#fe3737"/>
<polygon points="168.7,104.0 170.3,103.5 169.3,101.4 167.6,101.9" fill="#fe1919"/>
<polygon points="163.1,139.4 164.9,138.8 163.8,132.2 162.1,132.8" fill="#fe9797"/>
<polygon points="113.0,142.5 115.3,139.1 113.8,137.6 111.5,140.9" fill="#feaaaa"/>
<polygon points="166.0,102.4 167.6,101.9 166.5,100.0 164.9,100.5" fill="#fe1414"/>
<polygon points="103.2,151.6 105.7,149.9 104.3,148.3 101.8,150.0" fill="#fedddd"/>
<polygon points="137.4,102.4 139.3,101.5 137.5,100.3 135.6,101.2" fill="#fd1515"/>
<polygon points="168.0,124.6 169.7,124.0 168.8,118.9 167.2,119.4" fill="#fe5d5d"/>
<polygon points="176.8,154.9 178.4,154.3 176.4,152.9 174.7,153.5" fill="#f9f9f9"/>
<polygon points="165.5,131.6 167.2,131.0 166.3,125.2 164.6,125.8" fill="#fe7777"/>
<polygon points="160.5,157.9 162.3,157.2 160.5,154.9 158.6,155.6" fill="#f9f9f9"/>
<polygon points="86.5,154.5 89.4,153.5 87.9,151.7 85.0,152.8" fill="#fef4f4"/>
<polygon points="170.5,109.7 172.1,109.2 171.2,106.1 169.6,106.6" fill="#fe2a2a"/>
<polygon points="121.0,120.3 123.1,116.7 121.4,115.3 119.3,118.9" fill="#fe4f4f"/>
<polygon points="169.6,106.6 171.2,106.1 170.3,103.5 168.7,104.0" fill="#fe2121"/>
<polygon points="183.7,155.0 185.3,154.4 183.3,152.5 181.7,153.1" fill="#fef6f6"/>
<polygon points="151.9,100.6 153.6,100.0 151.9,98.6 150.2,99.2" fill="#fe1111"/>
<polygon points="93.8,154.0 96.5,152.8 95.0,151.1 92.2,152.3" fill="#feefef"/>
<polygon points="167.9,156.1 169.6,155.5 167.6,155.2 165.8,155.9" fill="#f9f9f9"/>
<polygon points="78.9,154.9 82.0,153.8 80.4,152.0 77.4,153.1" fill="#fef7f7"/>
<polygon points="144.8,101.2 146.6,100.5 144.8,99.1 143.0,99.8" fill="#fe1111"/>
<polygon points="159.0,148.6 160.8,147.9 159.6,140.7 157.8,141.4" fill="#febebe"/>
<polygon points="161.6,101.6 163.2,101.0 161.9,99.4 160.3,99.9" fill="#fe1111"/>
<polygon points="168.8,118.9 170.5,118.3 169.7,113.9 168.0,114.4" fill="#fe4848"/>
<polygon points="156.9,101.0 158.6,100.4 157.1,98.9 155.4,99.5" fill="#fe1111"/>
<polygon points="169.7,113.9 171.3,113.4 170.5,109.7 168.8,110.2" fill="#fe3737"/>
<polygon points="118.3,129.8 120.5,125.8 118.8,124.2 116.6,128.3" fill="#fe7171"/>
<polygon points="135.4,103.6 137.4,102.4 135.6,101.2 133.6,102.4" fill="#fe1717"/>
<polygon points="156.8,156.2 158.6,155.6 157.2,149.3 155.3,150.0" fill="#feecec"/>
<polygon points="100.6,153.1 103.2,151.6 101.8,150.0 99.2,151.5" fill="#fee5e5"/>
<polygon points="167.0,104.5 168.7,104.0 167.6,101.9 166.0,102.4" fill="#fe1919"/>
<polygon points="115.3,139.1 117.6,135.4 116.0,133.8 113.8,137.6" fill="#fe9898"/>
<polygon points="164.4,102.9 166.0,102.4 164.9,100.5 163.2,101.0" fill="#fe1414"/>
<polygon points="161.4,140.0 163.1,139.4 162.1,132.8 160.3,133.5" fill="#fe9797"/>
<polygon points="166.3,125.2 168.0,124.6 167.2,119.4 165.5,120.0" fill="#fe5d5d"/>
<polygon points="175.1,155.5 176.8,154.9 174.7,153.5 173.0,154.2" fill="#f9f9f9"/>
<polygon points="163.8,132.2 165.5,131.6 164.6,125.8 162.9,126.3" fill="#fe7777"/>
<polygon points="123.1,116.7 125.3,113.5 123.5,112.2 121.4,115.3" fill="#fe4141"/>
<polygon points="168.8,110.2 170.5,109.7 169.6,106.6 168.0,107.1" fill="#fe2a2a"/>
<polygon points="168.0,107.1 169.6,106.6 168.7,104.0 167.0,104.5" fill="#fe2121"/>
<polygon points="158.6,158.5 160.5,157.9 158.6,155.6 156.8,156.2" fill="#f9f9f9"/>
<polygon points="182.1,155.6 183.7,155.0 181.7,153.1 180.1,153.7" fill="#fef6f6"/>
<polygon points="150.1,101.3 151.9,100.6 150.2,99.2 148.4,99.8" fill="#fe1111"/>
<polygon points="133.5,104.9 135.4,103.6 133.6,102.4 131.7,103.7" fill="#fe1a1a"/>
<polygon points="142.9,102.0 144.8,101.2 143.0,99.8 141.2,100.6" fill="#fe1111"/>
<polygon points="166.1,156.7 167.9,156.1 165.8,155.9 164.1,156.5" fill="#f9f9f9"/>
<polygon points="159.9,102.1 161.6,101.6 160.3,99.9 158.6,100.4" fill="#fe1111"/>
<polygon points="157.2,149.3 159.0,148.6 157.8,141.4 156.0,142.0" fill="#febebe"/>
<polygon points="167.2,119.4 168.8,118.9 168.0,114.4 166.4,115.0" fill="#fe4848"/>
<polygon points="155.1,101.6 156.9,101.0 155.4,99.5 153.6,100.0" fill="#fe1111"/>
<polygon points="168.0,114.4 169.7,113.9 168.8,110.2 167.2,110.7" fill="#fe3737"/>
<polygon points="109.5,149.2 112.0,146.8 110.6,145.4 108.2,147.8" fill="#fec9c9"/>
<polygon points="90.9,155.2 93.8,154.0 92.2,152.3 89.4,153.5" fill="#fef2f2"/>
<polygon points="83.5,155.6 86.5,154.5 85.0,152.8 82.0,153.8" fill="#fef6f6"/>
<polygon points="165.4,105.1 167.0,104.5 166.0,102.4 164.4,102.9" fill="#fe1919"/>
<polygon points="154.9,156.9 156.8,156.2 155.3,150.0 153.5,150.7" fill="#feecec"/>
<polygon points="112.0,146.8 114.3,143.9 113.0,142.5 110.6,145.4" fill="#febbbb"/>
<polygon points="125.3,113.5 127.4,110.8 125.6,109.4 123.5,112.2" fill="#fe3535"/>
<polygon points="131.5,106.5 133.5,104.9 131.7,103.7 129.7,105.3" fill="#fe1e1e"/>
<polygon points="97.9,154.4 100.6,153.1 99.2,151.5 96.5,152.8" fill="#feeaea"/>
<polygon points="162.7,103.4 164.4,102.9 163.2,101.0 161.6,101.6" fill="#fe1414"/>
<polygon points="107.1,151.3 109.5,149.2 108.2,147.8 105.7,149.9" fill="#fed4d4"/>
<polygon points="159.6,140.7 161.4,140.0 160.3,133.5 158.6,134.1" fill="#fe9797"/>
<polygon points="164.6,125.8 166.3,125.2 165.5,120.0 163.8,120.6" fill="#fe5d5d"/>
<polygon points="117.6,135.4 119.8,131.4 118.3,129.8 116.0,133.8" fill="#fe8585"/>
<polygon points="120.5,125.8 122.7,121.8 121.0,120.3 118.8,124.2" fill="#fe5f5f"/>
<polygon points="129.4,108.4 131.5,106.5 129.7,105.3 127.6,107.2" fill="#fe2424"/>
<polygon points="127.4,110.8 129.4,108.4 127.6,107.2 125.6,109.4" fill="#fe2b2b"/>
<polygon points="173.4,156.1 175.1,155.5 173.0,154.2 171.3,154.8" fill="#f9f9f9"/>
<polygon points="162.1,132.8 163.8,132.2 162.9,126.3 161.2,127.0" fill="#fe7777"/>
<polygon points="167.2,110.7 168.8,110.2 168.0,107.1 166.3,107.6" fill="#fe2a2a"/>
<polygon points="166.3,107.6 168.0,107.1 167.0,104.5 165.4,105.1" fill="#fe2121"/>
<polygon points="141.0,102.8 142.9,102.0 141.2,100.6 139.3,101.5" fill="#fe1212"/>
<polygon points="148.3,101.9 150.1,101.3 148.4,99.8 146.6,100.5" fill="#fe1111"/>
<polygon points="180.5,156.2 182.1,155.6 180.1,153.7 178.4,154.3" fill="#fef6f6"/>
<polygon points="156.7,159.2 158.6,158.5 156.8,156.2 154.9,156.9" fill="#f9f9f9"/>
<polygon points="114.3,143.9 116.6,140.6 115.3,139.1 113.0,142.5" fill="#feaaaa"/>
<polygon points="164.3,157.4 166.1,156.7 164.1,156.5 162.3,157.2" fill="#f9f9f9"/>
<polygon points="104.5,153.0 107.1,151.3 105.7,149.9 103.2,151.6" fill="#fedede"/>
<polygon points="158.2,102.7 159.9,102.1 158.6,100.4 156.9,101.0" fill="#fe1111"/>
<polygon points="165.5,120.0 167.2,119.4 166.4,115.0 164.7,115.5" fill="#fe4848"/>
<polygon points="155.3,150.0 157.2,149.3 156.0,142.0 154.1,142.8" fill="#febebe"/>
<polygon points="153.4,102.2 155.1,101.6 153.6,100.0 151.9,100.6" fill="#fe1111"/>
<polygon points="166.4,115.0 168.0,114.4 167.2,110.7 165.5,111.3" fill="#fe3838"/>
<polygon points="163.7,105.6 165.4,105.1 164.4,102.9 162.7,103.4" fill="#fe1919"/>
<polygon points="161.0,104.0 162.7,103.4 161.6,101.6 159.9,102.1" fill="#fe1414"/>
<polygon points="153.0,157.6 154.9,156.9 153.5,150.7 151.6,151.4" fill="#feeded"/>
<polygon points="157.8,141.4 159.6,140.7 158.6,134.1 156.7,134.8" fill="#fe9797"/>
<polygon points="162.9,126.3 164.6,125.8 163.8,120.6 162.1,121.2" fill="#fe5e5e"/>
<polygon points="95.2,155.7 97.9,154.4 96.5,152.8 93.8,154.0" fill="#feefef"/>
<polygon points="139.1,103.8 141.0,102.8 139.3,101.5 137.4,102.4" fill="#fe1414"/>
<polygon points="88.0,156.3 90.9,155.2 89.4,153.5 86.5,154.5" fill="#fef4f4"/>
<polygon points="171.6,156.7 173.4,156.1 171.3,154.8 169.6,155.5" fill="#f9f9f9"/>
<polygon points="160.3,133.5 162.1,132.8 161.2,127.0 159.4,127.6" fill="#fe7878"/>
<polygon points="165.5,111.3 167.2,110.7 166.3,107.6 164.7,108.2" fill="#fe2b2b"/>
<polygon points="146.4,102.6 148.3,101.9 146.6,100.5 144.8,101.2" fill="#fe1111"/>
<polygon points="164.7,108.2 166.3,107.6 165.4,105.1 163.7,105.6" fill="#fe2121"/>
<polygon points="178.8,156.8 180.5,156.2 178.4,154.3 176.8,154.9" fill="#fef6f6"/>
<polygon points="101.9,154.5 104.5,153.0 103.2,151.6 100.6,153.1" fill="#fee5e5"/>
<polygon points="116.6,140.6 118.9,136.9 117.6,135.4 115.3,139.1" fill="#fe9898"/>
<polygon points="122.7,121.8 124.8,118.2 123.1,116.7 121.0,120.3" fill="#fe4e4e"/>
<polygon points="80.4,156.7 83.5,155.6 82.0,153.8 78.9,154.9" fill="#fef7f7"/>
<polygon points="154.8,159.9 156.7,159.2 154.9,156.9 153.0,157.6" fill="#f9f9f9"/>
<polygon points="119.8,131.4 122.0,127.3 120.5,125.8 118.3,129.8" fill="#fe7171"/>
<polygon points="156.4,103.2 158.2,102.7 156.9,101.0 155.1,101.6" fill="#fe1111"/>
<polygon points="162.5,158.1 164.3,157.4 162.3,157.2 160.5,157.9" fill="#f9f9f9"/>
<polygon points="163.8,120.6 165.5,120.0 164.7,115.5 163.0,116.1" fill="#fe4848"/>
<polygon points="151.6,102.8 153.4,102.2 151.9,100.6 150.1,101.3" fill="#fe1111"/>
<polygon points="164.7,115.5 166.4,115.0 165.5,111.3 163.8,111.8" fill="#fe3838"/>
<polygon points="153.5,150.7 155.3,150.0 154.1,142.8 152.2,143.5" fill="#febfbf"/>
<polygon points="162.0,106.1 163.7,105.6 162.7,103.4 161.0,104.0" fill="#fe1919"/>
<polygon points="137.2,105.0 139.1,103.8 137.4,102.4 135.4,103.6" fill="#fe1616"/>
<polygon points="110.7,150.5 113.1,148.1 112.0,146.8 109.5,149.2" fill="#fec9c9"/>
<polygon points="159.3,104.5 161.0,104.0 159.9,102.1 158.2,102.7" fill="#fe1414"/>
<polygon points="113.1,148.1 115.5,145.3 114.3,143.9 112.0,146.8" fill="#febbbb"/>
<polygon points="151.1,158.4 153.0,157.6 151.6,151.4 149.6,152.2" fill="#feeeee"/>
<polygon points="156.0,142.0 157.8,141.4 156.7,134.8 154.9,135.5" fill="#fe9898"/>
<polygon points="108.2,152.6 110.7,150.5 109.5,149.2 107.1,151.3" fill="#fed5d5"/>
<polygon points="161.2,127.0 162.9,126.3 162.1,121.2 160.3,121.8" fill="#fe5e5e"/>
<polygon points="144.6,103.4 146.4,102.6 144.8,101.2 142.9,102.0" fill="#fe1111"/>
<polygon points="163.8,111.8 165.5,111.3 164.7,108.2 163.0,108.7" fill="#fe2b2b"/>
<polygon points="158.6,134.1 160.3,133.5 159.4,127.6 157.6,128.2" fill="#fe7878"/>
<polygon points="169.9,157.4 171.6,156.7 169.6,155.5 167.9,156.1" fill="#f9f9f9"/>
<polygon points="163.0,108.7 164.7,108.2 163.7,105.6 162.0,106.1" fill="#fe2121"/>
<polygon points="124.8,118.2 127.0,114.9 125.3,113.5 123.1,116.7" fill="#fe4040"/>
<polygon points="177.1,157.4 178.8,156.8 176.8,154.9 175.1,155.5" fill="#fef6f6"/>
<polygon points="99.2,155.9 101.9,154.5 100.6,153.1 97.9,154.4" fill="#feeaea"/>
<polygon points="92.4,156.8 95.2,155.7 93.8,154.0 90.9,155.2" fill="#fef2f2"/>
<polygon points="135.2,106.3 137.2,105.0 135.4,103.6 133.5,104.9" fill="#fe1919"/>
<polygon points="115.5,145.3 117.8,142.0 116.6,140.6 114.3,143.9" fill="#feabab"/>
<polygon points="154.7,103.8 156.4,103.2 155.1,101.6 153.4,102.2" fill="#fe1111"/>
<polygon points="118.9,136.9 121.2,132.9 119.8,131.4 117.6,135.4" fill="#fe8585"/>
<polygon points="152.9,160.6 154.8,159.9 153.0,157.6 151.1,158.4" fill="#f9f9f9"/>
<polygon points="162.1,121.2 163.8,120.6 163.0,116.1 161.2,116.7" fill="#fe4949"/>
<polygon points="149.8,103.5 151.6,102.8 150.1,101.3 148.3,101.9" fill="#fe1111"/>
<polygon points="160.6,158.7 162.5,158.1 160.5,157.9 158.6,158.5" fill="#f9f9f9"/>
<polygon points="163.0,116.1 164.7,115.5 163.8,111.8 162.1,112.4" fill="#fe3838"/>
<polygon points="105.7,154.3 108.2,152.6 107.1,151.3 104.5,153.0" fill="#fedede"/>
<polygon points="85.0,157.4 88.0,156.3 86.5,154.5 83.5,155.6" fill="#fef6f6"/>
<polygon points="151.6,151.4 153.5,150.7 152.2,143.5 150.3,144.3" fill="#fec0c0"/>
<polygon points="160.3,106.7 162.0,106.1 161.0,104.0 159.3,104.5" fill="#fe1a1a"/>
<polygon points="122.0,127.3 124.2,123.3 122.7,121.8 120.5,125.8" fill="#fe5f5f"/>
<polygon points="157.6,105.1 159.3,104.5 158.2,102.7 156.4,103.2" fill="#fe1515"/>
<polygon points="127.0,114.9 129.1,112.2 127.4,110.8 125.3,113.5" fill="#fe3434"/>
<polygon points="133.2,107.9 135.2,106.3 133.5,104.9 131.5,106.5" fill="#fe1d1d"/>
<polygon points="154.1,142.8 156.0,142.0 154.9,135.5 153.0,136.2" fill="#fe9898"/>
<polygon points="142.7,104.3 144.6,103.4 142.9,102.0 141.0,102.8" fill="#fe1212"/>
<polygon points="149.1,159.1 151.1,158.4 149.6,152.2 147.6,153.0" fill="#feeeee"/>
<polygon points="159.4,127.6 161.2,127.0 160.3,121.8 158.5,122.4" fill="#fe5e5e"/>
<polygon points="162.1,112.4 163.8,111.8 163.0,108.7 161.3,109.3" fill="#fe2b2b"/>
<polygon points="131.1,109.9 133.2,107.9 131.5,106.5 129.4,108.4" fill="#fe2323"/>
<polygon points="129.1,112.2 131.1,109.9 129.4,108.4 127.4,110.8" fill="#fe2a2a"/>
<polygon points="161.3,109.3 163.0,108.7 162.0,106.1 160.3,106.7" fill="#fe2121"/>
<polygon points="156.7,134.8 158.6,134.1 157.6,128.2 155.8,128.9" fill="#fe7878"/>
<polygon points="168.1,158.0 169.9,157.4 167.9,156.1 166.1,156.7" fill="#f9f9f9"/>
<polygon points="175.4,158.0 177.1,157.4 175.1,155.5 173.4,156.1" fill="#fef6f6"/>
<polygon points="117.8,142.0 120.1,138.3 118.9,136.9 116.6,140.6" fill="#fe9999"/>
<polygon points="152.9,104.5 154.7,103.8 153.4,102.2 151.6,102.8" fill="#fe1212"/>
<polygon points="103.1,155.8 105.7,154.3 104.5,153.0 101.9,154.5" fill="#fee5e5"/>
<polygon points="147.9,104.2 149.8,103.5 148.3,101.9 146.4,102.6" fill="#fe1111"/>
<polygon points="96.5,157.1 99.2,155.9 97.9,154.4 95.2,155.7" fill="#feefef"/>
<polygon points="160.3,121.8 162.1,121.2 161.2,116.7 159.5,117.3" fill="#fe4949"/>
<polygon points="161.2,116.7 163.0,116.1 162.1,112.4 160.4,113.0" fill="#fe3838"/>
<polygon points="111.7,151.7 114.2,149.3 113.1,148.1 110.7,150.5" fill="#fecaca"/>
<polygon points="158.7,159.4 160.6,158.7 158.6,158.5 156.7,159.2" fill="#f9f9f9"/>
<polygon points="150.9,161.3 152.9,160.6 151.1,158.4 149.1,159.1" fill="#f9f9f9"/>
<polygon points="149.6,152.2 151.6,151.4 150.3,144.3 148.3,145.2" fill="#fec1c1"/>
<polygon points="158.6,107.3 160.3,106.7 159.3,104.5 157.6,105.1" fill="#fe1a1a"/>
<polygon points="114.2,149.3 116.6,146.5 115.5,145.3 113.1,148.1" fill="#febcbc"/>
<polygon points="140.8,105.3 142.7,104.3 141.0,102.8 139.1,103.8" fill="#fe1414"/>
<polygon points="155.8,105.7 157.6,105.1 156.4,103.2 154.7,103.8" fill="#fe1515"/>
<polygon points="89.4,157.9 92.4,156.8 90.9,155.2 88.0,156.3" fill="#fef4f4"/>
<polygon points="121.2,132.9 123.4,128.8 122.0,127.3 119.8,131.4" fill="#fe7272"/>
<polygon points="109.3,153.8 111.7,151.7 110.7,150.5 108.2,152.6" fill="#fed5d5"/>
<polygon points="152.2,143.5 154.1,142.8 153.0,136.2 151.1,137.0" fill="#fe9999"/>
<polygon points="124.2,123.3 126.4,119.7 124.8,118.2 122.7,121.8" fill="#fe4e4e"/>
<polygon points="157.6,128.2 159.4,127.6 158.5,122.4 156.7,123.1" fill="#fe5e5e"/>
<polygon points="160.4,113.0 162.1,112.4 161.3,109.3 159.5,109.9" fill="#fe2b2b"/>
<polygon points="147.1,159.8 149.1,159.1 147.6,153.0 145.6,153.9" fill="#feefef"/>
<polygon points="159.5,109.9 161.3,109.3 160.3,106.7 158.6,107.3" fill="#fe2121"/>
<polygon points="154.9,135.5 156.7,134.8 155.8,128.9 153.9,129.6" fill="#fe7979"/>
<polygon points="116.6,146.5 118.9,143.3 117.8,142.0 115.5,145.3" fill="#feacac"/>
<polygon points="166.3,158.7 168.1,158.0 166.1,156.7 164.3,157.4" fill="#f9f9f9"/>
<polygon points="81.9,158.5 85.0,157.4 83.5,155.6 80.4,156.7" fill="#fef7f7"/>
<polygon points="173.7,158.7 175.4,158.0 173.4,156.1 171.6,156.7" fill="#fef6f6"/>
<polygon points="151.1,105.1 152.9,104.5 151.6,102.8 149.8,103.5" fill="#fe1212"/>
<polygon points="146.1,105.0 147.9,104.2 146.4,102.6 144.6,103.4" fill="#fe1212"/>
<polygon points="100.4,157.2 103.1,155.8 101.9,154.5 99.2,155.9" fill="#feebeb"/>
<polygon points="106.7,155.5 109.3,153.8 108.2,152.6 105.7,154.3" fill="#fedede"/>
<polygon points="120.1,138.3 122.4,134.3 121.2,132.9 118.9,136.9" fill="#fe8686"/>
<polygon points="138.8,106.4 140.8,105.3 139.1,103.8 137.2,105.0" fill="#fe1616"/>
<polygon points="158.5,122.4 160.3,121.8 159.5,117.3 157.7,117.9" fill="#fe4949"/>
<polygon points="159.5,117.3 161.2,116.7 160.4,113.0 158.6,113.6" fill="#fe3838"/>
<polygon points="147.6,153.0 149.6,152.2 148.3,145.2 146.4,146.1" fill="#fec2c2"/>
<polygon points="156.8,107.9 158.6,107.3 157.6,105.1 155.8,105.7" fill="#fe1a1a"/>
<polygon points="156.8,160.1 158.7,159.4 156.7,159.2 154.8,159.9" fill="#f9f9f9"/>
<polygon points="154.0,106.4 155.8,105.7 154.7,103.8 152.9,104.5" fill="#fe1515"/>
<polygon points="148.9,162.0 150.9,161.3 149.1,159.1 147.1,159.8" fill="#f9f9f9"/>
<polygon points="93.6,158.3 96.5,157.1 95.2,155.7 92.4,156.8" fill="#fef2f2"/>
<polygon points="150.3,144.3 152.2,143.5 151.1,137.0 149.2,137.9" fill="#fe9a9a"/>
<polygon points="126.4,119.7 128.5,116.5 127.0,114.9 124.8,118.2" fill="#fe4040"/>
<polygon points="155.8,128.9 157.6,128.2 156.7,123.1 154.9,123.7" fill="#fe5f5f"/>
<polygon points="118.9,143.3 121.2,139.7 120.1,138.3 117.8,142.0" fill="#fe9b9b"/>
<polygon points="158.6,113.6 160.4,113.0 159.5,109.9 157.8,110.5" fill="#fe2b2b"/>
<polygon points="157.8,110.5 159.5,109.9 158.6,107.3 156.8,107.9" fill="#fe2121"/>
<polygon points="153.0,136.2 154.9,135.5 153.9,129.6 152.1,130.4" fill="#fe7a7a"/>
<polygon points="136.8,107.8 138.8,106.4 137.2,105.0 135.2,106.3" fill="#fe1919"/>
<polygon points="123.4,128.8 125.6,124.9 124.2,123.3 122.0,127.3" fill="#fe5f5f"/>
<polygon points="145.1,160.5 147.1,159.8 145.6,153.9 143.6,154.7" fill="#fef0f0"/>
<polygon points="112.7,152.9 115.1,150.5 114.2,149.3 111.7,151.7" fill="#fecbcb"/>
<polygon points="144.2,105.9 146.1,105.0 144.6,103.4 142.7,104.3" fill="#fe1313"/>
<polygon points="115.1,150.5 117.5,147.8 116.6,146.5 114.2,149.3" fill="#febebe"/>
<polygon points="171.9,159.3 173.7,158.7 171.6,156.7 169.9,157.4" fill="#fef6f6"/>
<polygon points="164.5,159.4 166.3,158.7 164.3,157.4 162.5,158.1" fill="#f9f9f9"/>
<polygon points="104.1,157.0 106.7,155.5 105.7,154.3 103.1,155.8" fill="#fee5e5"/>
<polygon points="149.2,105.9 151.1,105.1 149.8,103.5 147.9,104.2" fill="#fe1313"/>
<polygon points="86.4,159.0 89.4,157.9 88.0,156.3 85.0,157.4" fill="#fef6f6"/>
<polygon points="156.7,123.1 158.5,122.4 157.7,117.9 155.9,118.6" fill="#fe4a4a"/>
<polygon points="110.2,154.9 112.7,152.9 111.7,151.7 109.3,153.8" fill="#fed6d6"/>
<polygon points="157.7,117.9 159.5,117.3 158.6,113.6 156.8,114.2" fill="#fe3838"/>
<polygon points="128.5,116.5 130.7,113.7 129.1,112.2 127.0,114.9" fill="#fe3434"/>
<polygon points="134.8,109.4 136.8,107.8 135.2,106.3 133.2,107.9" fill="#fe1d1d"/>
<polygon points="145.6,153.9 147.6,153.0 146.4,146.1 144.3,147.1" fill="#fec3c3"/>
<polygon points="155.0,108.5 156.8,107.9 155.8,105.7 154.0,106.4" fill="#fe1a1a"/>
<polygon points="97.6,158.4 100.4,157.2 99.2,155.9 96.5,157.1" fill="#feefef"/>
<polygon points="152.2,107.0 154.0,106.4 152.9,104.5 151.1,105.1" fill="#fe1616"/>
<polygon points="117.5,147.8 119.9,144.6 118.9,143.3 116.6,146.5" fill="#feaeae"/>
<polygon points="122.4,134.3 124.7,130.3 123.4,128.8 121.2,132.9" fill="#fe7373"/>
<polygon points="132.7,111.4 134.8,109.4 133.2,107.9 131.1,109.9" fill="#fe2323"/>
<polygon points="154.9,160.8 156.8,160.1 154.8,159.9 152.9,160.6" fill="#f9f9f9"/>
<polygon points="130.7,113.7 132.7,111.4 131.1,109.9 129.1,112.2" fill="#fe2a2a"/>
<polygon points="148.3,145.2 150.3,144.3 149.2,137.9 147.2,138.9" fill="#fe9b9b"/>
<polygon points="153.9,129.6 155.8,128.9 154.9,123.7 153.1,124.5" fill="#fe5f5f"/>
<polygon points="146.9,162.6 148.9,162.0 147.1,159.8 145.1,160.5" fill="#f9f9f9"/>
<polygon points="156.8,114.2 158.6,113.6 157.8,110.5 156.0,111.1" fill="#fe2c2c"/>
<polygon points="156.0,111.1 157.8,110.5 156.8,107.9 155.0,108.5" fill="#fe2222"/>
<polygon points="151.1,137.0 153.0,136.2 152.1,130.4 150.2,131.3" fill="#fe7b7b"/>
<polygon points="142.2,106.9 144.2,105.9 142.7,104.3 140.8,105.3" fill="#fe1515"/>
<polygon points="107.6,156.6 110.2,154.9 109.3,153.8 106.7,155.5" fill="#fedfdf"/>
<polygon points="121.2,139.7 123.5,135.8 122.4,134.3 120.1,138.3" fill="#fe8888"/>
<polygon points="147.3,106.7 149.2,105.9 147.9,104.2 146.1,105.0" fill="#fe1414"/>
<polygon points="90.7,159.4 93.6,158.3 92.4,156.8 89.4,157.9" fill="#fef4f4"/>
<polygon points="170.1,160.0 171.9,159.3 169.9,157.4 168.1,158.0" fill="#fef6f6"/>
<polygon points="143.1,161.1 145.1,160.5 143.6,154.7 141.5,155.6" fill="#fef0f0"/>
<polygon points="125.6,124.9 127.8,121.2 126.4,119.7 124.2,123.3" fill="#fe4f4f"/>
<polygon points="101.4,158.3 104.1,157.0 103.1,155.8 100.4,157.2" fill="#feebeb"/>
<polygon points="162.6,160.0 164.5,159.4 162.5,158.1 160.6,158.7" fill="#f9f9f9"/>
<polygon points="154.9,123.7 156.7,123.1 155.9,118.6 154.1,119.3" fill="#fe4a4a"/>
<polygon points="119.9,144.6 122.2,141.1 121.2,139.7 118.9,143.3" fill="#fe9d9d"/>
<polygon points="155.9,118.6 157.7,117.9 156.8,114.2 155.0,114.9" fill="#fe3939"/>
<polygon points="143.6,154.7 145.6,153.9 144.3,147.1 142.3,148.3" fill="#fec5c5"/>
<polygon points="153.2,109.2 155.0,108.5 154.0,106.4 152.2,107.0" fill="#fe1b1b"/>
<polygon points="116.1,151.7 118.5,149.1 117.5,147.8 115.1,150.5" fill="#fec0c0"/>
<polygon points="113.6,154.0 116.1,151.7 115.1,150.5 112.7,152.9" fill="#fecdcd"/>
<polygon points="150.3,107.8 152.2,107.0 151.1,105.1 149.2,105.9" fill="#fe1616"/>
<polygon points="146.4,146.1 148.3,145.2 147.2,138.9 145.2,139.9" fill="#fe9d9d"/>
<polygon points="140.3,108.0 142.2,106.9 140.8,105.3 138.8,106.4" fill="#fe1717"/>
<polygon points="152.1,130.4 153.9,129.6 153.1,124.5 151.2,125.3" fill="#fe6060"/>
<polygon points="83.3,160.1 86.4,159.0 85.0,157.4 81.9,158.5" fill="#fef7f7"/>
<polygon points="152.9,161.5 154.9,160.8 152.9,160.6 150.9,161.3" fill="#f9f9f9"/>
<polygon points="105.0,158.0 107.6,156.6 106.7,155.5 104.1,157.0" fill="#fee6e6"/>
<polygon points="149.2,137.9 151.1,137.0 150.2,131.3 148.2,132.2" fill="#fe7c7c"/>
<polygon points="111.1,156.0 113.6,154.0 112.7,152.9 110.2,154.9" fill="#fed7d7"/>
<polygon points="155.0,114.9 156.8,114.2 156.0,111.1 154.2,111.8" fill="#fe2c2c"/>
<polygon points="94.8,159.6 97.6,158.4 96.5,157.1 93.6,158.3" fill="#fef2f2"/>
<polygon points="118.5,149.1 120.8,146.0 119.9,144.6 117.5,147.8" fill="#feb1b1"/>
<polygon points="154.2,111.8 156.0,111.1 155.0,108.5 153.2,109.2" fill="#fe2222"/>
<polygon points="145.4,107.5 147.3,106.7 146.1,105.0 144.2,105.9" fill="#fe1515"/>
<polygon points="124.7,130.3 126.9,126.4 125.6,124.9 123.4,128.8" fill="#fe6161"/>
<polygon points="144.8,163.2 146.9,162.6 145.1,160.5 143.1,161.1" fill="#f9f9f9"/>
<polygon points="127.8,121.2 130.0,118.0 128.5,116.5 126.4,119.7" fill="#fe4040"/>
<polygon points="168.3,160.6 170.1,160.0 168.1,158.0 166.3,158.7" fill="#fef6f6"/>
<polygon points="138.3,109.4 140.3,108.0 138.8,106.4 136.8,107.8" fill="#fe1a1a"/>
<polygon points="153.1,124.5 154.9,123.7 154.1,119.3 152.2,120.1" fill="#fe4b4b"/>
<polygon points="123.5,135.8 125.7,131.8 124.7,130.3 122.4,134.3" fill="#fe7575"/>
<polygon points="160.7,160.7 162.6,160.0 160.6,158.7 158.7,159.4" fill="#f9f9f9"/>
<polygon points="154.1,119.3 155.9,118.6 155.0,114.9 153.2,115.6" fill="#fe3939"/>
<polygon points="141.5,155.6 143.6,154.7 142.3,148.3 140.2,149.5" fill="#fec8c8"/>
<polygon points="141.0,161.6 143.1,161.1 141.5,155.6 139.4,156.5" fill="#fef0f0"/>
<polygon points="151.4,109.9 153.2,109.2 152.2,107.0 150.3,107.8" fill="#fe1c1c"/>
<polygon points="122.2,141.1 124.5,137.3 123.5,135.8 121.2,139.7" fill="#fe8b8b"/>
<polygon points="98.6,159.5 101.4,158.3 100.4,157.2 97.6,158.4" fill="#feefef"/>
<polygon points="148.5,108.5 150.3,107.8 149.2,105.9 147.3,106.7" fill="#fe1717"/>
<polygon points="144.3,147.1 146.4,146.1 145.2,139.9 143.2,141.1" fill="#fea0a0"/>
<polygon points="108.5,157.6 111.1,156.0 110.2,154.9 107.6,156.6" fill="#fee0e0"/>
<polygon points="120.8,146.0 123.1,142.6 122.2,141.1 119.9,144.6" fill="#fea0a0"/>
<polygon points="87.7,160.5 90.7,159.4 89.4,157.9 86.4,159.0" fill="#fef6f6"/>
<polygon points="150.2,131.3 152.1,130.4 151.2,125.3 149.2,126.2" fill="#fe6161"/>
<polygon points="147.2,138.9 149.2,137.9 148.2,132.2 146.2,133.2" fill="#fe7e7e"/>
<polygon points="116.9,153.0 119.3,150.5 118.5,149.1 116.1,151.7" fill="#fec2c2"/>
<polygon points="130.0,118.0 132.1,115.2 130.7,113.7 128.5,116.5" fill="#fe3535"/>
<polygon points="136.2,111.0 138.3,109.4 136.8,107.8 134.8,109.4" fill="#fe1e1e"/>
<polygon points="143.5,108.5 145.4,107.5 144.2,105.9 142.2,106.9" fill="#fe1717"/>
<polygon points="114.5,155.2 116.9,153.0 116.1,151.7 113.6,154.0" fill="#fecfcf"/>
<polygon points="153.2,115.6 155.0,114.9 154.2,111.8 152.3,112.5" fill="#fe2d2d"/>
<polygon points="152.3,112.5 154.2,111.8 153.2,109.2 151.4,109.9" fill="#fe2323"/>
<polygon points="102.3,159.4 105.0,158.0 104.1,157.0 101.4,158.3" fill="#feebeb"/>
<polygon points="150.9,162.3 152.9,161.5 150.9,161.3 148.9,162.0" fill="#f9f9f9"/>
<polygon points="119.3,150.5 121.7,147.6 120.8,146.0 118.5,149.1" fill="#feb4b4"/>
<polygon points="134.2,112.9 136.2,111.0 134.8,109.4 132.7,111.4" fill="#fe2424"/>
<polygon points="132.1,115.2 134.2,112.9 132.7,111.4 130.7,113.7" fill="#fe2b2b"/>
<polygon points="126.9,126.4 129.1,122.8 127.8,121.2 125.6,124.9" fill="#fe5050"/>
<polygon points="112.0,157.1 114.5,155.2 113.6,154.0 111.1,156.0" fill="#fed9d9"/>
<polygon points="151.2,125.3 153.1,124.5 152.2,120.1 150.3,120.9" fill="#fe4c4c"/>
<polygon points="142.3,148.3 144.3,147.1 143.2,141.1 141.1,142.5" fill="#fea3a3"/>
<polygon points="139.4,156.5 141.5,155.6 140.2,149.5 138.1,150.8" fill="#fecbcb"/>
<polygon points="152.2,120.1 154.1,119.3 153.2,115.6 151.3,116.4" fill="#fe3a3a"/>
<polygon points="166.5,161.3 168.3,160.6 166.3,158.7 164.5,159.4" fill="#fef6f6"/>
<polygon points="91.8,160.7 94.8,159.6 93.6,158.3 90.7,159.4" fill="#fef4f4"/>
<polygon points="146.6,109.4 148.5,108.5 147.3,106.7 145.4,107.5" fill="#fe1919"/>
<polygon points="149.5,110.7 151.4,109.9 150.3,107.8 148.5,108.5" fill="#fe1c1c"/>
<polygon points="105.9,159.1 108.5,157.6 107.6,156.6 105.0,158.0" fill="#fee6e6"/>
<polygon points="158.8,161.4 160.7,160.7 158.7,159.4 156.8,160.1" fill="#f9f9f9"/>
<polygon points="142.7,163.8 144.8,163.2 143.1,161.1 141.0,161.6" fill="#f9f9f9"/>
<polygon points="141.5,109.7 143.5,108.5 142.2,106.9 140.3,108.0" fill="#fe1919"/>
<polygon points="123.1,142.6 125.4,139.0 124.5,137.3 122.2,141.1" fill="#fe8e8e"/>
<polygon points="145.2,139.9 147.2,138.9 146.2,133.2 144.2,134.4" fill="#fe8080"/>
<polygon points="125.7,131.8 128.0,128.0 126.9,126.4 124.7,130.3" fill="#fe6363"/>
<polygon points="121.7,147.6 124.0,144.3 123.1,142.6 120.8,146.0" fill="#fea4a4"/>
<polygon points="148.2,132.2 150.2,131.3 149.2,126.2 147.3,127.2" fill="#fe6363"/>
<polygon points="124.5,137.3 126.7,133.5 125.7,131.8 123.5,135.8" fill="#fe7878"/>
<polygon points="138.8,162.1 141.0,161.6 139.4,156.5 137.3,157.4" fill="#fef0f0"/>
<polygon points="151.3,116.4 153.2,115.6 152.3,112.5 150.4,113.3" fill="#fe2d2d"/>
<polygon points="150.4,113.3 152.3,112.5 151.4,109.9 149.5,110.7" fill="#fe2424"/>
<polygon points="95.8,160.7 98.6,159.5 97.6,158.4 94.8,159.6" fill="#fef2f2"/>
<polygon points="117.8,154.4 120.2,152.0 119.3,150.5 116.9,153.0" fill="#fec6c6"/>
<polygon points="109.4,158.7 112.0,157.1 111.1,156.0 108.5,157.6" fill="#fee1e1"/>
<polygon points="140.2,149.5 142.3,148.3 141.1,142.5 139.0,144.0" fill="#fea7a7"/>
<polygon points="120.2,152.0 122.6,149.3 121.7,147.6 119.3,150.5" fill="#feb8b8"/>
<polygon points="115.4,156.4 117.8,154.4 116.9,153.0 114.5,155.2" fill="#fed1d1"/>
<polygon points="129.1,122.8 131.2,119.6 130.0,118.0 127.8,121.2" fill="#fe4242"/>
<polygon points="149.2,126.2 151.2,125.3 150.3,120.9 148.4,121.8" fill="#fe4d4d"/>
<polygon points="99.5,160.6 102.3,159.4 101.4,158.3 98.6,159.5" fill="#feefef"/>
<polygon points="144.6,110.4 146.6,109.4 145.4,107.5 143.5,108.5" fill="#fe1a1a"/>
<polygon points="139.5,111.0 141.5,109.7 140.3,108.0 138.3,109.4" fill="#fe1c1c"/>
<polygon points="137.3,157.4 139.4,156.5 138.1,150.8 135.9,152.3" fill="#fecece"/>
<polygon points="148.8,163.0 150.9,162.3 148.9,162.0 146.9,162.6" fill="#f9f9f9"/>
<polygon points="150.3,120.9 152.2,120.1 151.3,116.4 149.4,117.2" fill="#fe3b3b"/>
<polygon points="147.6,111.6 149.5,110.7 148.5,108.5 146.6,109.4" fill="#fe1e1e"/>
<polygon points="143.2,141.1 145.2,139.9 144.2,134.4 142.2,135.8" fill="#fe8383"/>
<polygon points="84.6,161.6 87.7,160.5 86.4,159.0 83.3,160.1" fill="#fef7f7"/>
<polygon points="164.6,162.0 166.5,161.3 164.5,159.4 162.6,160.0" fill="#fef6f6"/>
<polygon points="124.0,144.3 126.3,140.9 125.4,139.0 123.1,142.6" fill="#fe9393"/>
<polygon points="122.6,149.3 124.9,146.3 124.0,144.3 121.7,147.6" fill="#fea9a9"/>
<polygon points="146.2,133.2 148.2,132.2 147.3,127.2 145.3,128.3" fill="#fe6565"/>
<polygon points="103.2,160.4 105.9,159.1 105.0,158.0 102.3,159.4" fill="#feecec"/>
<polygon points="156.9,162.1 158.8,161.4 156.8,160.1 154.9,160.8" fill="#f9f9f9"/>
<polygon points="112.9,158.2 115.4,156.4 114.5,155.2 112.0,157.1" fill="#fedbdb"/>
<polygon points="138.1,150.8 140.2,149.5 139.0,144.0 136.9,145.7" fill="#feacac"/>
<polygon points="137.5,112.6 139.5,111.0 138.3,109.4 136.2,111.0" fill="#fe2020"/>
<polygon points="125.4,139.0 127.7,135.3 126.7,133.5 124.5,137.3" fill="#fe7c7c"/>
<polygon points="131.2,119.6 133.4,116.9 132.1,115.2 130.0,118.0" fill="#fe3636"/>
<polygon points="148.5,114.1 150.4,113.3 149.5,110.7 147.6,111.6" fill="#fe2525"/>
<polygon points="149.4,117.2 151.3,116.4 150.4,113.3 148.5,114.1" fill="#fe2f2f"/>
<polygon points="128.0,128.0 130.2,124.5 129.1,122.8 126.9,126.4" fill="#fe5353"/>
<polygon points="126.7,133.5 129.0,129.7 128.0,128.0 125.7,131.8" fill="#fe6767"/>
<polygon points="106.8,160.1 109.4,158.7 108.5,157.6 105.9,159.1" fill="#fee7e7"/>
<polygon points="88.8,161.8 91.8,160.7 90.7,159.4 87.7,160.5" fill="#fef6f6"/>
<polygon points="140.6,164.3 142.7,163.8 141.0,161.6 138.8,162.1" fill="#f9f9f9"/>
<polygon points="121.2,153.7 123.5,151.2 122.6,149.3 120.2,152.0" fill="#febebe"/>
<polygon points="135.5,114.6 137.5,112.6 136.2,111.0 134.2,112.9" fill="#fe2626"/>
<polygon points="142.7,111.5 144.6,110.4 143.5,108.5 141.5,109.7" fill="#fe1c1c"/>
<polygon points="141.1,142.5 143.2,141.1 142.2,135.8 140.1,137.3" fill="#fe8787"/>
<polygon points="118.7,155.9 121.2,153.7 120.2,152.0 117.8,154.4" fill="#fecaca"/>
<polygon points="133.4,116.9 135.5,114.6 134.2,112.9 132.1,115.2" fill="#fe2d2d"/>
<polygon points="136.6,162.5 138.8,162.1 137.3,157.4 135.1,158.4" fill="#feefef"/>
<polygon points="147.3,127.2 149.2,126.2 148.4,121.8 146.4,122.9" fill="#fe4f4f"/>
<polygon points="135.1,158.4 137.3,157.4 135.9,152.3 133.7,153.8" fill="#fed1d1"/>
<polygon points="145.7,112.6 147.6,111.6 146.6,109.4 144.6,110.4" fill="#fe1f1f"/>
<polygon points="148.4,121.8 150.3,120.9 149.4,117.2 147.5,118.2" fill="#fe3d3d"/>
<polygon points="124.9,146.3 127.2,143.1 126.3,140.9 124.0,144.3" fill="#fe9999"/>
<polygon points="135.9,152.3 138.1,150.8 136.9,145.7 134.7,147.6" fill="#feb2b2"/>
<polygon points="123.5,151.2 125.9,148.5 124.9,146.3 122.6,149.3" fill="#feb0b0"/>
<polygon points="144.2,134.4 146.2,133.2 145.3,128.3 143.3,129.6" fill="#fe6868"/>
<polygon points="116.3,157.8 118.7,155.9 117.8,154.4 115.4,156.4" fill="#fed5d5"/>
<polygon points="92.8,161.8 95.8,160.7 94.8,159.6 91.8,160.7" fill="#fef4f4"/>
<polygon points="110.3,159.8 112.9,158.2 112.0,157.1 109.4,158.7" fill="#fee3e3"/>
<polygon points="126.3,140.9 128.6,137.4 127.7,135.3 125.4,139.0" fill="#fe8282"/>
<polygon points="139.0,144.0 141.1,142.5 140.1,137.3 138.0,139.1" fill="#fe8c8c"/>
<polygon points="146.8,163.7 148.8,163.0 146.9,162.6 144.8,163.2" fill="#f9f9f9"/>
<polygon points="162.7,162.7 164.6,162.0 162.6,160.0 160.7,160.7" fill="#fef6f6"/>
<polygon points="96.7,161.8 99.5,160.6 98.6,159.5 95.8,160.7" fill="#fef2f2"/>
<polygon points="146.6,115.1 148.5,114.1 147.6,111.6 145.7,112.6" fill="#fe2626"/>
<polygon points="140.7,112.9 142.7,111.5 141.5,109.7 139.5,111.0" fill="#fe2020"/>
<polygon points="147.5,118.2 149.4,117.2 148.5,114.1 146.6,115.1" fill="#fe3030"/>
<polygon points="133.7,153.8 135.9,152.3 134.7,147.6 132.5,149.6" fill="#feb8b8"/>
<polygon points="130.2,124.5 132.3,121.3 131.2,119.6 129.1,122.8" fill="#fe4545"/>
<polygon points="125.9,148.5 128.2,145.6 127.2,143.1 124.9,146.3" fill="#fea2a2"/>
<polygon points="154.9,162.9 156.9,162.1 154.9,160.8 152.9,161.5" fill="#f9f9f9"/>
<polygon points="122.1,155.6 124.5,153.4 123.5,151.2 121.2,153.7" fill="#fec5c5"/>
<polygon points="100.4,161.6 103.2,160.4 102.3,159.4 99.5,160.6" fill="#feefef"/>
<polygon points="124.5,153.4 126.8,151.0 125.9,148.5 123.5,151.2" fill="#feb9b9"/>
<polygon points="127.7,135.3 129.9,131.7 129.0,129.7 126.7,133.5" fill="#fe6b6b"/>
<polygon points="136.9,145.7 139.0,144.0 138.0,139.1 135.8,141.2" fill="#fe9393"/>
<polygon points="145.3,128.3 147.3,127.2 146.4,122.9 144.4,124.0" fill="#fe5151"/>
<polygon points="142.2,135.8 144.2,134.4 143.3,129.6 141.2,131.1" fill="#fe6c6c"/>
<polygon points="113.8,159.4 116.3,157.8 115.4,156.4 112.9,158.2" fill="#fedddd"/>
<polygon points="143.7,113.7 145.7,112.6 144.6,110.4 142.7,111.5" fill="#fe2222"/>
<polygon points="129.0,129.7 131.2,126.3 130.2,124.5 128.0,128.0" fill="#fe5757"/>
<polygon points="127.2,143.1 129.5,139.8 128.6,137.4 126.3,140.9" fill="#fe8a8a"/>
<polygon points="146.4,122.9 148.4,121.8 147.5,118.2 145.5,119.2" fill="#fe3f3f"/>
<polygon points="126.8,151.0 129.1,148.5 128.2,145.6 125.9,148.5" fill="#feacac"/>
<polygon points="132.8,159.3 135.1,158.4 133.7,153.8 131.4,155.4" fill="#fed5d5"/>
<polygon points="119.7,157.5 122.1,155.6 121.2,153.7 118.7,155.9" fill="#fed0d0"/>
<polygon points="104.1,161.4 106.8,160.1 105.9,159.1 103.2,160.4" fill="#feecec"/>
<polygon points="134.7,147.6 136.9,145.7 135.8,141.2 133.6,143.5" fill="#fe9b9b"/>
<polygon points="131.4,155.4 133.7,153.8 132.5,149.6 130.2,151.7" fill="#fec0c0"/>
<polygon points="138.6,114.5 140.7,112.9 139.5,111.0 137.5,112.6" fill="#fe2424"/>
<polygon points="132.5,149.6 134.7,147.6 133.6,143.5 131.4,145.9" fill="#fea4a4"/>
<polygon points="130.2,151.7 132.5,149.6 131.4,145.9 129.1,148.5" fill="#feaeae"/>
<polygon points="132.3,121.3 134.5,118.6 133.4,116.9 131.2,119.6" fill="#fe3939"/>
<polygon points="128.2,145.6 130.4,142.7 129.5,139.8 127.2,143.1" fill="#fe9393"/>
<polygon points="127.9,153.8 130.2,151.7 129.1,148.5 126.8,151.0" fill="#feb9b9"/>
<polygon points="129.1,148.5 131.4,145.9 130.4,142.7 128.2,145.6" fill="#fe9f9f"/>
<polygon points="107.6,161.1 110.3,159.8 109.4,158.7 106.8,160.1" fill="#fee8e8"/>
<polygon points="125.6,155.8 127.9,153.8 126.8,151.0 124.5,153.4" fill="#fec3c3"/>
<polygon points="140.1,137.3 142.2,135.8 141.2,131.1 139.1,132.8" fill="#fe7070"/>
<polygon points="134.4,162.9 136.6,162.5 135.1,158.4 132.8,159.3" fill="#feeeee"/>
<polygon points="144.6,116.2 146.6,115.1 145.7,112.6 143.7,113.7" fill="#fe2929"/>
<polygon points="136.6,116.4 138.6,114.5 137.5,112.6 135.5,114.6" fill="#fe2929"/>
<polygon points="145.5,119.2 147.5,118.2 146.6,115.1 144.6,116.2" fill="#fe3232"/>
<polygon points="128.6,137.4 130.8,134.0 129.9,131.7 127.7,135.3" fill="#fe7272"/>
<polygon points="134.5,118.6 136.6,116.4 135.5,114.6 133.4,116.9" fill="#fe3030"/>
<polygon points="138.4,164.7 140.6,164.3 138.8,162.1 136.6,162.5" fill="#f9f9f9"/>
<polygon points="129.1,156.9 131.4,155.4 130.2,151.7 127.9,153.8" fill="#fec8c8"/>
<polygon points="117.2,159.3 119.7,157.5 118.7,155.9 116.3,157.8" fill="#fed9d9"/>
<polygon points="143.3,129.6 145.3,128.3 144.4,124.0 142.4,125.4" fill="#fe5454"/>
<polygon points="141.7,115.0 143.7,113.7 142.7,111.5 140.7,112.9" fill="#fe2525"/>
<polygon points="85.7,162.9 88.8,161.8 87.7,160.5 84.6,161.6" fill="#fef7f7"/>
<polygon points="131.4,145.9 133.6,143.5 132.7,139.8 130.4,142.7" fill="#fe9393"/>
<polygon points="123.2,157.7 125.6,155.8 124.5,153.4 122.1,155.6" fill="#fecdcd"/>
<polygon points="160.8,163.4 162.7,162.7 160.7,160.7 158.8,161.4" fill="#fef6f6"/>
<polygon points="138.0,139.1 140.1,137.3 139.1,132.8 137.0,134.9" fill="#fe7777"/>
<polygon points="111.2,160.9 113.8,159.4 112.9,158.2 110.3,159.8" fill="#fee4e4"/>
<polygon points="144.4,124.0 146.4,122.9 145.5,119.2 143.5,120.5" fill="#fe4141"/>
<polygon points="129.5,139.8 131.7,136.7 130.8,134.0 128.6,137.4" fill="#fe7a7a"/>
<polygon points="131.2,126.3 133.3,123.2 132.3,121.3 130.2,124.5" fill="#fe4949"/>
<polygon points="133.6,143.5 135.8,141.2 134.8,137.2 132.7,139.8" fill="#fe8888"/>
<polygon points="129.9,131.7 132.1,128.4 131.2,126.3 129.0,129.7" fill="#fe5c5c"/>
<polygon points="130.4,142.7 132.7,139.8 131.7,136.7 129.5,139.8" fill="#fe8585"/>
<polygon points="144.6,164.4 146.8,163.7 144.8,163.2 142.7,163.8" fill="#f9f9f9"/>
<polygon points="135.8,141.2 138.0,139.1 137.0,134.9 134.8,137.2" fill="#fe7f7f"/>
<polygon points="89.8,163.0 92.8,161.8 91.8,160.7 88.8,161.8" fill="#fef6f6"/>
<polygon points="130.5,160.3 132.8,159.3 131.4,155.4 129.1,156.9" fill="#fed9d9"/>
<polygon points="152.9,163.6 154.9,162.9 152.9,161.5 150.9,162.3" fill="#f9f9f9"/>
<polygon points="126.8,158.5 129.1,156.9 127.9,153.8 125.6,155.8" fill="#fed0d0"/>
<polygon points="93.7,162.9 96.7,161.8 95.8,160.7 92.8,161.8" fill="#fef4f4"/>
<polygon points="141.2,131.1 143.3,129.6 142.4,125.4 140.3,127.0" fill="#fe5959"/>
<polygon points="142.6,117.5 144.6,116.2 143.7,113.7 141.7,115.0" fill="#fe2b2b"/>
<polygon points="139.7,116.6 141.7,115.0 140.7,112.9 138.6,114.5" fill="#fe2929"/>
<polygon points="120.8,159.4 123.2,157.7 122.1,155.6 119.7,157.5" fill="#fed7d7"/>
<polygon points="143.5,120.5 145.5,119.2 144.6,116.2 142.6,117.5" fill="#fe3535"/>
<polygon points="97.6,162.8 100.4,161.6 99.5,160.6 96.7,161.8" fill="#fef2f2"/>
<polygon points="114.7,160.8 117.2,159.3 116.3,157.8 113.8,159.4" fill="#fee1e1"/>
<polygon points="132.7,139.8 134.8,137.2 133.9,133.8 131.7,136.7" fill="#fe7979"/>
<polygon points="133.3,123.2 135.5,120.6 134.5,118.6 132.3,121.3" fill="#fe3e3e"/>
<polygon points="130.8,134.0 133.0,130.9 132.1,128.4 129.9,131.7" fill="#fe6363"/>
<polygon points="101.3,162.6 104.1,161.4 103.2,160.4 100.4,161.6" fill="#fef0f0"/>
<polygon points="142.4,125.4 144.4,124.0 143.5,120.5 141.5,121.9" fill="#fe4545"/>
<polygon points="137.6,118.4 139.7,116.6 138.6,114.5 136.6,116.4" fill="#fe2e2e"/>
<polygon points="131.7,136.7 133.9,133.8 133.0,130.9 130.8,134.0" fill="#fe6d6d"/>
<polygon points="139.1,132.8 141.2,131.1 140.3,127.0 138.2,129.0" fill="#fe5e5e"/>
<polygon points="135.5,120.6 137.6,118.4 136.6,116.4 134.5,118.6" fill="#fe3535"/>
<polygon points="104.9,162.4 107.6,161.1 106.8,160.1 104.1,161.4" fill="#feeded"/>
<polygon points="132.1,128.4 134.3,125.5 133.3,123.2 131.2,126.3" fill="#fe4f4f"/>
<polygon points="134.8,137.2 137.0,134.9 136.1,131.2 133.9,133.8" fill="#fe6e6e"/>
<polygon points="124.4,160.0 126.8,158.5 125.6,155.8 123.2,157.7" fill="#fed7d7"/>
<polygon points="137.0,134.9 139.1,132.8 138.2,129.0 136.1,131.2" fill="#fe6565"/>
<polygon points="140.6,119.0 142.6,117.5 141.7,115.0 139.7,116.6" fill="#fe2f2f"/>
<polygon points="141.5,121.9 143.5,120.5 142.6,117.5 140.6,119.0" fill="#fe3939"/>
<polygon points="118.3,160.9 120.8,159.4 119.7,157.5 117.2,159.3" fill="#fedede"/>
<polygon points="132.1,163.4 134.4,162.9 132.8,159.3 130.5,160.3" fill="#feeded"/>
<polygon points="108.5,162.2 111.2,160.9 110.3,159.8 107.6,161.1" fill="#feeaea"/>
<polygon points="140.3,127.0 142.4,125.4 141.5,121.9 139.4,123.6" fill="#fe4949"/>
<polygon points="128.2,161.3 130.5,160.3 129.1,156.9 126.8,158.5" fill="#fedede"/>
<polygon points="158.8,164.1 160.8,163.4 158.8,161.4 156.9,162.1" fill="#fef6f6"/>
<polygon points="133.0,130.9 135.2,128.1 134.3,125.5 132.1,128.4" fill="#fe5757"/>
<polygon points="133.9,133.8 136.1,131.2 135.2,128.1 133.0,130.9" fill="#fe6161"/>
<polygon points="134.3,125.5 136.4,122.9 135.5,120.6 133.3,123.2" fill="#fe4444"/>
<polygon points="138.5,120.8 140.6,119.0 139.7,116.6 137.6,118.4" fill="#fe3535"/>
<polygon points="136.2,165.1 138.4,164.7 136.6,162.5 134.4,162.9" fill="#f9f9f9"/>
<polygon points="138.2,129.0 140.3,127.0 139.4,123.6 137.3,125.7" fill="#fe4f4f"/>
<polygon points="136.4,122.9 138.5,120.8 137.6,118.4 135.5,120.6" fill="#fe3b3b"/>
<polygon points="150.8,164.3 152.9,163.6 150.9,162.3 148.8,163.0" fill="#f9f9f9"/>
<polygon points="139.4,123.6 141.5,121.9 140.6,119.0 138.5,120.8" fill="#fe3e3e"/>
<polygon points="136.1,131.2 138.2,129.0 137.3,125.7 135.2,128.1" fill="#fe5757"/>
<polygon points="112.1,162.2 114.7,160.8 113.8,159.4 111.2,160.9" fill="#fee7e7"/>
<polygon points="142.5,165.1 144.6,164.4 142.7,163.8 140.6,164.3" fill="#f9f9f9"/>
<polygon points="135.2,128.1 137.3,125.7 136.4,122.9 134.3,125.5" fill="#fe4c4c"/>
<polygon points="137.3,125.7 139.4,123.6 138.5,120.8 136.4,122.9" fill="#fe4444"/>
<polygon points="122.0,161.4 124.4,160.0 123.2,157.7 120.8,159.4" fill="#fedede"/>
<polygon points="86.7,164.1 89.8,163.0 88.8,161.8 85.7,162.9" fill="#fef7f7"/>
<polygon points="115.8,162.3 118.3,160.9 117.2,159.3 114.7,160.8" fill="#fee5e5"/>
<polygon points="90.7,164.0 93.7,162.9 92.8,161.8 89.8,163.0" fill="#fef6f6"/>
<polygon points="94.6,163.9 97.6,162.8 96.7,161.8 93.7,162.9" fill="#fef4f4"/>
<polygon points="98.4,163.7 101.3,162.6 100.4,161.6 97.6,162.8" fill="#fef3f3"/>
<polygon points="125.8,162.4 128.2,161.3 126.8,158.5 124.4,160.0" fill="#fee2e2"/>
<polygon points="102.1,163.6 104.9,162.4 104.1,161.4 101.3,162.6" fill="#fef1f1"/>
<polygon points="105.8,163.5 108.5,162.2 107.6,161.1 104.9,162.4" fill="#feeeee"/>
<polygon points="156.8,164.8 158.8,164.1 156.9,162.1 154.9,162.9" fill="#fef6f6"/>
<polygon points="129.8,164.0 132.1,163.4 130.5,160.3 128.2,161.3" fill="#feecec"/>
<polygon points="119.5,162.7 122.0,161.4 120.8,159.4 118.3,160.9" fill="#fee4e4"/>
<polygon points="109.5,163.4 112.1,162.2 111.2,160.9 108.5,162.2" fill="#feecec"/>
<polygon points="148.7,165.1 150.8,164.3 148.8,163.0 146.8,163.7" fill="#f9f9f9"/>
<polygon points="140.3,165.8 142.5,165.1 140.6,164.3 138.4,164.7" fill="#f9f9f9"/>
<polygon points="133.9,165.6 136.2,165.1 134.4,162.9 132.1,163.4" fill="#f9f9f9"/>
<polygon points="113.2,163.6 115.8,162.3 114.7,160.8 112.1,162.2" fill="#feeaea"/>
<polygon points="123.4,163.5 125.8,162.4 124.4,160.0 122.0,161.4" fill="#fee6e6"/>
<polygon points="154.8,165.6 156.8,164.8 154.9,162.9 152.9,163.6" fill="#fef6f6"/>
<polygon points="117.0,163.9 119.5,162.7 118.3,160.9 115.8,162.3" fill="#fee9e9"/>
<polygon points="99.2,164.7 102.1,163.6 101.3,162.6 98.4,163.7" fill="#fef3f3"/>
<polygon points="95.4,164.9 98.4,163.7 97.6,162.8 94.6,163.9" fill="#fef5f5"/>
<polygon points="91.6,165.0 94.6,163.9 93.7,162.9 90.7,164.0" fill="#fef6f6"/>
<polygon points="87.6,165.1 90.7,164.0 89.8,163.0 86.7,164.1" fill="#fef7f7"/>
<polygon points="103.0,164.6 105.8,163.5 104.9,162.4 102.1,163.6" fill="#fef1f1"/>
<polygon points="127.4,164.8 129.8,164.0 128.2,161.3 125.8,162.4" fill="#feeded"/>
<polygon points="106.8,164.6 109.5,163.4 108.5,162.2 105.8,163.5" fill="#feefef"/>
<polygon points="146.6,165.9 148.7,165.1 146.8,163.7 144.6,164.4" fill="#f9f9f9"/>
<polygon points="110.5,164.8 113.2,163.6 112.1,162.2 109.5,163.4" fill="#feeeee"/>
<polygon points="120.9,164.6 123.4,163.5 122.0,161.4 119.5,162.7" fill="#feeaea"/>
<polygon points="138.0,166.6 140.3,165.8 138.4,164.7 136.2,165.1" fill="#f9f9f9"/>
<polygon points="131.6,166.2 133.9,165.6 132.1,163.4 129.8,164.0" fill="#fef7f7"/>
<polygon points="114.4,165.1 117.0,163.9 115.8,162.3 113.2,163.6" fill="#feeded"/>
<polygon points="152.8,166.3 154.8,165.6 152.9,163.6 150.8,164.3" fill="#fef6f6"/>
<polygon points="125.0,165.7 127.4,164.8 125.8,162.4 123.4,163.5" fill="#feeeee"/>
<polygon points="96.3,165.9 99.2,164.7 98.4,163.7 95.4,164.9" fill="#fef5f5"/>
<polygon points="100.1,165.8 103.0,164.6 102.1,163.6 99.2,164.7" fill="#fef4f4"/>
<polygon points="92.4,166.0 95.4,164.9 94.6,163.9 91.6,165.0" fill="#fef6f6"/>
<polygon points="144.4,166.7 146.6,165.9 144.6,164.4 142.5,165.1" fill="#f9f9f9"/>
<polygon points="103.9,165.8 106.8,164.6 105.8,163.5 103.0,164.6" fill="#fef2f2"/>
<polygon points="88.4,166.2 91.6,165.0 90.7,164.0 87.6,165.1" fill="#fef7f7"/>
<polygon points="118.4,165.7 120.9,164.6 119.5,162.7 117.0,163.9" fill="#feeeee"/>
<polygon points="107.8,165.9 110.5,164.8 109.5,163.4 106.8,164.6" fill="#fef1f1"/>
<polygon points="150.7,167.1 152.8,166.3 150.8,164.3 148.7,165.1" fill="#fef7f7"/>
<polygon points="135.7,167.3 138.0,166.6 136.2,165.1 133.9,165.6" fill="#f9f9f9"/>
<polygon points="111.7,166.2 114.4,165.1 113.2,163.6 110.5,164.8" fill="#fef0f0"/>
<polygon points="129.2,167.0 131.6,166.2 129.8,164.0 127.4,164.8" fill="#fef5f5"/>
<polygon points="122.5,166.7 125.0,165.7 123.4,163.5 120.9,164.6" fill="#fef0f0"/>
<polygon points="142.2,167.5 144.4,166.7 142.5,165.1 140.3,165.8" fill="#f9f9f9"/>
<polygon points="97.2,166.9 100.1,165.8 99.2,164.7 96.3,165.9" fill="#fef5f5"/>
<polygon points="115.8,166.8 118.4,165.7 117.0,163.9 114.4,165.1" fill="#fef1f1"/>
<polygon points="101.1,166.9 103.9,165.8 103.0,164.6 100.1,165.8" fill="#fef4f4"/>
<polygon points="93.2,167.0 96.3,165.9 95.4,164.9 92.4,166.0" fill="#fef6f6"/>
<polygon points="89.2,167.1 92.4,166.0 91.6,165.0 88.4,166.2" fill="#fef7f7"/>
<polygon points="105.0,167.0 107.8,165.9 106.8,164.6 103.9,165.8" fill="#fef3f3"/>
<polygon points="148.5,167.9 150.7,167.1 148.7,165.1 146.6,165.9" fill="#fef7f7"/>
<polygon points="109.0,167.3 111.7,166.2 110.5,164.8 107.8,165.9" fill="#fef3f3"/>
<polygon points="133.4,168.1 135.7,167.3 133.9,165.6 131.6,166.2" fill="#f9f9f9"/>
<polygon points="126.7,167.8 129.2,167.0 127.4,164.8 125.0,165.7" fill="#fef4f4"/>
<polygon points="119.9,167.7 122.5,166.7 120.9,164.6 118.4,165.7" fill="#fef2f2"/>
<polygon points="139.9,168.3 142.2,167.5 140.3,165.8 138.0,166.6" fill="#fef9f9"/>
<polygon points="113.1,167.9 115.8,166.8 114.4,165.1 111.7,166.2" fill="#fef3f3"/>
<polygon points="98.1,168.0 101.1,166.9 100.1,165.8 97.2,166.9" fill="#fef6f6"/>
<polygon points="94.1,168.0 97.2,166.9 96.3,165.9 93.2,167.0" fill="#fef7f7"/>
<polygon points="90.1,168.1 93.2,167.0 92.4,166.0 89.2,167.1" fill="#fef7f7"/>
<polygon points="146.3,168.7 148.5,167.9 146.6,165.9 144.4,166.7" fill="#fef7f7"/>
<polygon points="102.1,168.1 105.0,167.0 103.9,165.8 101.1,166.9" fill="#fef5f5"/>
<polygon points="106.2,168.4 109.0,167.3 107.8,165.9 105.0,167.0" fill="#fef5f5"/>
<polygon points="124.2,168.7 126.7,167.8 125.0,165.7 122.5,166.7" fill="#fef4f4"/>
<polygon points="131.0,168.9 133.4,168.1 131.6,166.2 129.2,167.0" fill="#fef7f7"/>
<polygon points="117.3,168.7 119.9,167.7 118.4,165.7 115.8,166.8" fill="#fef4f4"/>
<polygon points="137.6,169.2 139.9,168.3 138.0,166.6 135.7,167.3" fill="#fef8f8"/>
<polygon points="110.3,168.9 113.1,167.9 111.7,166.2 109.0,167.3" fill="#fef5f5"/>
<polygon points="144.1,169.5 146.3,168.7 144.4,166.7 142.2,167.5" fill="#fef7f7"/>
<polygon points="95.0,169.1 98.1,168.0 97.2,166.9 94.1,168.0" fill="#fef7f7"/>
<polygon points="90.9,169.1 94.1,168.0 93.2,167.0 90.1,168.1" fill="#fef7f7"/>
<polygon points="99.1,169.2 102.1,168.1 101.1,166.9 98.1,168.0" fill="#fef6f6"/>
<polygon points="121.7,169.7 124.2,168.7 122.5,166.7 119.9,167.7" fill="#fef5f5"/>
<polygon points="128.5,169.8 131.0,168.9 129.2,167.0 126.7,167.8" fill="#fef7f7"/>
<polygon points="103.3,169.5 106.2,168.4 105.0,167.0 102.1,168.1" fill="#fef6f6"/>
<polygon points="114.6,169.7 117.3,168.7 115.8,166.8 113.1,167.9" fill="#fef5f5"/>
<polygon points="135.3,170.1 137.6,169.2 135.7,167.3 133.4,168.1" fill="#fef8f8"/>
<polygon points="107.5,170.0 110.3,168.9 109.0,167.3 106.2,168.4" fill="#fef6f6"/>
<polygon points="141.9,170.3 144.1,169.5 142.2,167.5 139.9,168.3" fill="#fef7f7"/>
<polygon points="91.8,170.2 95.0,169.1 94.1,168.0 90.9,169.1" fill="#fef8f8"/>
<polygon points="96.0,170.3 99.1,169.2 98.1,168.0 95.0,169.1" fill="#fef7f7"/>
<polygon points="119.0,170.6 121.7,169.7 119.9,167.7 117.3,168.7" fill="#fef6f6"/>
<polygon points="126.0,170.7 128.5,169.8 126.7,167.8 124.2,168.7" fill="#fef7f7"/>
<polygon points="111.9,170.7 114.6,169.7 113.1,167.9 110.3,168.9" fill="#fef6f6"/>
<polygon points="132.9,170.9 135.3,170.1 133.4,168.1 131.0,168.9" fill="#fef8f8"/>
<polygon points="100.3,170.6 103.3,169.5 102.1,168.1 99.1,169.2" fill="#fef7f7"/>
<polygon points="139.5,171.2 141.9,170.3 139.9,168.3 137.6,169.2" fill="#fef8f8"/>
<polygon points="104.6,171.0 107.5,170.0 106.2,168.4 103.3,169.5" fill="#fef7f7"/>
<polygon points="123.5,171.7 126.0,170.7 124.2,168.7 121.7,169.7" fill="#fef7f7"/>
<polygon points="116.3,171.6 119.0,170.6 117.3,168.7 114.6,169.7" fill="#fef7f7"/>
<polygon points="130.4,171.8 132.9,170.9 131.0,168.9 128.5,169.8" fill="#fef8f8"/>
<polygon points="92.8,171.4 96.0,170.3 95.0,169.1 91.8,170.2" fill="#fef8f8"/>
<polygon points="109.0,171.8 111.9,170.7 110.3,168.9 107.5,170.0" fill="#fef7f7"/>
<polygon points="97.2,171.7 100.3,170.6 99.1,169.2 96.0,170.3" fill="#fef8f8"/>
<polygon points="137.2,172.1 139.5,171.2 137.6,169.2 135.3,170.1" fill="#fef8f8"/>
<polygon points="101.6,172.1 104.6,171.0 103.3,169.5 100.3,170.6" fill="#fef8f8"/>
<polygon points="120.8,172.7 123.5,171.7 121.7,169.7 119.0,170.6" fill="#fef8f8"/>
<polygon points="113.6,172.6 116.3,171.6 114.6,169.7 111.9,170.7" fill="#fef8f8"/>
<polygon points="127.9,172.8 130.4,171.8 128.5,169.8 126.0,170.7" fill="#fef8f8"/>
<polygon points="134.8,173.0 137.2,172.1 135.3,170.1 132.9,170.9" fill="#fef8f8"/>
<polygon points="106.1,172.8 109.0,171.8 107.5,170.0 104.6,171.0" fill="#fef8f8"/>
<polygon points="94.0,172.8 97.2,171.7 96.0,170.3 92.8,171.4" fill="#fef8f8"/>
<polygon points="98.5,173.2 101.6,172.1 100.3,170.6 97.2,171.7" fill="#fef8f8"/>
<polygon points="118.1,173.6 120.8,172.7 119.0,170.6 116.3,171.6" fill="#fef8f8"/>
<polygon points="125.3,173.7 127.9,172.8 126.0,170.7 123.5,171.7" fill="#fef8f8"/>
<polygon points="110.7,173.7 113.6,172.6 111.9,170.7 109.0,171.8" fill="#fef8f8"/>
<polygon points="132.3,173.9 134.8,173.0 132.9,170.9 130.4,171.8" fill="#fef8f8"/>
<polygon points="103.1,173.9 106.1,172.8 104.6,171.0 101.6,172.1" fill="#fef8f8"/>
<polygon points="95.3,174.4 98.5,173.2 97.2,171.7 94.0,172.8" fill="#fef9f9"/>
<polygon points="115.4,174.6 118.1,173.6 116.3,171.6 113.6,172.6" fill="#fef8f8"/>
<polygon points="122.7,174.7 125.3,173.7 123.5,171.7 120.8,172.7" fill="#fef8f8"/>
<polygon points="129.8,174.8 132.3,173.9 130.4,171.8 127.9,172.8" fill="#fef9f9"/>
<polygon points="107.8,174.7 110.7,173.7 109.0,171.8 106.1,172.8" fill="#fef9f9"/>
<polygon points="100.0,175.0 103.1,173.9 101.6,172.1 98.5,173.2" fill="#fef9f9"/>
<polygon points="120.0,175.7 122.7,174.7 120.8,172.7 118.1,173.6" fill="#fef9f9"/>
<polygon points="112.5,175.7 115.4,174.6 113.6,172.6 110.7,173.7" fill="#fef9f9"/>
<polygon points="127.2,175.8 129.8,174.8 127.9,172.8 125.3,173.7" fill="#fef9f9"/>
<polygon points="104.8,175.8 107.8,174.7 106.1,172.8 103.1,173.9" fill="#fef9f9"/>
<polygon points="96.8,176.1 100.0,175.0 98.5,173.2 95.3,174.4" fill="#fef9f9"/>
<polygon points="117.2,176.7 120.0,175.7 118.1,173.6 115.4,174.6" fill="#fef9f9"/>
<polygon points="124.5,176.7 127.2,175.8 125.3,173.7 122.7,174.7" fill="#fef9f9"/>
<polygon points="109.6,176.7 112.5,175.7 110.7,173.7 107.8,174.7" fill="#fef9f9"/>
<polygon points="101.7,176.9 104.8,175.8 103.1,173.9 100.0,175.0" fill="#fef9f9"/>
<polygon points="121.8,177.7 124.5,176.7 122.7,174.7 120.0,175.7" fill="#fef9f9"/>
<polygon points="114.3,177.7 117.2,176.7 115.4,174.6 112.5,175.7" fill="#fef9f9"/>
<polygon points="106.5,177.8 109.6,176.7 107.8,174.7 104.8,175.8" fill="#fef9f9"/>
<polygon points="98.4,178.1 101.7,176.9 100.0,175.0 96.8,176.1" fill="#fef9f9"/>
<polygon points="119.0,178.8 121.8,177.7 120.0,175.7 117.2,176.7" fill="#fef9f9"/>
<polygon points="111.4,178.8 114.3,177.7 112.5,175.7 109.6,176.7" fill="#fef9f9"/>
<polygon points="103.4,179.0 106.5,177.8 104.8,175.8 101.7,176.9" fill="#fef9f9"/>
<polygon points="116.1,179.8 119.0,178.8 117.2,176.7 114.3,177.7" fill="#fef9f9"/>
<polygon points="108.3,179.9 111.4,178.8 109.6,176.7 106.5,177.8" fill="#fef9f9"/>
<polygon points="100.2,180.1 103.4,179.0 101.7,176.9 98.4,178.1" fill="#fef9f9"/>
<polygon points="113.2,180.9 116.1,179.8 114.3,177.7 111.4,178.8" fill="#fef9f9"/>
<polygon points="105.2,181.0 108.3,179.9 106.5,177.8 103.4,179.0" fill="#fef9f9"/>
<polygon points="110.1,182.0 113.2,180.9 111.4,178.8 108.3,179.9" fill="#fef9f9"/>
<polygon points="101.9,182.2 105.2,181.0 103.4,179.0 100.2,180.1" fill="#fef9f9"/>
<polygon points="107.0,183.2 110.1,182.0 108.3,179.9 105.2,181.0" fill="#fef9f9"/>
<polygon points="103.7,184.3 107.0,183.2 105.2,181.0 101.9,182.2" fill="#fef9f9"/>
</g>
<line x1="54.99" y1="87.94" x2="61.88" y2="167.47" stroke="#333" stroke-width="0.8"/>
<line x1="102.40" y1="137.53" x2="104.81" y2="223.07" stroke="#333" stroke-width="0.8"/>
<line x1="197.33" y1="107.09" x2="189.43" y2="189.04" stroke="#333" stroke-width="0.8"/>
<line x1="61.88" y1="167.47" x2="104.81" y2="223.07" stroke="#333" stroke-width="0.8"/>
<line x1="104.81" y1="223.07" x2="189.43" y2="189.04" stroke="#333" stroke-width="0.8"/>
<line x1="54.99" y1="87.94" x2="102.40" y2="137.53" stroke="#333" stroke-width="0.8" stroke-opacity="0.35"/>
<line x1="55.61" y1="95.11" x2="51.01" y2="97.11" stroke="#777" stroke-width="0.6"/>
<text x="49.41" y="97.71" font-size="7.4" text-anchor="end" font-style="italic">60</text>
<line x1="56.68" y1="107.50" x2="52.08" y2="109.50" stroke="#777" stroke-width="0.6"/>
<text x="50.48" y="110.10" font-size="7.4" text-anchor="end" font-style="italic">40</text>
<line x1="57.72" y1="119.50" x2="53.12" y2="121.50" stroke="#777" stroke-width="0.6"/>
<text x="51.52" y="122.10" font-size="7.4" text-anchor="end" font-style="italic">20</text>
<line x1="58.73" y1="131.13" x2="54.13" y2="133.13" stroke="#777" stroke-width="0.6"/>
<text x="52.53" y="133.73" font-size="7.4" text-anchor="end" font-style="italic">0</text>
<line x1="59.70" y1="142.42" x2="55.10" y2="144.42" stroke="#777" stroke-width="0.6"/>
<text x="53.50" y="145.02" font-size="7.4" text-anchor="end" font-style="italic">20</text>
<line x1="60.65" y1="153.36" x2="56.05" y2="155.36" stroke="#777" stroke-width="0.6"/>
<text x="54.45" y="155.96" font-size="7.4" text-anchor="end" font-style="italic">40</text>
<line x1="61.57" y1="163.98" x2="56.97" y2="165.98" stroke="#777" stroke-width="0.6"/>
<text x="55.37" y="166.58" font-size="7.4" text-anchor="end" font-style="italic">60</text>
<text x="0.00" y="0.00" font-size="10.2" text-anchor="middle" textLength="54" lengthAdjust="spacingAndGlyphs" transform="translate(34.3,131.5) rotate(-90)">Synergy score</text>
<line x1="104.81" y1="223.07" x2="101.31" y2="226.07" stroke="#888" stroke-width="0.6"/>
<text x="99.80" y="234.10" font-size="7.4" text-anchor="end" font-style="italic">0</text>
<line x1="97.92" y1="214.14" x2="94.42" y2="217.14" stroke="#888" stroke-width="0.6"/>
<text x="96.00" y="225.10" font-size="7.4" text-anchor="end" font-style="italic">1.56</text>
<line x1="91.30" y1="205.58" x2="87.80" y2="208.58" stroke="#888" stroke-width="0.6"/>
<text x="90.20" y="218.00" font-size="7.4" text-anchor="end" font-style="italic">3.12</text>
<line x1="84.95" y1="197.35" x2="81.45" y2="200.35" stroke="#888" stroke-width="0.6"/>
<text x="83.50" y="209.70" font-size="7.4" text-anchor="end" font-style="italic">6.25</text>
<line x1="78.85" y1="189.45" x2="75.35" y2="192.45" stroke="#888" stroke-width="0.6"/>
<text x="76.70" y="201.10" font-size="7.4" text-anchor="end" font-style="italic">12.5</text>
<line x1="72.97" y1="181.84" x2="69.47" y2="184.84" stroke="#888" stroke-width="0.6"/>
<text x="69.60" y="192.40" font-size="7.4" text-anchor="end" font-style="italic">25</text>
<line x1="67.32" y1="174.52" x2="63.82" y2="177.52" stroke="#888" stroke-width="0.6"/>
<text x="64.20" y="184.70" font-size="7.4" text-anchor="end" font-style="italic">50</text>
<line x1="61.88" y1="167.47" x2="58.38" y2="170.47" stroke="#888" stroke-width="0.6"/>
<text x="58.50" y="177.60" font-size="7.4" text-anchor="end" font-style="italic">100</text>
<text x="0.00" y="0.00" font-size="11.0" text-anchor="middle" textLength="69" lengthAdjust="spacingAndGlyphs" transform="translate(58.6,221.0) rotate(51)">Quizartinib (nM)</text>
<line x1="104.81" y1="223.07" x2="107.01" y2="226.67" stroke="#888" stroke-width="0.6"/>
<text x="0.00" y="0.00" font-size="7.4" transform="translate(105.97,233.98) rotate(37.0)">0</text>
<line x1="113.11" y1="219.73" x2="115.31" y2="223.33" stroke="#888" stroke-width="0.6"/>
<text x="0.00" y="0.00" font-size="7.4" transform="translate(111.17,226.48) rotate(37.0)">0.97</text>
<line x1="121.27" y1="216.45" x2="123.47" y2="220.05" stroke="#888" stroke-width="0.6"/>
<text x="0.00" y="0.00" font-size="7.4" transform="translate(120.97,223.38) rotate(37.0)">1.95</text>
<line x1="129.31" y1="213.21" x2="131.51" y2="216.81" stroke="#888" stroke-width="0.6"/>
<text x="0.00" y="0.00" font-size="7.4" transform="translate(131.97,221.48) rotate(37.0)">3.90</text>
<line x1="137.23" y1="210.03" x2="139.43" y2="213.63" stroke="#888" stroke-width="0.6"/>
<text x="0.00" y="0.00" font-size="7.4" transform="translate(139.47,217.78) rotate(37.0)">7.81</text>
<line x1="145.03" y1="206.90" x2="147.23" y2="210.50" stroke="#888" stroke-width="0.6"/>
<text x="0.00" y="0.00" font-size="7.4" transform="translate(146.47,213.58) rotate(37.0)">15.6</text>
<line x1="152.71" y1="203.81" x2="154.91" y2="207.41" stroke="#888" stroke-width="0.6"/>
<text x="0.00" y="0.00" font-size="7.4" transform="translate(155.27,211.18) rotate(37.0)">31.2</text>
<line x1="160.27" y1="200.77" x2="162.47" y2="204.37" stroke="#888" stroke-width="0.6"/>
<text x="0.00" y="0.00" font-size="7.4" transform="translate(162.67,208.18) rotate(37.0)">62.5</text>
<line x1="167.72" y1="197.77" x2="169.92" y2="201.37" stroke="#888" stroke-width="0.6"/>
<text x="0.00" y="0.00" font-size="7.4" transform="translate(170.67,204.78) rotate(37.0)">125</text>
<line x1="175.06" y1="194.82" x2="177.26" y2="198.42" stroke="#888" stroke-width="0.6"/>
<text x="0.00" y="0.00" font-size="7.4" transform="translate(177.47,201.48) rotate(37.0)">250</text>
<line x1="182.30" y1="191.91" x2="184.50" y2="195.51" stroke="#888" stroke-width="0.6"/>
<text x="0.00" y="0.00" font-size="7.4" transform="translate(184.87,197.38) rotate(37.0)">500</text>
<line x1="189.43" y1="189.04" x2="191.63" y2="192.64" stroke="#888" stroke-width="0.6"/>
<text x="0.00" y="0.00" font-size="7.4" transform="translate(191.57,192.68) rotate(37.0)">1000</text>
<text x="0.00" y="0.00" font-size="11.2" text-anchor="middle" textLength="81.5" lengthAdjust="spacingAndGlyphs" transform="translate(175.3,234.5) rotate(-22)">Dexamethasone (nM)</text>
<line x1="277.10" y1="26.90" x2="277.10" y2="119.30" stroke="#231f20" stroke-width="1.5"/>
<line x1="276.40" y1="118.60" x2="404.60" y2="118.60" stroke="#231f20" stroke-width="1.5"/>
<line x1="273.30" y1="118.70" x2="277.10" y2="118.70" stroke="#231f20" stroke-width="1.0"/>
<text x="270.10" y="122.15" font-size="9.9" text-anchor="end">0</text>
<line x1="273.30" y1="96.54" x2="277.10" y2="96.54" stroke="#231f20" stroke-width="1.0"/>
<text x="270.10" y="99.99" font-size="9.9" text-anchor="end">2</text>
<line x1="273.30" y1="74.38" x2="277.10" y2="74.38" stroke="#231f20" stroke-width="1.0"/>
<text x="270.10" y="77.83" font-size="9.9" text-anchor="end">4</text>
<line x1="273.30" y1="52.22" x2="277.10" y2="52.22" stroke="#231f20" stroke-width="1.0"/>
<text x="270.10" y="55.67" font-size="9.9" text-anchor="end">6</text>
<line x1="273.30" y1="30.06" x2="277.10" y2="30.06" stroke="#231f20" stroke-width="1.0"/>
<text x="270.10" y="33.51" font-size="9.9" text-anchor="end">8</text>
<line x1="277.15" y1="118.60" x2="277.15" y2="122.20" stroke="#231f20" stroke-width="1.0"/>
<text x="277.15" y="133.90" font-size="9.9" text-anchor="middle">0</text>
<line x1="294.87" y1="118.60" x2="294.87" y2="122.20" stroke="#231f20" stroke-width="1.0"/>
<text x="294.87" y="133.90" font-size="9.9" text-anchor="middle">4</text>
<line x1="312.59" y1="118.60" x2="312.59" y2="122.20" stroke="#231f20" stroke-width="1.0"/>
<text x="312.59" y="133.90" font-size="9.9" text-anchor="middle">8</text>
<line x1="330.31" y1="118.60" x2="330.31" y2="122.20" stroke="#231f20" stroke-width="1.0"/>
<text x="330.31" y="133.90" font-size="9.9" text-anchor="middle" textLength="9.4" lengthAdjust="spacingAndGlyphs">12</text>
<line x1="348.03" y1="118.60" x2="348.03" y2="122.20" stroke="#231f20" stroke-width="1.0"/>
<text x="348.03" y="133.90" font-size="9.9" text-anchor="middle" textLength="9.4" lengthAdjust="spacingAndGlyphs">16</text>
<line x1="365.75" y1="118.60" x2="365.75" y2="122.20" stroke="#231f20" stroke-width="1.0"/>
<text x="365.75" y="133.90" font-size="9.9" text-anchor="middle" textLength="9.4" lengthAdjust="spacingAndGlyphs">20</text>
<line x1="383.47" y1="118.60" x2="383.47" y2="122.20" stroke="#231f20" stroke-width="1.0"/>
<text x="383.47" y="133.90" font-size="9.9" text-anchor="middle" textLength="9.4" lengthAdjust="spacingAndGlyphs">24</text>
<line x1="401.19" y1="118.60" x2="401.19" y2="122.20" stroke="#231f20" stroke-width="1.0"/>
<text x="401.19" y="133.90" font-size="9.9" text-anchor="middle" textLength="9.4" lengthAdjust="spacingAndGlyphs">28</text>
<text x="341.30" y="148.50" font-size="10.7" text-anchor="middle" textLength="32.2" lengthAdjust="spacingAndGlyphs">Time (h)</text>
<text x="0.00" y="0.00" font-size="10.6" text-anchor="middle" textLength="71" lengthAdjust="spacingAndGlyphs" transform="translate(244.5,71.75) rotate(-90)">Caspase-3/7 green</text>
<text x="0.00" y="0.00" font-size="10.6" text-anchor="middle" textLength="50" lengthAdjust="spacingAndGlyphs" transform="translate(258.3,73.6) rotate(-90)">count (x10<tspan font-size="6.5" dy="-3.5">3</tspan><tspan dy="3.5">)</tspan></text>
<line x1="277.15" y1="99.42" x2="277.15" y2="116.26" stroke="#4a70ab" stroke-width="1.0"/>
<line x1="274.95" y1="99.42" x2="279.35" y2="99.42" stroke="#4a70ab" stroke-width="1.2"/>
<line x1="274.95" y1="116.26" x2="279.35" y2="116.26" stroke="#4a70ab" stroke-width="1.2"/>
<line x1="286.01" y1="96.87" x2="286.01" y2="116.15" stroke="#4a70ab" stroke-width="1.0"/>
<line x1="283.81" y1="96.87" x2="288.21" y2="96.87" stroke="#4a70ab" stroke-width="1.2"/>
<line x1="283.81" y1="116.15" x2="288.21" y2="116.15" stroke="#4a70ab" stroke-width="1.2"/>
<line x1="294.87" y1="96.54" x2="294.87" y2="114.27" stroke="#4a70ab" stroke-width="1.0"/>
<line x1="292.67" y1="96.54" x2="297.07" y2="96.54" stroke="#4a70ab" stroke-width="1.2"/>
<line x1="292.67" y1="114.27" x2="297.07" y2="114.27" stroke="#4a70ab" stroke-width="1.2"/>
<line x1="303.73" y1="94.32" x2="303.73" y2="113.16" stroke="#4a70ab" stroke-width="1.0"/>
<line x1="301.53" y1="94.32" x2="305.93" y2="94.32" stroke="#4a70ab" stroke-width="1.2"/>
<line x1="301.53" y1="113.16" x2="305.93" y2="113.16" stroke="#4a70ab" stroke-width="1.2"/>
<line x1="312.59" y1="89.45" x2="312.59" y2="101.86" stroke="#4a70ab" stroke-width="1.0"/>
<line x1="310.39" y1="89.45" x2="314.79" y2="89.45" stroke="#4a70ab" stroke-width="1.2"/>
<line x1="310.39" y1="101.86" x2="314.79" y2="101.86" stroke="#4a70ab" stroke-width="1.2"/>
<line x1="321.45" y1="81.25" x2="321.45" y2="91.22" stroke="#4a70ab" stroke-width="1.0"/>
<line x1="319.25" y1="81.25" x2="323.65" y2="81.25" stroke="#4a70ab" stroke-width="1.2"/>
<line x1="319.25" y1="91.22" x2="323.65" y2="91.22" stroke="#4a70ab" stroke-width="1.2"/>
<line x1="330.31" y1="73.49" x2="330.31" y2="76.82" stroke="#4a70ab" stroke-width="1.0"/>
<line x1="328.11" y1="73.49" x2="332.51" y2="73.49" stroke="#4a70ab" stroke-width="1.2"/>
<line x1="328.11" y1="76.82" x2="332.51" y2="76.82" stroke="#4a70ab" stroke-width="1.2"/>
<polyline points="277.15,107.84 286.01,106.51 294.87,105.40 303.73,103.74 312.59,95.65 321.45,86.24 330.31,75.16 339.17,63.52 348.03,52.66 356.89,45.57 365.75,43.13 374.61,42.91 383.47,42.03" fill="none" stroke="#2c4f8e" stroke-width="1.6"/>
<circle cx="277.15" cy="107.84" r="2.3" fill="#2c4f8e"/>
<circle cx="286.01" cy="106.51" r="2.3" fill="#2c4f8e"/>
<circle cx="294.87" cy="105.40" r="2.3" fill="#2c4f8e"/>
<circle cx="303.73" cy="103.74" r="2.3" fill="#2c4f8e"/>
<circle cx="312.59" cy="95.65" r="2.3" fill="#2c4f8e"/>
<circle cx="321.45" cy="86.24" r="2.3" fill="#2c4f8e"/>
<circle cx="330.31" cy="75.16" r="2.3" fill="#2c4f8e"/>
<circle cx="339.17" cy="63.52" r="2.3" fill="#2c4f8e"/>
<circle cx="348.03" cy="52.66" r="2.3" fill="#2c4f8e"/>
<circle cx="356.89" cy="45.57" r="2.3" fill="#2c4f8e"/>
<circle cx="365.75" cy="43.13" r="2.3" fill="#2c4f8e"/>
<circle cx="374.61" cy="42.91" r="2.3" fill="#2c4f8e"/>
<circle cx="383.47" cy="42.03" r="2.3" fill="#2c4f8e"/>
<polyline points="277.15,108.73 286.01,108.51 294.87,108.17 303.73,107.84 312.59,107.62 321.45,107.29 330.31,106.96 339.17,106.73 348.03,106.73 356.89,106.73 365.75,106.84 374.61,106.84 383.47,106.96" fill="none" stroke="#6ab83e" stroke-width="1.6"/>
<circle cx="277.15" cy="108.73" r="2.3" fill="#6ab83e"/>
<circle cx="286.01" cy="108.51" r="2.3" fill="#6ab83e"/>
<circle cx="294.87" cy="108.17" r="2.3" fill="#6ab83e"/>
<circle cx="303.73" cy="107.84" r="2.3" fill="#6ab83e"/>
<circle cx="312.59" cy="107.62" r="2.3" fill="#6ab83e"/>
<circle cx="321.45" cy="107.29" r="2.3" fill="#6ab83e"/>
<circle cx="330.31" cy="106.96" r="2.3" fill="#6ab83e"/>
<circle cx="339.17" cy="106.73" r="2.3" fill="#6ab83e"/>
<circle cx="348.03" cy="106.73" r="2.3" fill="#6ab83e"/>
<circle cx="356.89" cy="106.73" r="2.3" fill="#6ab83e"/>
<circle cx="365.75" cy="106.84" r="2.3" fill="#6ab83e"/>
<circle cx="374.61" cy="106.84" r="2.3" fill="#6ab83e"/>
<circle cx="383.47" cy="106.96" r="2.3" fill="#6ab83e"/>
<line x1="294.87" y1="104.07" x2="294.87" y2="106.29" stroke="#c3143b" stroke-width="1.0"/>
<line x1="292.67" y1="104.07" x2="297.07" y2="104.07" stroke="#c3143b" stroke-width="1.2"/>
<line x1="292.67" y1="106.29" x2="297.07" y2="106.29" stroke="#c3143b" stroke-width="1.2"/>
<line x1="303.73" y1="102.30" x2="303.73" y2="104.52" stroke="#c3143b" stroke-width="1.0"/>
<line x1="301.53" y1="102.30" x2="305.93" y2="102.30" stroke="#c3143b" stroke-width="1.2"/>
<line x1="301.53" y1="104.52" x2="305.93" y2="104.52" stroke="#c3143b" stroke-width="1.2"/>
<line x1="312.59" y1="100.09" x2="312.59" y2="102.30" stroke="#c3143b" stroke-width="1.0"/>
<line x1="310.39" y1="100.09" x2="314.79" y2="100.09" stroke="#c3143b" stroke-width="1.2"/>
<line x1="310.39" y1="102.30" x2="314.79" y2="102.30" stroke="#c3143b" stroke-width="1.2"/>
<line x1="321.45" y1="95.43" x2="321.45" y2="97.65" stroke="#c3143b" stroke-width="1.0"/>
<line x1="319.25" y1="95.43" x2="323.65" y2="95.43" stroke="#c3143b" stroke-width="1.2"/>
<line x1="319.25" y1="97.65" x2="323.65" y2="97.65" stroke="#c3143b" stroke-width="1.2"/>
<line x1="330.31" y1="89.67" x2="330.31" y2="91.89" stroke="#c3143b" stroke-width="1.0"/>
<line x1="328.11" y1="89.67" x2="332.51" y2="89.67" stroke="#c3143b" stroke-width="1.2"/>
<line x1="328.11" y1="91.89" x2="332.51" y2="91.89" stroke="#c3143b" stroke-width="1.2"/>
<line x1="339.17" y1="83.47" x2="339.17" y2="86.12" stroke="#c3143b" stroke-width="1.0"/>
<line x1="336.97" y1="83.47" x2="341.37" y2="83.47" stroke="#c3143b" stroke-width="1.2"/>
<line x1="336.97" y1="86.12" x2="341.37" y2="86.12" stroke="#c3143b" stroke-width="1.2"/>
<line x1="348.03" y1="76.71" x2="348.03" y2="81.14" stroke="#c3143b" stroke-width="1.0"/>
<line x1="345.83" y1="76.71" x2="350.23" y2="76.71" stroke="#c3143b" stroke-width="1.2"/>
<line x1="345.83" y1="81.14" x2="350.23" y2="81.14" stroke="#c3143b" stroke-width="1.2"/>
<line x1="356.89" y1="69.73" x2="356.89" y2="75.27" stroke="#c3143b" stroke-width="1.0"/>
<line x1="354.69" y1="69.73" x2="359.09" y2="69.73" stroke="#c3143b" stroke-width="1.2"/>
<line x1="354.69" y1="75.27" x2="359.09" y2="75.27" stroke="#c3143b" stroke-width="1.2"/>
<line x1="365.75" y1="61.31" x2="365.75" y2="70.17" stroke="#c3143b" stroke-width="1.0"/>
<line x1="363.55" y1="61.31" x2="367.95" y2="61.31" stroke="#c3143b" stroke-width="1.2"/>
<line x1="363.55" y1="70.17" x2="367.95" y2="70.17" stroke="#c3143b" stroke-width="1.2"/>
<line x1="374.61" y1="52.77" x2="374.61" y2="64.96" stroke="#c3143b" stroke-width="1.0"/>
<line x1="372.41" y1="52.77" x2="376.81" y2="52.77" stroke="#c3143b" stroke-width="1.2"/>
<line x1="372.41" y1="64.96" x2="376.81" y2="64.96" stroke="#c3143b" stroke-width="1.2"/>
<line x1="383.47" y1="44.69" x2="383.47" y2="59.31" stroke="#c3143b" stroke-width="1.0"/>
<line x1="381.27" y1="44.69" x2="385.67" y2="44.69" stroke="#c3143b" stroke-width="1.2"/>
<line x1="381.27" y1="59.31" x2="385.67" y2="59.31" stroke="#c3143b" stroke-width="1.2"/>
<polyline points="277.15,107.29 286.01,106.29 294.87,105.18 303.73,103.41 312.59,101.19 321.45,96.54 330.31,90.78 339.17,84.80 348.03,78.92 356.89,72.50 365.75,65.74 374.61,58.87 383.47,52.00" fill="none" stroke="#c3143b" stroke-width="1.6"/>
<circle cx="277.15" cy="107.29" r="2.3" fill="#c3143b"/>
<circle cx="286.01" cy="106.29" r="2.3" fill="#c3143b"/>
<circle cx="294.87" cy="105.18" r="2.3" fill="#c3143b"/>
<circle cx="303.73" cy="103.41" r="2.3" fill="#c3143b"/>
<circle cx="312.59" cy="101.19" r="2.3" fill="#c3143b"/>
<circle cx="321.45" cy="96.54" r="2.3" fill="#c3143b"/>
<circle cx="330.31" cy="90.78" r="2.3" fill="#c3143b"/>
<circle cx="339.17" cy="84.80" r="2.3" fill="#c3143b"/>
<circle cx="348.03" cy="78.92" r="2.3" fill="#c3143b"/>
<circle cx="356.89" cy="72.50" r="2.3" fill="#c3143b"/>
<circle cx="365.75" cy="65.74" r="2.3" fill="#c3143b"/>
<circle cx="374.61" cy="58.87" r="2.3" fill="#c3143b"/>
<circle cx="383.47" cy="52.00" r="2.3" fill="#c3143b"/>
<line x1="277.15" y1="106.84" x2="277.15" y2="114.60" stroke="#4b2579" stroke-width="1.0"/>
<line x1="274.95" y1="106.84" x2="279.35" y2="106.84" stroke="#4b2579" stroke-width="1.2"/>
<line x1="274.95" y1="114.60" x2="279.35" y2="114.60" stroke="#4b2579" stroke-width="1.2"/>
<line x1="286.01" y1="107.62" x2="286.01" y2="114.27" stroke="#4b2579" stroke-width="1.0"/>
<line x1="283.81" y1="107.62" x2="288.21" y2="107.62" stroke="#4b2579" stroke-width="1.2"/>
<line x1="283.81" y1="114.27" x2="288.21" y2="114.27" stroke="#4b2579" stroke-width="1.2"/>
<line x1="294.87" y1="107.62" x2="294.87" y2="114.27" stroke="#4b2579" stroke-width="1.0"/>
<line x1="292.67" y1="107.62" x2="297.07" y2="107.62" stroke="#4b2579" stroke-width="1.2"/>
<line x1="292.67" y1="114.27" x2="297.07" y2="114.27" stroke="#4b2579" stroke-width="1.2"/>
<line x1="303.73" y1="108.17" x2="303.73" y2="113.71" stroke="#4b2579" stroke-width="1.0"/>
<line x1="301.53" y1="108.17" x2="305.93" y2="108.17" stroke="#4b2579" stroke-width="1.2"/>
<line x1="301.53" y1="113.71" x2="305.93" y2="113.71" stroke="#4b2579" stroke-width="1.2"/>
<line x1="312.59" y1="108.40" x2="312.59" y2="111.72" stroke="#4b2579" stroke-width="1.0"/>
<line x1="310.39" y1="108.40" x2="314.79" y2="108.40" stroke="#4b2579" stroke-width="1.2"/>
<line x1="310.39" y1="111.72" x2="314.79" y2="111.72" stroke="#4b2579" stroke-width="1.2"/>
<polyline points="277.15,110.72 286.01,110.94 294.87,110.94 303.73,110.94 312.59,110.06 321.45,109.17 330.31,108.51 339.17,108.17 348.03,107.95 356.89,107.73 365.75,107.62 374.61,107.62 383.47,107.62" fill="none" stroke="#4b2579" stroke-width="1.6"/>
<circle cx="277.15" cy="110.72" r="2.3" fill="#4b2579"/>
<circle cx="286.01" cy="110.94" r="2.3" fill="#4b2579"/>
<circle cx="294.87" cy="110.94" r="2.3" fill="#4b2579"/>
<circle cx="303.73" cy="110.94" r="2.3" fill="#4b2579"/>
<circle cx="312.59" cy="110.06" r="2.3" fill="#4b2579"/>
<circle cx="321.45" cy="109.17" r="2.3" fill="#4b2579"/>
<circle cx="330.31" cy="108.51" r="2.3" fill="#4b2579"/>
<circle cx="339.17" cy="108.17" r="2.3" fill="#4b2579"/>
<circle cx="348.03" cy="107.95" r="2.3" fill="#4b2579"/>
<circle cx="356.89" cy="107.73" r="2.3" fill="#4b2579"/>
<circle cx="365.75" cy="107.62" r="2.3" fill="#4b2579"/>
<circle cx="374.61" cy="107.62" r="2.3" fill="#4b2579"/>
<circle cx="383.47" cy="107.62" r="2.3" fill="#4b2579"/>
<line x1="397.90" y1="34.00" x2="408.90" y2="34.00" stroke="#4b2579" stroke-width="1.5"/>
<circle cx="403.5" cy="34.0" r="2.2" fill="#4b2579"/>
<text x="413.10" y="36.00" font-size="9.0" textLength="27.1" lengthAdjust="spacingAndGlyphs">DMSO</text>
<line x1="397.90" y1="45.00" x2="408.90" y2="45.00" stroke="#6ab83e" stroke-width="1.5"/>
<circle cx="403.5" cy="45.0" r="2.2" fill="#6ab83e"/>
<text x="413.10" y="47.00" font-size="9.0" textLength="16.0" lengthAdjust="spacingAndGlyphs">Dex</text>
<line x1="397.90" y1="56.00" x2="408.90" y2="56.00" stroke="#c3143b" stroke-width="1.5"/>
<circle cx="403.5" cy="56.0" r="2.2" fill="#c3143b"/>
<text x="413.10" y="58.00" font-size="9.0" textLength="18.4" lengthAdjust="spacingAndGlyphs">Quiz</text>
<line x1="397.90" y1="67.00" x2="408.90" y2="67.00" stroke="#2c4f8e" stroke-width="1.5"/>
<circle cx="403.5" cy="67.0" r="2.2" fill="#2c4f8e"/>
<text x="413.10" y="69.00" font-size="9.0" textLength="47.7" lengthAdjust="spacingAndGlyphs">Quix + Dex</text>
<line x1="276.50" y1="184.50" x2="276.50" y2="224.70" stroke="#231f20" stroke-width="1.5"/>
<line x1="273.20" y1="224.70" x2="279.80" y2="224.70" stroke="#231f20" stroke-width="1.2"/>
<line x1="276.50" y1="231.50" x2="276.50" y2="272.80" stroke="#231f20" stroke-width="1.5"/>
<line x1="273.20" y1="231.50" x2="279.80" y2="231.50" stroke="#231f20" stroke-width="1.2"/>
<line x1="275.80" y1="272.10" x2="393.00" y2="272.10" stroke="#231f20" stroke-width="1.5"/>
<line x1="273.20" y1="185.50" x2="276.50" y2="185.50" stroke="#231f20" stroke-width="1.0"/>
<text x="269.00" y="188.95" font-size="9.9" text-anchor="end" textLength="14.1" lengthAdjust="spacingAndGlyphs">100</text>
<line x1="273.20" y1="194.22" x2="276.50" y2="194.22" stroke="#231f20" stroke-width="1.0"/>
<text x="269.00" y="197.67" font-size="9.9" text-anchor="end" textLength="9.4" lengthAdjust="spacingAndGlyphs">80</text>
<line x1="273.20" y1="202.94" x2="276.50" y2="202.94" stroke="#231f20" stroke-width="1.0"/>
<text x="269.00" y="206.39" font-size="9.9" text-anchor="end" textLength="9.4" lengthAdjust="spacingAndGlyphs">60</text>
<line x1="273.20" y1="211.66" x2="276.50" y2="211.66" stroke="#231f20" stroke-width="1.0"/>
<text x="269.00" y="215.11" font-size="9.9" text-anchor="end" textLength="9.4" lengthAdjust="spacingAndGlyphs">40</text>
<line x1="273.20" y1="220.38" x2="276.50" y2="220.38" stroke="#231f20" stroke-width="1.0"/>
<text x="269.00" y="223.83" font-size="9.9" text-anchor="end" textLength="9.4" lengthAdjust="spacingAndGlyphs">20</text>
<text x="269.00" y="234.65" font-size="9.9" text-anchor="end">5</text>
<line x1="273.20" y1="239.28" x2="276.50" y2="239.28" stroke="#231f20" stroke-width="1.0"/>
<text x="269.00" y="242.73" font-size="9.9" text-anchor="end">4</text>
<line x1="273.20" y1="247.36" x2="276.50" y2="247.36" stroke="#231f20" stroke-width="1.0"/>
<text x="269.00" y="250.81" font-size="9.9" text-anchor="end">3</text>
<line x1="273.20" y1="255.44" x2="276.50" y2="255.44" stroke="#231f20" stroke-width="1.0"/>
<text x="269.00" y="258.89" font-size="9.9" text-anchor="end">2</text>
<line x1="273.20" y1="263.52" x2="276.50" y2="263.52" stroke="#231f20" stroke-width="1.0"/>
<text x="269.00" y="266.97" font-size="9.9" text-anchor="end">1</text>
<line x1="273.20" y1="271.60" x2="276.50" y2="271.60" stroke="#231f20" stroke-width="1.0"/>
<text x="269.00" y="275.05" font-size="9.9" text-anchor="end">0</text>
<line x1="296.10" y1="272.10" x2="296.10" y2="275.60" stroke="#231f20" stroke-width="1.0"/>
<text x="296.10" y="288.20" font-size="9.9" text-anchor="middle">0</text>
<line x1="325.64" y1="272.10" x2="325.64" y2="275.60" stroke="#231f20" stroke-width="1.0"/>
<text x="325.64" y="288.20" font-size="9.9" text-anchor="middle">2</text>
<line x1="355.18" y1="272.10" x2="355.18" y2="275.60" stroke="#231f20" stroke-width="1.0"/>
<text x="355.18" y="288.20" font-size="9.9" text-anchor="middle">4</text>
<line x1="384.72" y1="272.10" x2="384.72" y2="275.60" stroke="#231f20" stroke-width="1.0"/>
<text x="384.72" y="288.20" font-size="9.9" text-anchor="middle">6</text>
<text x="335.30" y="302.90" font-size="10.7" text-anchor="middle" textLength="32.2" lengthAdjust="spacingAndGlyphs">Time (d)</text>
<text x="0.00" y="0.00" font-size="11.5" text-anchor="middle" textLength="42.8" lengthAdjust="spacingAndGlyphs" transform="translate(245.4,227.9) rotate(-90)">% live cells</text>
<polyline points="296.10,192.21 325.64,206.52 355.18,218.20 384.72,224.91" fill="none" stroke="#c3143b" stroke-width="1.6"/>
<circle cx="296.10" cy="192.21" r="2.4" fill="#c3143b"/>
<circle cx="325.64" cy="206.52" r="2.4" fill="#c3143b"/>
<circle cx="355.18" cy="218.20" r="2.4" fill="#c3143b"/>
<circle cx="384.72" cy="224.91" r="2.4" fill="#c3143b"/>
<line x1="296.10" y1="193.78" x2="325.64" y2="221.25" stroke="#2c4f8e" stroke-width="1.6"/>
<line x1="325.64" y1="221.25" x2="329.40" y2="224.60" stroke="#2c4f8e" stroke-width="1.6"/>
<line x1="335.60" y1="231.60" x2="355.18" y2="251.97" stroke="#2c4f8e" stroke-width="1.6"/>
<line x1="355.18" y1="251.97" x2="384.72" y2="252.61" stroke="#2c4f8e" stroke-width="1.6"/>
<line x1="355.18" y1="244.53" x2="355.18" y2="259.00" stroke="#231f20" stroke-width="1.0"/>
<line x1="352.98" y1="244.53" x2="357.38" y2="244.53" stroke="#231f20" stroke-width="1.0"/>
<line x1="352.98" y1="259.00" x2="357.38" y2="259.00" stroke="#231f20" stroke-width="1.0"/>
<line x1="384.72" y1="243.72" x2="384.72" y2="261.90" stroke="#231f20" stroke-width="1.0"/>
<line x1="382.52" y1="243.72" x2="386.92" y2="243.72" stroke="#231f20" stroke-width="1.0"/>
<line x1="382.52" y1="261.90" x2="386.92" y2="261.90" stroke="#231f20" stroke-width="1.0"/>
<rect x="293.80" y="191.48" width="4.6" height="4.6" fill="#2c4f8e"/>
<rect x="323.34" y="218.95" width="4.6" height="4.6" fill="#2c4f8e"/>
<rect x="352.88" y="249.67" width="4.6" height="4.6" fill="#2c4f8e"/>
<rect x="382.42" y="250.31" width="4.6" height="4.6" fill="#2c4f8e"/>
<text x="322.00" y="219.60" font-size="8.0" textLength="14.6" lengthAdjust="spacingAndGlyphs">****</text>
<text x="347.00" y="243.40" font-size="8.0" textLength="14.6" lengthAdjust="spacingAndGlyphs">****</text>
<text x="377.70" y="243.40" font-size="8.0" textLength="14.6" lengthAdjust="spacingAndGlyphs">****</text>
<line x1="396.00" y1="191.20" x2="406.50" y2="191.20" stroke="#c3143b" stroke-width="1.6"/>
<circle cx="401.3" cy="191.2" r="2.3" fill="#c3143b"/>
<line x1="396.00" y1="203.70" x2="406.50" y2="203.70" stroke="#2c4f8e" stroke-width="1.6"/>
<rect x="399.0" y="201.4" width="4.6" height="4.6" fill="#2c4f8e"/>
<text x="409.50" y="194.40" font-size="9.3" textLength="19.4" lengthAdjust="spacingAndGlyphs">Quiz</text>
<text x="409.50" y="206.90" font-size="9.3" textLength="47.8" lengthAdjust="spacingAndGlyphs">Quiz + Dex</text>
<g shape-rendering="crispEdges">
<rect x="25.00" y="359.60" width="26.32" height="3.22" fill="#400000"/>
<rect x="25.00" y="362.62" width="26.32" height="1.74" fill="#0a0000"/>
<rect x="25.00" y="364.15" width="26.32" height="5.58" fill="#500000"/>
<rect x="25.00" y="369.54" width="26.32" height="7.89" fill="#1a0000"/>
<rect x="25.00" y="377.23" width="26.32" height="1.74" fill="#500000"/>
<rect x="25.00" y="378.77" width="26.32" height="6.35" fill="#002800"/>
<rect x="25.00" y="384.92" width="26.32" height="4.82" fill="#050500"/>
<rect x="25.00" y="389.54" width="26.32" height="1.74" fill="#009000"/>
<rect x="25.00" y="391.08" width="26.32" height="2.51" fill="#050500"/>
<rect x="25.00" y="393.38" width="26.32" height="3.28" fill="#008000"/>
<rect x="25.00" y="396.46" width="26.32" height="2.51" fill="#00b000"/>
<rect x="25.00" y="398.77" width="26.32" height="3.28" fill="#050000"/>
<rect x="25.00" y="401.85" width="26.32" height="16.35" fill="#680000"/>
<rect x="25.00" y="418.00" width="26.32" height="1.74" fill="#0a0000"/>
<rect x="25.00" y="419.54" width="26.32" height="5.16" fill="#800000"/>
<rect x="25.00" y="424.50" width="26.32" height="1.24" fill="#800000"/>
<rect x="25.00" y="425.54" width="26.32" height="3.28" fill="#003000"/>
<rect x="25.00" y="428.62" width="26.32" height="2.51" fill="#200000"/>
<rect x="25.00" y="430.92" width="26.32" height="5.58" fill="#003800"/>
<rect x="25.00" y="436.31" width="26.32" height="6.35" fill="#007000"/>
<rect x="25.00" y="442.46" width="26.32" height="2.51" fill="#00b000"/>
<rect x="25.00" y="444.77" width="26.32" height="6.35" fill="#002000"/>
<rect x="25.00" y="450.92" width="26.32" height="3.28" fill="#006000"/>
<rect x="25.00" y="454.00" width="26.32" height="3.28" fill="#009000"/>
<rect x="25.00" y="457.08" width="26.32" height="3.28" fill="#050500"/>
<rect x="25.00" y="460.15" width="26.32" height="4.82" fill="#00a000"/>
<rect x="25.00" y="464.77" width="26.32" height="5.58" fill="#007000"/>
<rect x="25.00" y="470.15" width="26.32" height="6.35" fill="#006000"/>
<rect x="25.00" y="476.31" width="26.32" height="6.35" fill="#008000"/>
<rect x="25.00" y="482.46" width="26.32" height="3.28" fill="#004000"/>
<rect x="25.00" y="485.54" width="26.32" height="2.51" fill="#007000"/>
<rect x="25.00" y="487.85" width="26.32" height="2.85" fill="#003000"/>
<rect x="51.02" y="359.60" width="26.32" height="4.75" fill="#400000"/>
<rect x="51.02" y="364.15" width="26.32" height="6.35" fill="#300000"/>
<rect x="51.02" y="370.31" width="26.32" height="6.35" fill="#100000"/>
<rect x="51.02" y="376.46" width="26.32" height="2.51" fill="#500000"/>
<rect x="51.02" y="378.77" width="26.32" height="5.58" fill="#001800"/>
<rect x="51.02" y="384.15" width="26.32" height="7.12" fill="#004800"/>
<rect x="51.02" y="391.08" width="26.32" height="3.28" fill="#001000"/>
<rect x="51.02" y="394.15" width="26.32" height="3.28" fill="#008000"/>
<rect x="51.02" y="397.23" width="26.32" height="4.82" fill="#200000"/>
<rect x="51.02" y="401.85" width="26.32" height="15.58" fill="#6c0000"/>
<rect x="51.02" y="417.23" width="26.32" height="2.51" fill="#900000"/>
<rect x="51.02" y="419.54" width="26.32" height="5.16" fill="#700000"/>
<rect x="51.02" y="424.50" width="26.32" height="3.55" fill="#200000"/>
<rect x="51.02" y="427.85" width="26.32" height="4.05" fill="#100800"/>
<rect x="51.02" y="431.69" width="26.32" height="5.58" fill="#003000"/>
<rect x="51.02" y="437.08" width="26.32" height="4.82" fill="#008000"/>
<rect x="51.02" y="441.69" width="26.32" height="5.58" fill="#004000"/>
<rect x="51.02" y="447.08" width="26.32" height="7.89" fill="#008000"/>
<rect x="51.02" y="454.77" width="26.32" height="5.58" fill="#300000"/>
<rect x="51.02" y="460.15" width="26.32" height="7.89" fill="#006000"/>
<rect x="51.02" y="467.85" width="26.32" height="2.51" fill="#050500"/>
<rect x="51.02" y="470.15" width="26.32" height="8.66" fill="#005000"/>
<rect x="51.02" y="478.62" width="26.32" height="3.28" fill="#00a000"/>
<rect x="51.02" y="481.69" width="26.32" height="9.01" fill="#005000"/>
<rect x="77.04" y="359.60" width="26.32" height="7.83" fill="#600000"/>
<rect x="77.04" y="367.23" width="26.32" height="4.82" fill="#400000"/>
<rect x="77.04" y="371.85" width="26.32" height="7.89" fill="#081000"/>
<rect x="77.04" y="379.54" width="26.32" height="4.05" fill="#003000"/>
<rect x="77.04" y="383.38" width="26.32" height="7.89" fill="#080000"/>
<rect x="77.04" y="391.08" width="26.32" height="3.28" fill="#003000"/>
<rect x="77.04" y="394.15" width="26.32" height="2.51" fill="#007000"/>
<rect x="77.04" y="396.46" width="26.32" height="5.58" fill="#002000"/>
<rect x="77.04" y="401.85" width="26.32" height="15.58" fill="#580000"/>
<rect x="77.04" y="417.23" width="26.32" height="2.51" fill="#900000"/>
<rect x="77.04" y="419.54" width="26.32" height="5.16" fill="#102000"/>
<rect x="77.04" y="424.50" width="26.32" height="4.32" fill="#101000"/>
<rect x="77.04" y="428.62" width="26.32" height="6.35" fill="#008000"/>
<rect x="77.04" y="434.77" width="26.32" height="10.97" fill="#007000"/>
<rect x="77.04" y="445.54" width="26.32" height="4.82" fill="#100000"/>
<rect x="77.04" y="450.15" width="26.32" height="4.82" fill="#005000"/>
<rect x="77.04" y="454.77" width="26.32" height="4.05" fill="#050500"/>
<rect x="77.04" y="458.62" width="26.32" height="4.05" fill="#400000"/>
<rect x="77.04" y="462.46" width="26.32" height="6.35" fill="#007000"/>
<rect x="77.04" y="468.62" width="26.32" height="10.20" fill="#005000"/>
<rect x="77.04" y="478.62" width="26.32" height="10.20" fill="#00b000"/>
<rect x="77.04" y="488.62" width="26.32" height="2.08" fill="#003000"/>
<rect x="103.06" y="359.60" width="26.32" height="2.45" fill="#002000"/>
<rect x="103.06" y="361.85" width="26.32" height="4.82" fill="#000800"/>
<rect x="103.06" y="366.46" width="26.32" height="2.51" fill="#005000"/>
<rect x="103.06" y="368.77" width="26.32" height="4.82" fill="#008000"/>
<rect x="103.06" y="373.38" width="26.32" height="4.82" fill="#004000"/>
<rect x="103.06" y="378.00" width="26.32" height="2.51" fill="#001000"/>
<rect x="103.06" y="380.31" width="26.32" height="4.05" fill="#00a000"/>
<rect x="103.06" y="384.15" width="26.32" height="7.89" fill="#007000"/>
<rect x="103.06" y="391.85" width="26.32" height="6.35" fill="#a00000"/>
<rect x="103.06" y="398.00" width="26.32" height="0.97" fill="#300000"/>
<rect x="103.06" y="398.77" width="26.32" height="3.28" fill="#c00000"/>
<rect x="103.06" y="401.85" width="26.32" height="15.58" fill="#500000"/>
<rect x="103.06" y="417.23" width="26.32" height="2.51" fill="#100000"/>
<rect x="103.06" y="419.54" width="26.32" height="4.05" fill="#900000"/>
<rect x="103.06" y="423.38" width="26.32" height="1.32" fill="#302000"/>
<rect x="103.06" y="424.50" width="26.32" height="1.24" fill="#402000"/>
<rect x="103.06" y="425.54" width="26.32" height="4.05" fill="#200000"/>
<rect x="103.06" y="429.38" width="26.32" height="4.05" fill="#003000"/>
<rect x="103.06" y="433.23" width="26.32" height="6.35" fill="#004000"/>
<rect x="103.06" y="439.38" width="26.32" height="7.89" fill="#006000"/>
<rect x="103.06" y="447.08" width="26.32" height="3.28" fill="#008000"/>
<rect x="103.06" y="450.15" width="26.32" height="4.05" fill="#000800"/>
<rect x="103.06" y="454.00" width="26.32" height="7.89" fill="#009000"/>
<rect x="103.06" y="461.69" width="26.32" height="8.66" fill="#300000"/>
<rect x="103.06" y="470.15" width="26.32" height="1.74" fill="#700000"/>
<rect x="103.06" y="471.69" width="26.32" height="7.12" fill="#900000"/>
<rect x="103.06" y="478.62" width="26.32" height="4.05" fill="#100000"/>
<rect x="103.06" y="482.46" width="26.32" height="8.24" fill="#400000"/>
<rect x="129.08" y="359.60" width="26.32" height="3.22" fill="#002000"/>
<rect x="129.08" y="362.62" width="26.32" height="3.28" fill="#000800"/>
<rect x="129.08" y="365.69" width="26.32" height="4.82" fill="#004000"/>
<rect x="129.08" y="370.31" width="26.32" height="4.82" fill="#006000"/>
<rect x="129.08" y="374.92" width="26.32" height="4.82" fill="#003000"/>
<rect x="129.08" y="379.54" width="26.32" height="9.43" fill="#006000"/>
<rect x="129.08" y="388.77" width="26.32" height="2.51" fill="#008000"/>
<rect x="129.08" y="391.08" width="26.32" height="7.12" fill="#800000"/>
<rect x="129.08" y="398.00" width="26.32" height="4.05" fill="#a00000"/>
<rect x="129.08" y="401.85" width="26.32" height="17.89" fill="#400000"/>
<rect x="129.08" y="419.54" width="26.32" height="4.05" fill="#800000"/>
<rect x="129.08" y="423.38" width="26.32" height="1.32" fill="#300000"/>
<rect x="129.08" y="424.50" width="26.32" height="4.32" fill="#600000"/>
<rect x="129.08" y="428.62" width="26.32" height="5.58" fill="#00a000"/>
<rect x="129.08" y="434.00" width="26.32" height="5.58" fill="#005000"/>
<rect x="129.08" y="439.38" width="26.32" height="7.12" fill="#006000"/>
<rect x="129.08" y="446.31" width="26.32" height="4.82" fill="#009000"/>
<rect x="129.08" y="450.92" width="26.32" height="10.97" fill="#004000"/>
<rect x="129.08" y="461.69" width="26.32" height="10.20" fill="#300000"/>
<rect x="129.08" y="471.69" width="26.32" height="7.12" fill="#900000"/>
<rect x="129.08" y="478.62" width="26.32" height="8.66" fill="#200000"/>
<rect x="129.08" y="487.08" width="26.32" height="3.62" fill="#003000"/>
<rect x="155.10" y="359.60" width="26.32" height="2.45" fill="#002000"/>
<rect x="155.10" y="361.85" width="26.32" height="4.05" fill="#000800"/>
<rect x="155.10" y="365.69" width="26.32" height="5.58" fill="#00a000"/>
<rect x="155.10" y="371.08" width="26.32" height="8.66" fill="#007000"/>
<rect x="155.10" y="379.54" width="26.32" height="4.82" fill="#008000"/>
<rect x="155.10" y="384.15" width="26.32" height="7.12" fill="#006000"/>
<rect x="155.10" y="391.08" width="26.32" height="2.51" fill="#100800"/>
<rect x="155.10" y="393.38" width="26.32" height="3.28" fill="#d00000"/>
<rect x="155.10" y="396.46" width="26.32" height="6.35" fill="#800000"/>
<rect x="155.10" y="402.62" width="26.32" height="14.82" fill="#300000"/>
<rect x="155.10" y="417.23" width="26.32" height="2.51" fill="#501000"/>
<rect x="155.10" y="419.54" width="26.32" height="5.16" fill="#102000"/>
<rect x="155.10" y="424.50" width="26.32" height="4.32" fill="#201000"/>
<rect x="155.10" y="428.62" width="26.32" height="7.12" fill="#00c000"/>
<rect x="155.10" y="435.54" width="26.32" height="8.66" fill="#003000"/>
<rect x="155.10" y="444.00" width="26.32" height="4.82" fill="#007000"/>
<rect x="155.10" y="448.62" width="26.32" height="4.82" fill="#080000"/>
<rect x="155.10" y="453.23" width="26.32" height="6.35" fill="#004000"/>
<rect x="155.10" y="459.38" width="26.32" height="3.28" fill="#c00000"/>
<rect x="155.10" y="462.46" width="26.32" height="7.89" fill="#800000"/>
<rect x="155.10" y="470.15" width="26.32" height="7.89" fill="#a00000"/>
<rect x="155.10" y="477.85" width="26.32" height="4.82" fill="#500000"/>
<rect x="155.10" y="482.46" width="26.32" height="3.28" fill="#006000"/>
<rect x="155.10" y="485.54" width="26.32" height="5.16" fill="#100800"/>
<rect x="181.12" y="359.60" width="26.32" height="6.29" fill="#400000"/>
<rect x="181.12" y="365.69" width="26.32" height="15.58" fill="#880000"/>
<rect x="181.12" y="381.08" width="26.32" height="10.20" fill="#950000"/>
<rect x="181.12" y="391.08" width="26.32" height="5.58" fill="#008000"/>
<rect x="181.12" y="396.46" width="26.32" height="0.97" fill="#006000"/>
<rect x="181.12" y="397.23" width="26.32" height="1.74" fill="#00a000"/>
<rect x="181.12" y="398.77" width="26.32" height="16.35" fill="#006000"/>
<rect x="181.12" y="414.92" width="26.32" height="4.05" fill="#007000"/>
<rect x="181.12" y="418.77" width="26.32" height="4.05" fill="#00a000"/>
<rect x="181.12" y="422.62" width="26.32" height="2.08" fill="#007000"/>
<rect x="181.12" y="424.50" width="26.32" height="2.01" fill="#006000"/>
<rect x="181.12" y="426.31" width="26.32" height="3.28" fill="#20e020"/>
<rect x="181.12" y="429.38" width="26.32" height="7.12" fill="#300000"/>
<rect x="181.12" y="436.31" width="26.32" height="10.20" fill="#500000"/>
<rect x="181.12" y="446.31" width="26.32" height="2.51" fill="#005000"/>
<rect x="181.12" y="448.62" width="26.32" height="6.35" fill="#200000"/>
<rect x="181.12" y="454.77" width="26.32" height="3.28" fill="#006000"/>
<rect x="181.12" y="457.85" width="26.32" height="9.43" fill="#100800"/>
<rect x="181.12" y="467.08" width="26.32" height="6.35" fill="#008000"/>
<rect x="181.12" y="473.23" width="26.32" height="4.05" fill="#003000"/>
<rect x="181.12" y="477.08" width="26.32" height="8.66" fill="#200000"/>
<rect x="181.12" y="485.54" width="26.32" height="3.28" fill="#008000"/>
<rect x="181.12" y="488.62" width="26.32" height="2.08" fill="#001000"/>
<rect x="207.14" y="359.60" width="26.32" height="6.29" fill="#500000"/>
<rect x="207.14" y="365.69" width="26.32" height="25.58" fill="#900000"/>
<rect x="207.14" y="391.08" width="26.32" height="3.28" fill="#00b000"/>
<rect x="207.14" y="394.15" width="26.32" height="20.97" fill="#006000"/>
<rect x="207.14" y="414.92" width="26.32" height="4.82" fill="#007000"/>
<rect x="207.14" y="419.54" width="26.32" height="3.28" fill="#009000"/>
<rect x="207.14" y="422.62" width="26.32" height="2.08" fill="#006000"/>
<rect x="207.14" y="424.50" width="26.32" height="4.32" fill="#003000"/>
<rect x="207.14" y="428.62" width="26.32" height="7.89" fill="#500000"/>
<rect x="207.14" y="436.31" width="26.32" height="15.58" fill="#400000"/>
<rect x="207.14" y="451.69" width="26.32" height="3.28" fill="#006000"/>
<rect x="207.14" y="454.77" width="26.32" height="3.28" fill="#300000"/>
<rect x="207.14" y="457.85" width="26.32" height="4.05" fill="#006000"/>
<rect x="207.14" y="461.69" width="26.32" height="5.58" fill="#001800"/>
<rect x="207.14" y="467.08" width="26.32" height="10.97" fill="#006000"/>
<rect x="207.14" y="477.85" width="26.32" height="7.89" fill="#300000"/>
<rect x="207.14" y="485.54" width="26.32" height="5.16" fill="#002000"/>
<rect x="233.16" y="359.60" width="26.32" height="6.29" fill="#600000"/>
<rect x="233.16" y="365.69" width="26.32" height="25.58" fill="#900000"/>
<rect x="233.16" y="391.08" width="26.32" height="4.82" fill="#002000"/>
<rect x="233.16" y="395.69" width="26.32" height="2.51" fill="#000800"/>
<rect x="233.16" y="398.00" width="26.32" height="3.28" fill="#00a000"/>
<rect x="233.16" y="401.08" width="26.32" height="15.58" fill="#006000"/>
<rect x="233.16" y="416.46" width="26.32" height="4.82" fill="#003000"/>
<rect x="233.16" y="421.08" width="26.32" height="3.62" fill="#006000"/>
<rect x="233.16" y="424.50" width="26.32" height="2.78" fill="#10d010"/>
<rect x="233.16" y="427.08" width="26.32" height="3.28" fill="#002000"/>
<rect x="233.16" y="430.15" width="26.32" height="7.89" fill="#003000"/>
<rect x="233.16" y="437.85" width="26.32" height="14.05" fill="#300000"/>
<rect x="233.16" y="451.69" width="26.32" height="4.82" fill="#002000"/>
<rect x="233.16" y="456.31" width="26.32" height="4.05" fill="#600000"/>
<rect x="233.16" y="460.15" width="26.32" height="3.28" fill="#080000"/>
<rect x="233.16" y="463.23" width="26.32" height="5.58" fill="#003000"/>
<rect x="233.16" y="468.62" width="26.32" height="7.89" fill="#006000"/>
<rect x="233.16" y="476.31" width="26.32" height="4.82" fill="#000800"/>
<rect x="233.16" y="480.92" width="26.32" height="4.82" fill="#004000"/>
<rect x="233.16" y="485.54" width="26.32" height="5.16" fill="#006000"/>
<rect x="259.18" y="359.60" width="26.32" height="2.45" fill="#002000"/>
<rect x="259.18" y="361.85" width="26.32" height="4.82" fill="#006000"/>
<rect x="259.18" y="366.46" width="26.32" height="4.82" fill="#002000"/>
<rect x="259.18" y="371.08" width="26.32" height="3.28" fill="#005000"/>
<rect x="259.18" y="374.15" width="26.32" height="7.12" fill="#006000"/>
<rect x="259.18" y="381.08" width="26.32" height="10.20" fill="#001000"/>
<rect x="259.18" y="391.08" width="26.32" height="3.28" fill="#400000"/>
<rect x="259.18" y="394.15" width="26.32" height="4.05" fill="#080000"/>
<rect x="259.18" y="398.00" width="26.32" height="1.74" fill="#400000"/>
<rect x="259.18" y="399.54" width="26.32" height="3.28" fill="#080800"/>
<rect x="259.18" y="402.62" width="26.32" height="14.82" fill="#005000"/>
<rect x="259.18" y="417.23" width="26.32" height="7.47" fill="#201000"/>
<rect x="259.18" y="424.50" width="26.32" height="2.78" fill="#700000"/>
<rect x="259.18" y="427.08" width="26.32" height="5.58" fill="#500000"/>
<rect x="259.18" y="432.46" width="26.32" height="8.66" fill="#800000"/>
<rect x="259.18" y="440.92" width="26.32" height="9.43" fill="#500000"/>
<rect x="259.18" y="450.15" width="26.32" height="5.58" fill="#a80000"/>
<rect x="259.18" y="455.54" width="26.32" height="1.74" fill="#500000"/>
<rect x="259.18" y="457.08" width="26.32" height="4.82" fill="#001000"/>
<rect x="259.18" y="461.69" width="26.32" height="8.66" fill="#700000"/>
<rect x="259.18" y="470.15" width="26.32" height="6.35" fill="#500000"/>
<rect x="259.18" y="476.31" width="26.32" height="7.89" fill="#800000"/>
<rect x="259.18" y="484.00" width="26.32" height="4.05" fill="#400000"/>
<rect x="259.18" y="487.85" width="26.32" height="2.85" fill="#800000"/>
<rect x="285.20" y="359.60" width="26.32" height="7.06" fill="#007000"/>
<rect x="285.20" y="366.46" width="26.32" height="4.82" fill="#002000"/>
<rect x="285.20" y="371.08" width="26.32" height="10.20" fill="#005000"/>
<rect x="285.20" y="381.08" width="26.32" height="9.43" fill="#001000"/>
<rect x="285.20" y="390.31" width="26.32" height="4.05" fill="#300000"/>
<rect x="285.20" y="394.15" width="26.32" height="7.89" fill="#080000"/>
<rect x="285.20" y="401.85" width="26.32" height="15.58" fill="#006000"/>
<rect x="285.20" y="417.23" width="26.32" height="7.47" fill="#200000"/>
<rect x="285.20" y="424.50" width="26.32" height="2.78" fill="#400000"/>
<rect x="285.20" y="427.08" width="26.32" height="10.97" fill="#600000"/>
<rect x="285.20" y="437.85" width="26.32" height="12.51" fill="#400000"/>
<rect x="285.20" y="450.15" width="26.32" height="8.66" fill="#700000"/>
<rect x="285.20" y="458.62" width="26.32" height="1.74" fill="#205000"/>
<rect x="285.20" y="460.15" width="26.32" height="8.66" fill="#600000"/>
<rect x="285.20" y="468.62" width="26.32" height="6.35" fill="#300000"/>
<rect x="285.20" y="474.77" width="26.32" height="10.97" fill="#400000"/>
<rect x="285.20" y="485.54" width="26.32" height="5.16" fill="#800000"/>
<rect x="311.22" y="359.60" width="26.32" height="3.98" fill="#002000"/>
<rect x="311.22" y="363.38" width="26.32" height="3.28" fill="#00c000"/>
<rect x="311.22" y="366.46" width="26.32" height="4.05" fill="#004000"/>
<rect x="311.22" y="370.31" width="26.32" height="6.35" fill="#006000"/>
<rect x="311.22" y="376.46" width="26.32" height="4.05" fill="#008000"/>
<rect x="311.22" y="380.31" width="26.32" height="10.97" fill="#002000"/>
<rect x="311.22" y="391.08" width="26.32" height="4.05" fill="#600000"/>
<rect x="311.22" y="394.92" width="26.32" height="4.05" fill="#300000"/>
<rect x="311.22" y="398.77" width="26.32" height="19.43" fill="#006000"/>
<rect x="311.22" y="418.00" width="26.32" height="3.28" fill="#300000"/>
<rect x="311.22" y="421.08" width="26.32" height="3.62" fill="#002000"/>
<rect x="311.22" y="424.50" width="26.32" height="2.01" fill="#002000"/>
<rect x="311.22" y="426.31" width="26.32" height="7.12" fill="#700000"/>
<rect x="311.22" y="433.23" width="26.32" height="4.82" fill="#a80000"/>
<rect x="311.22" y="437.85" width="26.32" height="9.43" fill="#780000"/>
<rect x="311.22" y="447.08" width="26.32" height="2.51" fill="#980000"/>
<rect x="311.22" y="449.38" width="26.32" height="6.35" fill="#700000"/>
<rect x="311.22" y="455.54" width="26.32" height="5.58" fill="#b80000"/>
<rect x="311.22" y="460.92" width="26.32" height="10.97" fill="#800000"/>
<rect x="311.22" y="471.69" width="26.32" height="3.28" fill="#080000"/>
<rect x="311.22" y="474.77" width="26.32" height="6.35" fill="#500000"/>
<rect x="311.22" y="480.92" width="26.32" height="1.74" fill="#204000"/>
<rect x="311.22" y="482.46" width="26.32" height="8.24" fill="#500000"/>
</g>
<rect x="24.60" y="359.20" width="313.04" height="131.70" fill="none" stroke="#000" stroke-width="0.9"/>
<text x="64.20" y="350.30" font-size="9.9" text-anchor="middle" textLength="28.7" lengthAdjust="spacingAndGlyphs">DMSO</text>
<line x1="27.70" y1="355.50" x2="100.80" y2="355.50" stroke="#111" stroke-width="1.2"/>
<text x="142.00" y="350.30" font-size="9.9" text-anchor="middle" textLength="16.5" lengthAdjust="spacingAndGlyphs">Dex</text>
<line x1="105.20" y1="355.50" x2="178.40" y2="355.50" stroke="#111" stroke-width="1.2"/>
<text x="219.50" y="350.30" font-size="9.9" text-anchor="middle" textLength="19.4" lengthAdjust="spacingAndGlyphs">Quiz</text>
<line x1="183.10" y1="355.50" x2="256.30" y2="355.50" stroke="#111" stroke-width="1.2"/>
<text x="297.40" y="350.30" font-size="9.9" text-anchor="middle" textLength="48.3" lengthAdjust="spacingAndGlyphs">Quiz + Dex</text>
<line x1="260.90" y1="355.50" x2="334.50" y2="355.50" stroke="#111" stroke-width="1.2"/>
<polyline points="22.3,360.5 15.0,360.5 15.0,391.6 22.3,391.6" fill="none" stroke="#111" stroke-width="1.1"/>
<text x="8.00" y="380.10" font-size="13.4" font-weight="bold" fill="#000">i</text>
<text x="371.50" y="365.40" font-size="9.9" text-anchor="middle" textLength="41" lengthAdjust="spacingAndGlyphs">Color Key</text>
<rect x="345.55" y="369.75" width="52" height="17.9" fill="url(#ckey)" stroke="#000" stroke-width="1.1"/>
<line x1="352.40" y1="388.40" x2="352.40" y2="391.30" stroke="#111" stroke-width="0.9"/>
<text x="352.40" y="403.30" font-size="9.4" text-anchor="middle">-2</text>
<line x1="361.98" y1="388.40" x2="361.98" y2="391.30" stroke="#111" stroke-width="0.9"/>
<text x="361.98" y="403.30" font-size="9.4" text-anchor="middle">-1</text>
<line x1="371.56" y1="388.40" x2="371.56" y2="391.30" stroke="#111" stroke-width="0.9"/>
<text x="371.56" y="403.30" font-size="9.4" text-anchor="middle">0</text>
<line x1="381.14" y1="388.40" x2="381.14" y2="391.30" stroke="#111" stroke-width="0.9"/>
<text x="381.14" y="403.30" font-size="9.4" text-anchor="middle">1</text>
<line x1="390.72" y1="388.40" x2="390.72" y2="391.30" stroke="#111" stroke-width="0.9"/>
<text x="390.72" y="403.30" font-size="9.4" text-anchor="middle">2</text>
<text x="371.60" y="418.50" font-size="10.6" text-anchor="middle" textLength="45" lengthAdjust="spacingAndGlyphs">Row Z-score</text>
<text x="16.80" y="519.90" font-size="13.4" font-weight="bold" fill="#000">i</text>
<rect x="24.9" y="514.30" width="231.70" height="7.3" fill="#a86a27"/>
<rect x="24.9" y="523.45" width="97.10" height="7.3" fill="#de8b1c"/>
<rect x="24.9" y="532.61" width="81.20" height="7.3" fill="#de8b1c"/>
<rect x="24.9" y="541.76" width="77.70" height="7.3" fill="#de8b1c"/>
<rect x="24.9" y="550.92" width="50.90" height="7.3" fill="#e9b923"/>
<rect x="24.9" y="560.07" width="46.10" height="7.3" fill="#e9b923"/>
<rect x="24.9" y="569.22" width="45.40" height="7.3" fill="#e9b923"/>
<rect x="24.9" y="578.38" width="43.40" height="7.3" fill="#e9b923"/>
<rect x="24.9" y="587.53" width="42.20" height="7.3" fill="#e9b923"/>
<rect x="24.9" y="596.69" width="35.80" height="7.3" fill="#f4dc9c"/>
<rect x="24.9" y="605.84" width="33.20" height="7.3" fill="#f4dc9c"/>
<rect x="24.9" y="614.99" width="27.90" height="7.3" fill="#f9ecd2"/>
<rect x="24.9" y="624.15" width="25.80" height="7.3" fill="#f9ecd2"/>
<rect x="24.9" y="633.30" width="22.80" height="7.3" fill="#f9ecd2"/>
<polyline points="24.4,645.6 24.4,508.8 268.5,508.8 268.5,645.6" fill="none" stroke="#231f20" stroke-width="1.1"/>
<line x1="23.90" y1="645.70" x2="269.00" y2="645.70" stroke="#231f20" stroke-width="1.5"/>
<line x1="24.40" y1="645.70" x2="24.40" y2="649.30" stroke="#231f20" stroke-width="1.0"/>
<text x="24.40" y="661.20" font-size="9.9" text-anchor="middle">0</text>
<line x1="76.15" y1="645.70" x2="76.15" y2="649.30" stroke="#231f20" stroke-width="1.0"/>
<text x="76.15" y="661.20" font-size="9.9" text-anchor="middle">5</text>
<line x1="127.90" y1="645.70" x2="127.90" y2="649.30" stroke="#231f20" stroke-width="1.0"/>
<text x="127.90" y="661.20" font-size="9.9" text-anchor="middle" textLength="9.4" lengthAdjust="spacingAndGlyphs">10</text>
<line x1="179.65" y1="645.70" x2="179.65" y2="649.30" stroke="#231f20" stroke-width="1.0"/>
<text x="179.65" y="661.20" font-size="9.9" text-anchor="middle" textLength="9.4" lengthAdjust="spacingAndGlyphs">15</text>
<line x1="231.40" y1="645.70" x2="231.40" y2="649.30" stroke="#231f20" stroke-width="1.0"/>
<text x="231.40" y="661.20" font-size="9.9" text-anchor="middle" textLength="9.4" lengthAdjust="spacingAndGlyphs">20</text>
<text x="146.15" y="675.90" font-size="10.6" text-anchor="middle" textLength="36.3" lengthAdjust="spacingAndGlyphs">-log10(P)</text>
<text x="276.90" y="521.50" font-size="9.3" textLength="170.4" lengthAdjust="spacingAndGlyphs">GO:0042613: MHC class II protein complex</text>
<text x="276.90" y="530.78" font-size="9.3" textLength="202.6" lengthAdjust="spacingAndGlyphs">GO:0023026: MHC class II protein complex binding</text>
<text x="276.90" y="540.05" font-size="9.3" textLength="162.6" lengthAdjust="spacingAndGlyphs">GO:0007159: leukocyte cell-cell adhesion</text>
<text x="276.90" y="549.33" font-size="9.3" textLength="140.3" lengthAdjust="spacingAndGlyphs">GO:0030246: carbohydrate binding</text>
<text x="276.90" y="558.61" font-size="9.3" textLength="232.7" lengthAdjust="spacingAndGlyphs">GO:0010715: regulation of extracellular matrix disassembly</text>
<text x="276.90" y="567.88" font-size="9.3" textLength="151.2" lengthAdjust="spacingAndGlyphs">GO:0019865: immunoglobulin binding</text>
<text x="276.90" y="577.16" font-size="9.3" textLength="133.0" lengthAdjust="spacingAndGlyphs">GO:0050900: leukocyte migration</text>
<text x="276.90" y="586.44" font-size="9.3" textLength="139.2" lengthAdjust="spacingAndGlyphs">GO:0001540: amyloid-beta binding</text>
<text x="276.90" y="595.72" font-size="9.3" textLength="121.9" lengthAdjust="spacingAndGlyphs">GO:0005775: vacuolar lumen</text>
<text x="276.90" y="604.99" font-size="9.3" textLength="161.1" lengthAdjust="spacingAndGlyphs">GO:0005044: scavenger receptor activity</text>
<text x="276.90" y="614.27" font-size="9.3" textLength="90.6" lengthAdjust="spacingAndGlyphs">GO:0044297: cell body</text>
<text x="276.90" y="623.55" font-size="9.3" textLength="143.1" lengthAdjust="spacingAndGlyphs">GO:0009617: response to bacterium</text>
<text x="276.90" y="632.82" font-size="9.3" textLength="131.0" lengthAdjust="spacingAndGlyphs">GO:0045177: apical part of cell</text>
<text x="276.90" y="642.10" font-size="9.3" textLength="179.7" lengthAdjust="spacingAndGlyphs">GO:0072073: kidney epithelium development</text>
<rect x="271.9" y="513.6" width="1.1" height="8.1" fill="#a86a27"/>
<rect x="271.9" y="522.9" width="1.1" height="25.9" fill="#de8b1c"/>
<rect x="271.9" y="552.2" width="1.1" height="42.4" fill="#e9b923"/>
<rect x="271.9" y="598.3" width="1.1" height="14.7" fill="#f4dc9c"/>
<rect x="271.9" y="618.0" width="1.1" height="25.0" fill="#f9ecd2"/>
</svg>
</body></html>
